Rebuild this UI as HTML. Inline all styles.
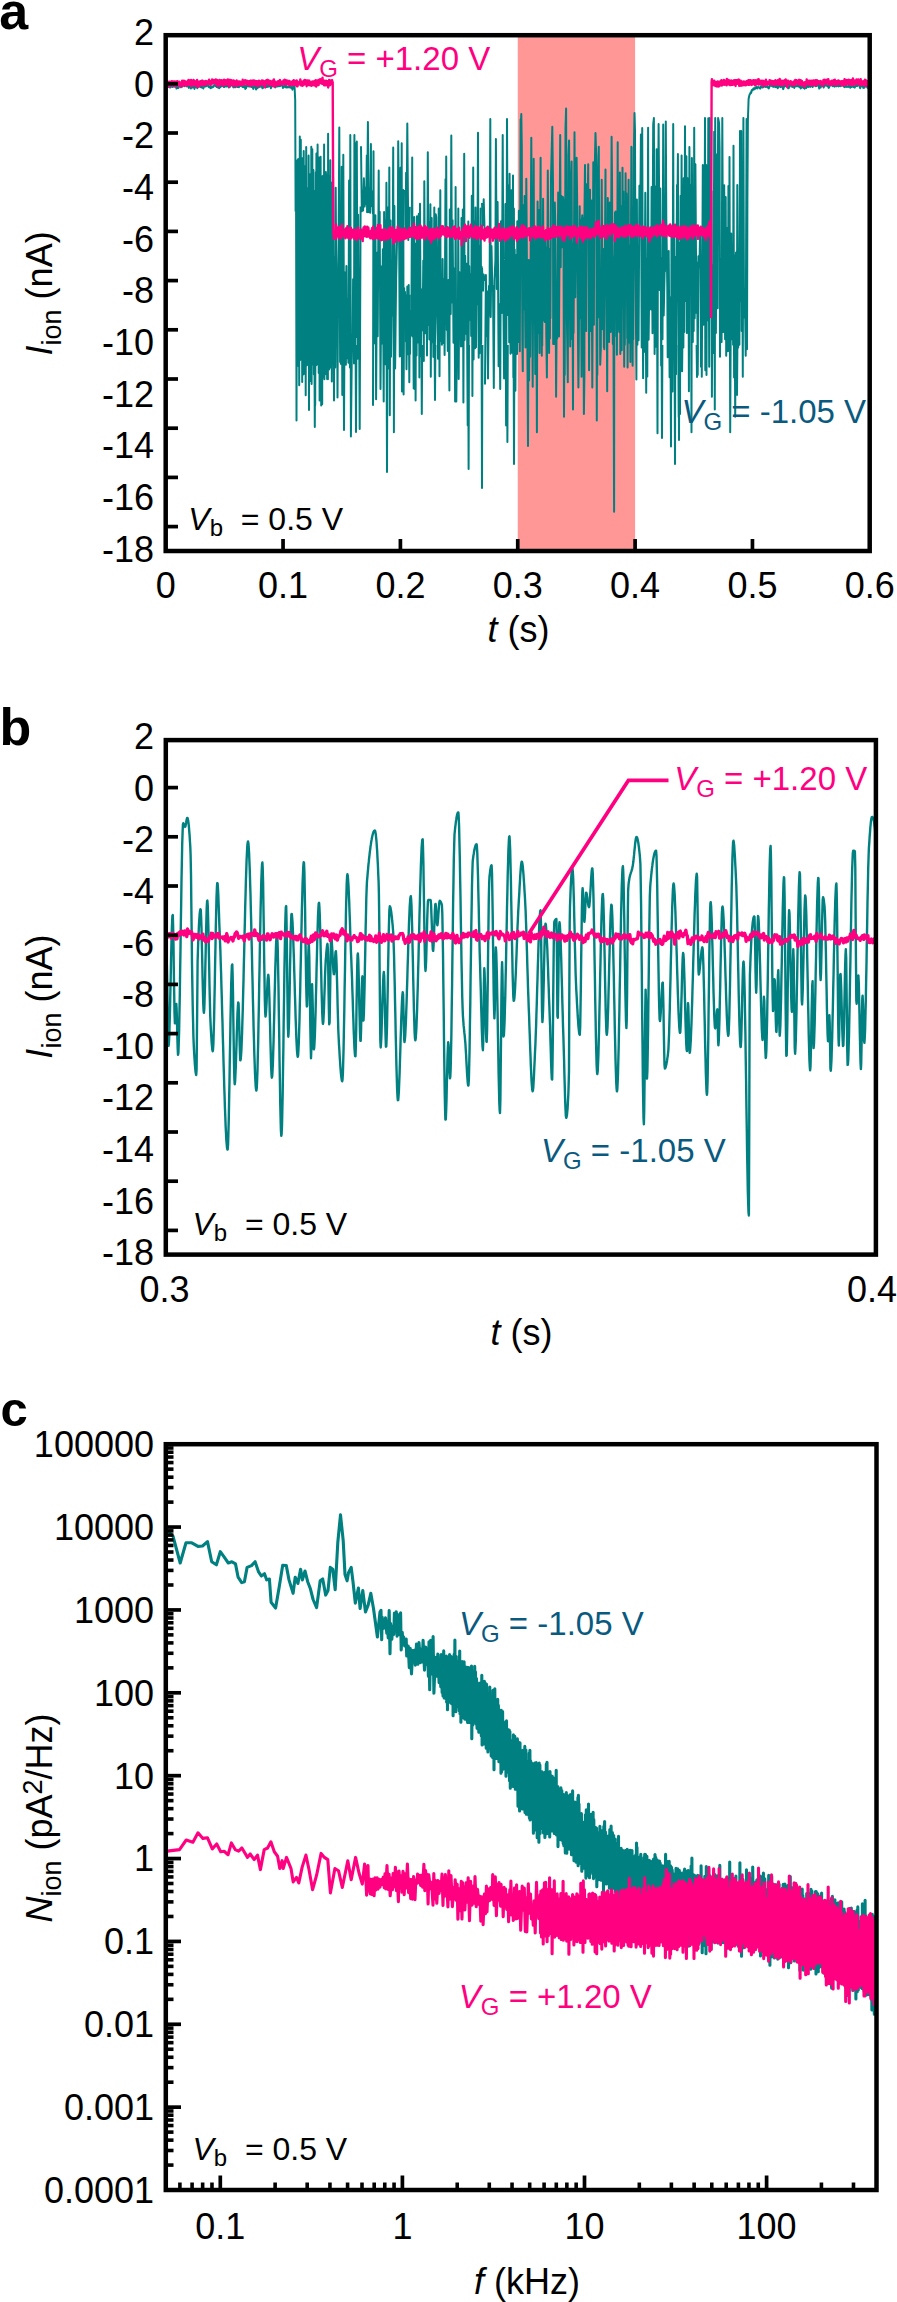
<!DOCTYPE html>
<html><head><meta charset="utf-8"><style>
html,body{margin:0;padding:0;background:#fff;}
svg{display:block;}
text{font-family:"Liberation Sans", sans-serif;}
</style></head><body>
<svg width="897" height="2302" viewBox="0 0 897 2302">
<rect width="897" height="2302" fill="#fff"/>
<text x="-0.8" y="28.8" font-size="52" text-anchor="start" fill="#000" font-weight="bold">a</text>
<rect x="517.75" y="37" width="117.35" height="512" fill="#FF9797"/>
<polyline points="166.5,86.4 166.9,86.4 167.3,86.3 167.7,84.4 168.1,85.3 168.5,87 168.9,84.9 169.3,85.7 169.7,86.6 170.1,87.5 170.5,84.7 170.9,85.1 171.3,85.2 171.7,83.2 172.1,87 172.5,86.9 172.9,86.9 173.3,86.7 173.7,85.9 174.1,85.4 174.5,86.4 174.9,86.7 175.3,84.8 175.7,86.7 176.1,86.3 176.5,88.6 176.9,88.3 177.3,87.8 177.7,87 178.1,87.3 178.5,88 178.9,86.7 179.3,86.2 179.7,85.7 180.1,85.1 180.5,86.7 180.9,87.3 181.3,86.1 181.7,86.2 182.1,85.7 182.5,86.1 182.9,84.8 183.3,85.7 183.7,84.2 184.1,84.2 184.5,86.3 184.9,84.6 185.3,85.5 185.7,84.8 186.1,85.3 186.5,84.7 186.9,86.5 187.3,86.4 187.7,85.6 188.1,86 188.5,86.4 188.9,87.9 189.3,86.1 189.7,86.3 190.1,86.4 190.5,86.8 190.9,88.5 191.3,86.9 191.7,86.7 192.1,85 192.5,87.6 192.9,86.7 193.3,84.6 193.7,84.7 194.1,85.9 194.5,88.9 194.9,86.3 195.3,86.6 195.7,87 196.1,85.8 196.5,87.1 196.9,86.9 197.3,88.3 197.7,86.5 198.1,86 198.5,86.3 198.9,85.8 199.3,86.4 199.7,85.5 200.1,85.7 200.5,87 200.9,87.3 201.3,87.4 201.7,86.4 202.1,86.5 202.5,87.7 202.9,87.5 203.3,88.5 203.7,87.2 204.1,86.4 204.5,85.5 204.9,86.3 205.3,86.5 205.7,86.1 206.1,86.3 206.5,85.6 206.9,84.3 207.3,83.9 207.7,84.7 208.1,86 208.5,86.7 208.9,87.3 209.3,87.3 209.7,86.4 210.1,87.7 210.5,88.2 210.9,86.6 211.3,87 211.7,87.7 212.1,86.5 212.5,87.1 212.9,86.6 213.3,86.9 213.7,85.6 214.1,85.2 214.5,85.5 214.9,84.7 215.3,86 215.7,86 216.1,86.1 216.5,86.9 216.9,85.5 217.3,86.4 217.7,87.3 218.1,87.5 218.5,87.2 218.9,88.1 219.3,88.2 219.7,86.1 220.1,87.1 220.5,87 220.9,85.9 221.3,86.3 221.7,84.8 222.1,85 222.5,84.9 222.9,86.1 223.3,85.6 223.7,87.1 224.1,86.8 224.5,86.9 224.9,85.8 225.3,86.2 225.7,84.8 226.1,83.5 226.5,86.4 226.9,85.7 227.3,84 227.7,85 228.1,84.3 228.5,87.1 228.9,87.5 229.3,86.1 229.7,87 230.1,85 230.5,86 230.9,83.3 231.3,83.8 231.7,85.2 232.1,85.4 232.5,85.1 232.9,84.2 233.3,87.3 233.7,87.4 234.1,84.6 234.5,86.3 234.9,86 235.3,87.3 235.7,85.3 236.1,84.3 236.5,84.9 236.9,85.7 237.3,87.1 237.7,86.8 238.1,86.6 238.5,85.5 238.9,87.2 239.3,85.5 239.7,85.3 240.1,85.7 240.5,86 240.9,84.4 241.3,85.6 241.7,85.9 242.1,85.9 242.5,86.9 242.9,86.4 243.3,87 243.7,87.2 244.1,86.3 244.5,85.4 244.9,86 245.3,88.9 245.7,88.4 246.1,88.1 246.5,85.4 246.9,86.3 247.3,85.1 247.7,85.9 248.1,86.3 248.5,85.2 248.9,86.5 249.3,85.1 249.7,84.7 250.1,86.4 250.5,85.1 250.9,84.9 251.3,87 251.7,85.2 252.1,84.9 252.5,84.9 252.9,87.4 253.3,88.9 253.7,87.2 254.1,87.6 254.5,86 254.9,87.1 255.3,86.6 255.7,87.3 256.1,89.5 256.5,87.4 256.9,86.4 257.3,88.3 257.7,87.7 258.1,86.3 258.5,85.1 258.9,87.3 259.3,86.5 259.7,86.7 260.1,86.7 260.5,86.6 260.9,84.5 261.3,85.2 261.7,85.7 262.1,87.4 262.5,88.3 262.9,88.1 263.3,85.9 263.7,86.8 264.1,86.5 264.5,85.1 264.9,85.5 265.3,85.4 265.7,84.5 266.1,84.3 266.5,87.1 266.9,84.7 267.3,86.8 267.7,86.9 268.1,86.6 268.5,85.4 268.9,85.9 269.3,85.8 269.7,86.2 270.1,85.9 270.5,85.9 270.9,88.2 271.3,86.6 271.7,85.9 272.1,85.1 272.5,86.2 272.9,85.8 273.3,86.1 273.7,85.5 274.1,86.5 274.5,85.4 274.9,85.9 275.3,87.4 275.7,86.4 276.1,86.6 276.5,86.4 276.9,85.9 277.3,86.5 277.7,86.1 278.1,85.9 278.5,86.1 278.9,85 279.3,85 279.7,86.3 280.1,86.1 280.5,84.9 280.9,85 281.3,83.2 281.7,85.5 282.1,85.6 282.5,85.4 282.9,87.9 283.3,86.2 283.7,86.5 284.1,86.1 284.5,86.8 284.9,85.3 285.3,87.3 285.7,85.6 286.1,85.9 286.5,87.5 286.9,87.5 287.3,86.6 287.7,86.7 288.1,87.1 288.5,86.4 288.9,87.2 289.3,86.1 289.7,87.4 290.1,86.8 290.5,86.9 290.9,87.6 291.3,88.1 291.7,86.6 292.1,87 292.5,89.7 292.9,87.3 293.3,87.4 293.7,87.5 294.1,86.3 294.5,85.3 295.2,100 295.6,211 296,165.7 296.5,420.5 297.1,160.6 297.6,365.6 298.2,158.9 298.6,366.2 298.9,190.7 299.2,385.2 299.8,136.6 300.2,360.1 300.8,139.7 301.3,358.9 301.8,157.9 302.2,382 302.7,174 303.2,374.5 303.7,151.1 304.1,365 304.7,170.9 305,374 305.4,166.1 305.7,395.3 306.2,147 306.5,365.5 306.9,188 307.6,352.1 307.9,189.8 308.2,365.1 308.6,155.5 309,409.9 309.4,174 310.1,381.1 310.5,182.2 311,372.8 311.3,146.7 311.6,384.1 312.3,149.3 312.8,364.5 313.4,170.1 313.9,374.3 314.6,191 315.2,405.3 315.8,172.3 316.1,365.2 316.4,153.5 317,364.6 317.6,144.5 318,358.6 318.4,166.7 318.7,372.9 319,157.4 319.6,400.6 320,182.6 320.3,375 320.6,156.7 321.2,405.5 321.7,183.8 322.2,404.3 322.6,176 323,377.3 323.3,175.5 323.8,365.1 324.1,144.6 324.4,379.2 324.7,190.9 325.3,374.3 325.9,172.1 326.3,359.9 326.6,180.5 327.1,378.9 327.4,174.6 327.9,379.2 328.1,133.8 328.5,369.7 328.8,175.9 329.1,369.6 329.6,191.6 329.9,367.7 330.3,160.2 330.9,354.2 331.5,182.7 331.8,381.5 332,282.5 332.4,317.3 333.1,177.6 334,400.4 334.4,257 335.2,367.5 335.7,187.7 336.6,340.2 337,288 337.5,397.6 338.2,266.1 338.6,241.6 339.3,127.4 340.1,362 340.7,286.2 341,363.9 341.7,166.7 342.3,394.9 343.3,154.8 344.1,365.7 345,272.5 345.9,364.8 346.4,266.1 346.9,358.3 347.7,299 348.4,362.8 349.1,180.6 349.9,367.4 350.3,134.9 350.9,436.6 351.9,346.7 352.7,337.1 353.1,279.2 354,363.6 354.4,135 355,362.5 355.6,143.4 356.2,337 356.8,141.5 357.6,358.8 358.1,214.7 358.7,352.4 359.1,314 359.7,429 360.6,206.5" fill="none" stroke="#008080" stroke-width="2.0" stroke-linejoin="round" />
<polyline points="361,146.3 361.8,211.3 362.7,191 363.1,210.6 363.9,178.3 364.6,206.6 365.6,187.5 366.2,204.2 366.8,155.6 367.1,212.2 367.9,121.9 368.6,212 369.6,188.6 370.2,212.8 370.9,143.9 371.2,206 372,191 373,214.1" fill="none" stroke="#008080" stroke-width="2.0" stroke-linejoin="round" />
<polyline points="373,405.7 373.5,151.2 374.1,339.1 374.6,287.3 375,343.6 375.4,215.2 376.1,399.3 377,252.7 377.7,336.2 378.7,170.6 379.2,286 379.7,211.8 380.5,389 381.4,266.5 382,343.4 382.8,249.3 383.7,401.4 384.1,211.9 385.1,364.2 385.4,220.2 385.8,364.2 386.4,182.8 387.2,362.4 387.8,207.5 388.6,368.6 389.3,167.4 389.8,415.2 390.5,220.4 391,356.7 391.9,280.6 392.4,315.6 393.2,147.5 393.9,432.3 394.4,205.9 395.1,368.4 396.1,280.8 397,239.7 397.9,225.1 398.2,141.2 399.2,249.9 399.8,356.4 400.5,167.8 401.3,356 401.7,143.2 402,391.5 402.3,274.7 402.7,355.7 403.3,189.9 403.6,394.6 404.2,287.6" fill="none" stroke="#008080" stroke-width="2.0" stroke-linejoin="round" />
<polyline points="405,190 405.6,233.6 406.1,172.7 406.5,237.6 407.3,123.6 408.3,240.1 408.7,212.1 409.3,230.7 409.8,206.8" fill="none" stroke="#008080" stroke-width="2.0" stroke-linejoin="round" />
<polyline points="405,291.2 405.6,341.2 406.1,295.7 406.5,369.3 407.3,286.6 408.3,354.2 408.7,285 409.3,382.2 409.8,294.8" fill="none" stroke="#008080" stroke-width="2.0" stroke-linejoin="round" />
<polyline points="410,354.6 410.5,310.8 411.3,335.2 412.2,157.6 412.6,336.6 413.1,285.4 413.7,388.4 414.3,217.1 414.7,389 415.1,243.6 415.6,400.5 416,282 416.6,355.6 417,216.3 418,342.5 418.8,213.8 419.4,377.6 420,203.7 420.8,356.3 421.7,289.6 422.6,330.3 423.3,260.6 423.8,360.9 424.3,181.2 425.2,333.3 426.1,231.5 427,355.6 427.8,152.3 428.7,325.1 429.1,221.7 429.4,339.5 430.4,204.3 430.8,376.8 431.7,218 432,342.3 432.7,240.5 433.4,357.1 434.3,207.4 434.8,352.7 435.5,311.3 435.8,214.3 436.2,217.2 436.6,258.2 437.1,290.9 438,358.7 438.7,208.6 439.5,376.2 440.3,190.2 440.6,340.9 441.5,308.6 441.9,344.7 442.6,259.1 443.4,343.1 443.9,279 444.6,355.1 445.5,179.3 445.9,309.7 446.2,156.4 446.8,329.9 447.4,320.4 447.8,351.1 448.4,280.1 449.4,390.5 449.8,209.6 450.7,314.1 451.3,135.5 452,302.5 452.6,220.2 453.5,342.8 453.9,313.9 454.2,290 454.5,268.3 455.1,401.4 455.6,187 456.3,401.5 457.2,313.4 457.8,352.6 458.3,208.4 458.7,379.1 459.3,272.1 459.6,339.1 460.4,278.3 461,346.6 461.5,218 462,345.9 462.8,209.6 463.4,402.6 464.2,153.7 464.6,339.9 465.2,255.7 466.2,333.7 466.7,263.7 467.7,425.2 468.3,221.5 468.6,347.8 469.2,266.1 470.1,319.7 470.8,274.1 471.2,336.1 471.8,195.7 472.4,396.1 473.2,167.4 473.6,359.4 474.2,221.2 475.1,348.3 475.5,207.5 476,347.3 476.8,249.5 477.2,304.3 478,132.7 478.7,357.8 479.5,245.9 479.9,353.2 480.7,208.5 481.2,343.9 481.5,266" fill="none" stroke="#008080" stroke-width="2.0" stroke-linejoin="round" />
<polyline points="482,203 483,224.9 483.7,199.3 484.7,235.5" fill="none" stroke="#008080" stroke-width="2.0" stroke-linejoin="round" />
<polyline points="482,267.6 483,290.8 483.7,274.6 484.7,281" fill="none" stroke="#008080" stroke-width="2.0" stroke-linejoin="round" />
<polyline points="485,384.4 485.9,275.1 486.7,335.9 487.2,291.5 488,378.6 488.9,286 489.5,314.6 490.3,119.1 490.7,317.1 491.5,245.9 492.3,289.6 493,286 493.8,387.9 494.5,280.5 495.4,260 495.9,139.1 496.8,289.1 497.6,202.1 498.6,366.3 499.6,304.3 500.2,388.9 501,221.2 501.7,313 502.1,264.1 502.7,135 503.5,311.5 504.1,378.4 504.8,275.1 505.1,329 505.4,203.9 506.1,425.6 507,119.1 507.9,315 508.4,185.7 509.2,342.2 509.6,173.8 510.5,353.8 511.5,190.2 512.3,352.8 513,175.6 513.5,377.3 513.9,208.5 514.3,317.9 514.7,249.5 515.4,390.7 516.1,255 517,354 517.3,221.2 517.8,226.2 517.9,256.3 518.2,342.1 518.9,210.7 519.3,320.2 519.5,300.1 519.8,351.2 520.6,119.4 520.9,123.1 521.3,114 521.8,146.8 522.1,283.7 522.4,342.1 522.8,371.3 523,250.8 523.5,205.2 524,309.2 524.6,196.1 525.2,320.2 525.5,347.6 526.3,178.8 526.7,228.9 528,446.1 528.7,260 529.1,380.4 529.7,298.3 530.1,356.7 531.3,137.7 532.7,386.7 533.7,158.7 534.2,312.8 534.7,270.9 535.3,374 536.1,228.9 536.9,432.3 537.6,201.5 538,332.9 538.5,209.8 539.6,353 540.6,157.8 541.1,303.7 541.4,239.9 541.8,355.7 541.9,280 542.2,345.7 543.1,198.8 543.7,320.2 544.2,256.2 544.5,239.9 544.8,322 545.1,232.6 545.5,270.9 545.8,247.2 546.3,334.7 546.9,377.6 547.8,170.5 548.4,258.1 549.1,353 549.5,249 549.9,338.4 550.2,270.9 550.4,318.3 551,177.8 552.3,126.7 553,183.3 553.2,343.9 553.8,268.1 554.2,343.9 554.8,202.5 555.3,225.3 556.1,396.8 556.9,288.2 557.2,338.4 558.2,192.4 559,336.6 560.2,135 560.7,267.2 561.1,196.1 561.5,196.1 561.9,247.2 562.3,199.7 562.6,221.6 563,197 563.4,201.2 564,416.8 564.4,338.4 564.7,374.9 565.5,128.6 566.1,108.5 566.8,311 567.2,338.4 567.8,382.2 568.5,155.9 569.1,140.4 569.7,265.4 570.2,346.6 570.4,264.5 570.8,339.3 571.2,174.2 571.6,161.4 572.1,314.7 572.3,243.5 573,409.5 573.3,258.1 573.6,332.9 574.5,132.2 575.3,297.3 576.1,199.7 576.6,157.8 577.1,196.2 577.7,301.9 578.4,387.6 578.8,347.5 579.7,206.2 580,318.3 580.5,219.8 581.2,311 581.6,376.7 582,218 582.3,215.2 582.5,317.4 582.8,218 583.5,332.9 583.9,414.1 584.4,374.9 584.5,210.7 585,165.1 585.6,283.7 586.2,331.1 586.6,184.2 586.9,218 587.2,188.8 587.7,203.4 588.2,164.2 589.1,370.3 590,189.7 590.6,331.1 591.4,200.6 592.3,387.6 593.3,162.3 593.9,324.7 594.2,183.2 594.9,161.4 595.5,133.1 596.2,155.9 596.8,420.5 597.1,285.5 597.3,374.9 597.8,183.3 598.8,146.8 599.4,317.4 599.9,278.2 600.2,364.8 600.8,349.3 601.7,179.7 602.7,329.3 603.3,249 603.9,347.5 604.1,298.3 604.3,349.3 605.5,169.6 605.8,270.9 606.4,243.5 607.2,391.3 607.8,197.9 608.5,324.7 608.9,305.5 609.1,342 609.8,202.5 610.7,332 611.6,136.8 612,174.2 612.8,343.9 613.2,257.2 614.1,511.7 614.3,276.2 615,212.5 615.3,289.2 615.6,211.6 616.4,336.6 616.6,292.8 616.9,354.8 617.7,142.2 618.1,307.4 618.4,274.5 618.7,329.3 619,266.3 619.2,332 619.9,172.4 620.3,353.9 620.8,206.1 621.2,308.3 621.5,245.3 621.7,350.2 622.5,167.8 622.9,301 623.4,191.5 624.2,366.7 624.6,277.3 624.8,344.8 625.6,173.3 626,276.4 626.4,193.3 626.6,203.2 627.2,338.4 627.4,311 627.6,367.6 628.6,179.7 629,342 629.2,269.1 629.7,342.9 630.1,245.3 630.4,362.1 631.4,146.8 631.6,147.7 631.9,301 632.2,270.9 632.6,365.7 632.9,290.9 633.2,339.3 634,143.2 634.5,113.1 635,131.2 635.4,257.1 636.4,379.5 636.9,199.5 637.4,344.8 638,298.9 638.6,340.2 639.4,185.7 640.2,223.4 640.9,134.5 641.7,347.4 642.2,128.1 643.1,378.3 643.9,232.9 644.3,351.8 645.3,192.7 646.2,392.8 647,258.4 647.3,376.4 648.1,127.8 648.6,339.8 649.6,261.9 650,268.5 650.5,230.8 651,309.6 651.6,187 652.5,333.2 652.8,198.8 653.2,124.3 653.9,118 654.6,354.1 655.5,186.8 656.2,346.8 656.6,149.3 657.5,433.3 657.9,226.9 658.6,124.1 659.1,193 659.6,290.1 660.3,188.4 661.2,365.6 661.8,257.7 662.5,339.2 663.2,124.4 663.7,315.4 664.7,266.7 665,271.6 665.8,121.6 666.3,218.6 667.3,286.7 667.7,357.2 668.7,251 669.6,377.2 670.2,297.4 671,446.5 671.5,231.7 672.5,391.6 673.2,124 673.7,318.6 674.1,226.2 675,463.9 675.5,257.1 676,374.2 677,184.9 677.3,221.7 677.9,153.9 678.8,416.9 679.3,243.2 680,414.1 680.6,195.8 680.9,343.9 681.6,155.6 682.1,371.3 683,286 683.4,347.6 683.7,178.3 684.3,332 685,126.3 685.5,301 686.4,156.3 686.9,332.9 687.5,178.2 688,317.4 688.3,188.3 688.9,391.3 689.4,147.1 690.2,270.9 690.8,185.4 691.5,432.3 691.9,158 692.8,342 693.3,230.9 693.7,331.1 694.2,127.8 694.7,318.3 695.4,164.3 696.4,312.8 697.1,262.8 697.7,374.9 698.4,256.3 699.4,267.2 700.2,228.9 701,366.7 701.5,256.3 701.8,376.7 702.8,165 703.5,324.7 703.9,186.8 704.5,247.2 705,118 705.3,370.3 706.2,164.9 706.5,374.9 707,187.7 707.7,320.2 708.3,118.3 709.2,366.7 709.7,118 710.6,301 711.5,191.2 711.9,396.8 712.5,265 713.5,353 714.2,131.8 714.8,409.5 715.2,118 715.9,332.9 716.8,154.5 717.6,308.3 718.1,118 719.1,123.1 719.6,149 720,356.7 720.9,259.3 721.6,342 722.3,118 723.3,332 724.2,185.3 725.1,339.3 725.7,197.1 726.2,355.7 727,228.1 728,351.2 728.4,186.1 729.1,339.3 729.5,156.9 730.2,432.3 731.2,233.5 731.8,339.3 732.6,244.4 733.1,344.8 733.5,145.8 734.1,377.6 734.5,255.3 735.2,416.8 736,252.4 736.9,345.7 737.3,184.9 738.2,347.5 738.8,264.2 739.4,344.8 740,131 740.6,301 741.2,131 741.7,331.1 742.3,248.6 742.8,376.7 743.4,118 744,317.4 744.9,289.6 745.7,355.7 746.6,119 747,349.3 747.4,200 747.9,120 748.6,99 749.2,96 749.7,94.3 750.2,93.9 750.7,92.2 751.2,92.9 751.7,90.3 752.2,89.9 752.7,90.2 753.2,88.7 753.7,88.4 754.2,89.3 754.7,89.3 755.2,87.4 755.7,88.2 756.2,87.3 756.7,86.5 757.2,88.6 757.7,87.5 758.2,87.5 758.7,87.1 759.2,87.5 759.7,88 760.2,88.6 760.7,87.4 761.2,85.9 761.7,87.1 762.2,87.4 762.7,87.4 763.2,87.2 763.7,86.5 764.2,86.3 764.7,86.3 765.2,87 765.7,86 766.2,86.3 766.7,86.9 767.2,86.6 767.7,86.8 768.2,87.8 768.7,88.5 769.2,87.4 769.7,85.7 770.2,85.7 770.7,85.6 771.2,85.6 771.7,85.8 772.2,86.1 772.7,84.3 773.2,86.9 773.7,86.4 774.2,86 774.7,86 775.2,87.1 775.7,86 776.2,86.4 776.7,87.1 777.2,85.3 777.7,88.2 778.2,87.5 778.7,86.1 779.2,86.4 779.7,86.2 780.2,86.6 780.7,87.1 781.2,85.1 781.7,86.2 782.2,86.2 782.7,87.6 783.2,89.1 783.7,87.4 784.2,85.9 784.7,86.5 785.2,85.3 785.7,85.1 786.2,86 786.7,83.3 787.2,85.3 787.7,84.9 788.2,88.3 788.7,88.2 789.2,86.2 789.7,86.6 790.2,85.1 790.7,85.4 791.2,84.9 791.7,85.1 792.2,87 792.7,84.6 793.2,85.1 793.7,85.4 794.2,87.9 794.7,86.7 795.2,85.9 795.7,85 796.2,86.4 796.7,85.2 797.2,85.7 797.7,86.3 798.2,86 798.7,85.5 799.2,86.9 799.7,86 800.2,86.9 800.7,88.4 801.2,87.7 801.7,87.7 802.2,86.1 802.7,85.9 803.2,86.3 803.7,88.1 804.2,88.2 804.7,88.6 805.2,86.4 805.7,87.7 806.2,88 806.7,86.4 807.2,85.3 807.7,84.9 808.2,87 808.7,84.9 809.2,85.8 809.7,85.2 810.2,86.9 810.7,85.4 811.2,86.2 811.7,84.7 812.2,86.1 812.7,86.9 813.2,85.5 813.7,85 814.2,85.1 814.7,84.4 815.2,84.6 815.7,86.3 816.2,85.3 816.7,86 817.2,85.7 817.7,85.2 818.2,84.8 818.7,84.9 819.2,88.5 819.7,84.8 820.2,86 820.7,87.5 821.2,85 821.7,83.7 822.2,84.5 822.7,85.6 823.2,86.4 823.7,87.5 824.2,86.2 824.7,86 825.2,83 825.7,84.8 826.2,84.2 826.7,85.5 827.2,86.2 827.7,85.5 828.2,86 828.7,87.9 829.2,87 829.7,85.3 830.2,85.6 830.7,84.5 831.2,85.3 831.7,85 832.2,85.5 832.7,86.2 833.2,86 833.7,85.8 834.2,85.9 834.7,86.6 835.2,83.9 835.7,84.3 836.2,85 836.7,86.3 837.2,84.9 837.7,84.8 838.2,85.2 838.7,86.4 839.2,86 839.7,85.9 840.2,85.9 840.7,86.2 841.2,85.5 841.7,83.9 842.2,85 842.7,84.9 843.2,85.9 843.7,86.3 844.2,86.9 844.7,87.2 845.2,86.8 845.7,86.2 846.2,85.3 846.7,86.9 847.2,86.4 847.7,86.8 848.2,86.9 848.7,85.2 849.2,86.3 849.7,86.1 850.2,87.7 850.7,85.8 851.2,86.5 851.7,86.9 852.2,84.6 852.7,86.4 853.2,86.9 853.7,86.1 854.2,87.4 854.7,87.6 855.2,86.6 855.7,85.6 856.2,85.4 856.7,85.8 857.2,86.1 857.7,85.6 858.2,85.1 858.7,84.8 859.2,84 859.7,86.8 860.2,88.2 860.7,86.8 861.2,86 861.7,86 862.2,86.1 862.7,85.3 863.2,87.9 863.7,86.7 864.2,87.8 864.7,87.3 865.2,85.1 865.7,85.1 866.2,84.9 866.7,85.6 867.2,87.4 867.7,87.8 868.2,88.3 868.7,86.1" fill="none" stroke="#008080" stroke-width="2.0" stroke-linejoin="round" />
<polyline points="314.4,345 314.8,427 315.2,345" fill="none" stroke="#008080" stroke-width="2.0" stroke-linejoin="round" />
<polyline points="343.6,345 344,430 344.4,345" fill="none" stroke="#008080" stroke-width="2.0" stroke-linejoin="round" />
<polyline points="355.6,345 356,432 356.4,345" fill="none" stroke="#008080" stroke-width="2.0" stroke-linejoin="round" />
<polyline points="386.6,345 387,472 387.4,345" fill="none" stroke="#008080" stroke-width="2.0" stroke-linejoin="round" />
<polyline points="421.4,345 421.8,414 422.2,345" fill="none" stroke="#008080" stroke-width="2.0" stroke-linejoin="round" />
<polyline points="434.6,345 435,400 435.4,345" fill="none" stroke="#008080" stroke-width="2.0" stroke-linejoin="round" />
<polyline points="468.2,345 468.6,469 469,345" fill="none" stroke="#008080" stroke-width="2.0" stroke-linejoin="round" />
<polyline points="481.6,345 482,488 482.4,345" fill="none" stroke="#008080" stroke-width="2.0" stroke-linejoin="round" />
<polyline points="507,345 507.4,442 507.8,345" fill="none" stroke="#008080" stroke-width="2.0" stroke-linejoin="round" />
<polyline points="513.6,345 514,464 514.4,345" fill="none" stroke="#008080" stroke-width="2.0" stroke-linejoin="round" />
<polyline points="661.6,345 662,438 662.4,345" fill="none" stroke="#008080" stroke-width="2.0" stroke-linejoin="round" />
<polyline points="678.6,345 679,440 679.4,345" fill="none" stroke="#008080" stroke-width="2.0" stroke-linejoin="round" />
<polyline points="696.6,345 697,377 697.4,345" fill="none" stroke="#008080" stroke-width="2.0" stroke-linejoin="round" />
<polyline points="736.6,345 737,395 737.4,345" fill="none" stroke="#008080" stroke-width="2.0" stroke-linejoin="round" />
<polyline points="166.5,82.4 166.8,84.4 167.1,81.2 167.4,86 167.7,81.5 168,84.3 168.3,81.9 168.6,84.5 168.9,82.5 169.2,86.5 169.5,81.7 169.8,84.8 170.1,82.4 170.4,84.5 170.7,82.6 171,83.9 171.3,81.5 171.6,85.4 171.9,81.3 172.2,85.7 172.5,82.7 172.8,84.7 173.1,83.5 173.4,85.1 173.7,81.5 174,84.9 174.3,81.9 174.6,86.1 174.9,81.4 175.2,86 175.5,82.5 175.8,84.7 176.1,81.8 176.4,84.8 176.7,81.7 177,84.2 177.3,81.1 177.6,84.2 177.9,81.6 178.2,86 178.5,82.6 178.8,85.9 179.1,81.7 179.4,85.4 179.7,82.9 180,84.9 180.3,83.3 180.6,85.4 180.9,82.5 181.2,85.8 181.5,82.1 181.8,86.7 182.1,80.8 182.4,85.7 182.7,81.1 183,84.7 183.3,82.2 183.6,84.3 183.9,80.7 184.2,83.8 184.5,81 184.8,85.5 185.1,82.2 185.4,85.2 185.7,81.7 186,85.2 186.3,82.1 186.6,85.5 186.9,81.8 187.2,85.5 187.5,81.5 187.8,84.5 188.1,80.4 188.4,83.2 188.7,79.9 189,84.8 189.3,80.1 189.6,84 189.9,80.7 190.2,85 190.5,81.3 190.8,84.5 191.1,80 191.4,86.3 191.7,80.9 192,84 192.3,81.2 192.6,83.2 192.9,82.1 193.2,84.6 193.5,79.9 193.8,85.5 194.1,82.5 194.4,83.8 194.7,80.9 195,84.6 195.3,82.8 195.6,85.6 195.9,82.3 196.2,85.7 196.5,82.7 196.8,85.9 197.1,80 197.4,86.5 197.7,82.8 198,86.3 198.3,82.7 198.6,86.7 198.9,81.8 199.2,85.4 199.5,81.7 199.8,85.3 200.1,82.1 200.4,83.4 200.7,81.1 201,84.8 201.3,81.3 201.6,85.1 201.9,80.6 202.2,84 202.5,80.7 202.8,83.9 203.1,81.3 203.4,85.3 203.7,82.4 204,85.1 204.3,82.4 204.6,83.2 204.9,81.2 205.2,84 205.5,81 205.8,84.8 206.1,82.2 206.4,83.4 206.7,81.5 207,83.9 207.3,81.8 207.6,83.2 207.9,82.1 208.2,83.3 208.5,80.6 208.8,83.9 209.1,79.6 209.4,84 209.7,81.5 210,83.2 210.3,82 210.6,85.1 210.9,81.3 211.2,83 211.5,81.2 211.8,83.9 212.1,79.5 212.4,83.6 212.7,79.8 213,82.5 213.3,80 213.6,82.6 213.9,80.3 214.2,83.3 214.5,80.2 214.8,83.7 215.1,80.6 215.4,83.4 215.7,79.4 216,82.8 216.3,80.9 216.6,82.1 216.9,79.9 217.2,85.6 217.5,81.8 217.8,84.2 218.1,81.2 218.4,86.3 218.7,81.4 219,82.3 219.3,80 219.6,85.1 219.9,80.3 220.2,83 220.5,81.6 220.8,84.2 221.1,80.2 221.4,84.4 221.7,82.1 222,84 222.3,80.6 222.6,84.2 222.9,81.2 223.2,85.7 223.5,80.3 223.8,85.1 224.1,79.6 224.4,84 224.7,80.6 225,83.5 225.3,81 225.6,84.5 225.9,80.2 226.2,84.8 226.5,81.6 226.8,83.4 227.1,81.6 227.4,83.7 227.7,79.5 228,84.3 228.3,80.9 228.6,83 228.9,80 229.2,86.8 229.5,79.9 229.8,82.9 230.1,80.8 230.4,83.8 230.7,79.9 231,83.1 231.3,81.3 231.6,84.8 231.9,80.6 232.2,83.8 232.5,80.8 232.8,85.8 233.1,81.5 233.4,84.1 233.7,80.4 234,85.2 234.3,80.9 234.6,83.6 234.9,81.2 235.2,85.5 235.5,82.4 235.8,85.7 236.1,82.5 236.4,86.1 236.7,80.5 237,85.5 237.3,82.2 237.6,85.2 237.9,81.9 238.2,84.8 238.5,81.5 238.8,85.1 239.1,82.6 239.4,84.8 239.7,81.5 240,84.9 240.3,81.7 240.6,85.1 240.9,82.6 241.2,83.8 241.5,83.1 241.8,84.8 242.1,81.6 242.4,84.7 242.7,79.8 243,83.1 243.3,81.5 243.6,83.8 243.9,81.1 244.2,84.9 244.5,80.6 244.8,83 245.1,80.1 245.4,83.3 245.7,80.5 246,82.9 246.3,81.2 246.6,84.1 246.9,81 247.2,84.2 247.5,81 247.8,84.8 248.1,82.2 248.4,85 248.7,81.5 249,85.2 249.3,82.1 249.6,83.7 249.9,80.9 250.2,85.2 250.5,80.6 250.8,84.5 251.1,80.6 251.4,85.7 251.7,81.6 252,85.3 252.3,80.8 252.6,84.5 252.9,81.8 253.2,83.3 253.5,80.5 253.8,83.8 254.1,80.6 254.4,84.8 254.7,80.6 255,83.5 255.3,82 255.6,85.3 255.9,81.2 256.2,83.4 256.5,81.2 256.8,83.8 257.1,81.9 257.4,86 257.7,83 258,85.8 258.3,81 258.6,85.7 258.9,80.6 259.2,83.4 259.5,81 259.8,85.4 260.1,82.3 260.4,84.9 260.7,82.1 261,83.4 261.3,81.7 261.6,83.8 261.9,80.4 262.2,83.3 262.5,81.2 262.8,84 263.1,80.8 263.4,85.5 263.7,81 264,85.1 264.3,82.1 264.6,84.5 264.9,82.2 265.2,87.5 265.5,81.2 265.8,83.5 266.1,80.4 266.4,83.9 266.7,81.1 267,83 267.3,79.9 267.6,83.6 267.9,79.9 268.2,83 268.5,81 268.8,84.1 269.1,81.1 269.4,84.3 269.7,80.6 270,85.3 270.3,80.9 270.6,85.1 270.9,81.8 271.2,83.8 271.5,82.5 271.8,84.1 272.1,81.5 272.4,85 272.7,80.8 273,86.1 273.3,81.2 273.6,85.4 273.9,79.4 274.2,85.8 274.5,82.6 274.8,86.5 275.1,83.2 275.4,84.2 275.7,81.8 276,84.5 276.3,82.6 276.6,85.5 276.9,83.2 277.2,84.8 277.5,82.4 277.8,83.7 278.1,81.1 278.4,84.3 278.7,82.2 279,84.8 279.3,81.4 279.6,84.8 279.9,79.9 280.2,83.6 280.5,82.4 280.8,84 281.1,82.3 281.4,83.2 281.7,81.8 282,83.3 282.3,82 282.6,84.6 282.9,82.1 283.2,83.1 283.5,80.4 283.8,83.3 284.1,81.9 284.4,83.9 284.7,79.7 285,84.3 285.3,80.6 285.6,84.2 285.9,80.3 286.2,84.3 286.5,80.5 286.8,83.8 287.1,80.8 287.4,83.9 287.7,80.6 288,84.4 288.3,81.8 288.6,84.5 288.9,81.9 289.2,83.7 289.5,81 289.8,85.6 290.1,81.9 290.4,84.6 290.7,81.9 291,83.6 291.3,82.2 291.6,84.6 291.9,82.2 292.2,85.1 292.5,81.3 292.8,83.7 293.1,81.8 293.4,83.3 293.7,80.1 294,85 294.3,80.5 294.6,84 294.9,81 295.2,84.6 295.5,82.5 295.8,85.1 296.1,82.2 296.4,83.2 296.7,80.4 297,86.4 297.3,81.2 297.6,86.2 297.9,82.4 298.2,84.6 298.5,82.5 298.8,83.5 299.1,82.3 299.4,84 299.7,82.1 300,83.9 300.3,79.4 300.6,85.2 300.9,81.3 301.2,84 301.5,81.5 301.8,85.3 302.1,81.7 302.4,85.8 302.7,81.8 303,83.6 303.3,81.7 303.6,85.1 303.9,81.2 304.2,84.5 304.5,79.9 304.8,84 305.1,81.8 305.4,83.6 305.7,80.1 306,83.1 306.3,82.3 306.6,86.2 306.9,80.9 307.2,85 307.5,80.4 307.8,84.5 308.1,81.5 308.4,85.1 308.7,80.8 309,83 309.3,80.6 309.6,83.7 309.9,82.7 310.2,85.3 310.5,82.3 310.8,84.7 311.1,82.8 311.4,85.8 311.7,83.4 312,85.5 312.3,81.4 312.6,84.2 312.9,82.8 313.2,83.2 313.5,82.5 313.8,85 314.1,81.3 314.4,85.5 314.7,81.2 315,84.5 315.3,80.5 315.6,85.1 315.9,80.2 316.2,86.6 316.5,81.6 316.8,85.4 317.1,81.3 317.4,84.2 317.7,82.3 318,84.7 318.3,80 318.6,85.1 318.9,81.3 319.2,83.1 319.5,81.2 319.8,82.4 320.1,79.1 320.4,83.1 320.7,79.8 321,82.8 321.3,79.4 321.6,83.6 321.9,79.9 322.2,83.9 322.5,77.6 322.8,82.7 323.1,81.9 323.4,83.6 323.7,80.5 324,85.2 324.3,80.8 324.6,84.6 324.9,82.6 325.2,85.4 325.5,81.2 325.8,84.5 326.1,80.8 326.4,84 326.7,81.5 327,85.4 327.3,81.1 327.6,83.6 327.9,81.5 328.2,87.5 328.5,81.2 328.8,83.9 329.1,80 329.4,83.5 329.7,82.4 330,85.2 330.3,81 330.6,83.7 330.9,80.4 331.2,84.1 331.5,81.8 331.8,83 332.1,80.1 332.4,84.5 332.7,82.1 333.3,234 333.6,232.6 333.9,238.9 334.2,231 334.5,237.4 334.8,233.1 335.1,237.3 335.4,233.5 335.7,238.7 336,224.4 336.3,236.8 336.6,228.1 336.9,234.7 337.2,228.8 337.5,235.1 337.8,232 338.1,236.1 338.4,227.3 338.7,238.1 339,230.9 339.3,237.6 339.6,230 339.9,234.5 340.2,227.3 340.5,237.2 340.8,228 341.1,238.3 341.4,232 341.7,237.8 342,224.4 342.3,234.3 342.6,230.7 342.9,234.6 343.2,230.5 343.5,235.7 343.8,230.2 344.1,234.1 344.4,230.8 344.7,235.7 345,229.4 345.3,238.3 345.6,229.5 345.9,237.3 346.2,228.2 346.5,237.1 346.8,231.7 347.1,235.1 347.4,226.3 347.7,237.6 348,232.9 348.3,237.4 348.6,228.2 348.9,237 349.2,231.4 349.5,238.8 349.8,230.9 350.1,233.7 350.4,232.6 350.7,238.5 351,228 351.3,237.5 351.6,231.4 351.9,235.1 352.2,230.3 352.5,235.5 352.8,233 353.1,236.7 353.4,229.8 353.7,238.1 354,233.1 354.3,238.8 354.6,229.5 354.9,237.3 355.2,231.8 355.5,234.8 355.8,233 356.1,236.2 356.4,232.8 356.7,240.1 357,230.3 357.3,235.8 357.6,230 357.9,234.4 358.2,227.4 358.5,236.6 358.8,230.1 359.1,236 359.4,230.9 359.7,238.5 360,230.6 360.3,233.9 360.6,230.6 360.9,238.8 361.2,230.3 361.5,238.3 361.8,229.6 362.1,238.3 362.4,232.2 362.7,241.1 363,229.7 363.3,234.6 363.6,227.4 363.9,233.5 364.2,229 364.5,233.9 364.8,226.4 365.1,236.4 365.4,230.6 365.7,233.5 366,232.1 366.3,234.2 366.6,227.1 366.9,236.9 367.2,226.7 367.5,234.6 367.8,230.3 368.1,236.5 368.4,227.7 368.7,233.3 369,231.5 369.3,236.4 369.6,231.6 369.9,237.7 370.2,231.4 370.5,238.4 370.8,231.8 371.1,235 371.4,230.5 371.7,237.4 372,228.3 372.3,237.2 372.6,228.5 372.9,239.1 373.2,226.7 373.5,236.3 373.8,230.2 374.1,234.2 374.4,231.1 374.7,236.5 375,232.8 375.3,238.6 375.6,231.5 375.9,234.3 376.2,231.5 376.5,233.2 376.8,227.9 377.1,236.3 377.4,229.2 377.7,238.4 378,224.9 378.3,235.7 378.6,230.2 378.9,237.3 379.2,228.1 379.5,238.6 379.8,228.1 380.1,235.5 380.4,225.1 380.7,239.8 381,232.9 381.3,240.2 381.6,229.7 381.9,239.1 382.2,230.4 382.5,239.7 382.8,229.7 383.1,239.4 383.4,233.3 383.7,235.5 384,232.9 384.3,237.6 384.6,233.4 384.9,237.9 385.2,229.5 385.5,240.1 385.8,233.4 386.1,237.8 386.4,232.8 386.7,239.3 387,233.2 387.3,234.3 387.6,230.8 387.9,234.2 388.2,229.4 388.5,234.9 388.8,229.2 389.1,238.5 389.4,230 389.7,236.4 390,227.3 390.3,234.9 390.6,227.7 390.9,237.2 391.2,232.2 391.5,235.1 391.8,228.8 392.1,233.6 392.4,227.5 392.7,238.2 393,228.8 393.3,243.4 393.6,229.8 393.9,238.8 394.2,231.2 394.5,236.9 394.8,230 395.1,237.6 395.4,233 395.7,241.7 396,231.9 396.3,237.1 396.6,229.8 396.9,239.4 397.2,230.2 397.5,239.4 397.8,226.5 398.1,236.7 398.4,228.6 398.7,235.4 399,229.6 399.3,240.6 399.6,229.9 399.9,238.9 400.2,230.5 400.5,236.1 400.8,234.2 401.1,240.1 401.4,229 401.7,236.8 402,230 402.3,239.5 402.6,231.2 402.9,237.8 403.2,229.8 403.5,235.4 403.8,232.2 404.1,239.1 404.4,228.5 404.7,235.7 405,228.9 405.3,238.4 405.6,231.6 405.9,238.5 406.2,230.6 406.5,235.8 406.8,232.7 407.1,237.6 407.4,230.4 407.7,236.5 408,232 408.3,237.2 408.6,230.3 408.9,234.6 409.2,228.5 409.5,234.4 409.8,227.8 410.1,236.9 410.4,228 410.7,234.5 411,229.4 411.3,235.1 411.6,231 411.9,235.9 412.2,228.2 412.5,236.5 412.8,228.6 413.1,234.5 413.4,230.5 413.7,233.2 414,223.8 414.3,233.9 414.6,229.9 414.9,237.2 415.2,230.7 415.5,238.3 415.8,227.1 416.1,234.4 416.4,231.2 416.7,238.7 417,229.3 417.3,236.5 417.6,228.9 417.9,239.1 418.2,227.3 418.5,234 418.8,227.1 419.1,234.8 419.4,226.1 419.7,235.3 420,232.1 420.3,238.2 420.6,225.7 420.9,236.9 421.2,228.8 421.5,237 421.8,227.8 422.1,237.6 422.4,227.7 422.7,236.7 423,230.8 423.3,235.9 423.6,230.7 423.9,235 424.2,229.7 424.5,239.5 424.8,226 425.1,233.7 425.4,230 425.7,234.6 426,230.1 426.3,235.1 426.6,231.9 426.9,235.6 427.2,227.3 427.5,236.2 427.8,232.6 428.1,238.3 428.4,230.7 428.7,239.1 429,231.9 429.3,237.4 429.6,232.5 429.9,236.2 430.2,229.4 430.5,235.7 430.8,228.9 431.1,242.5 431.4,229.3 431.7,235.9 432,229.3 432.3,237.9 432.6,231.7 432.9,235.9 433.2,232.8 433.5,239.5 433.8,228.7 434.1,237.2 434.4,229.4 434.7,238.3 435,231.5 435.3,237.7 435.6,230.4 435.9,236.8 436.2,229.7 436.5,235.6 436.8,229.6 437.1,234.6 437.4,227.6 437.7,234.8 438,229.7 438.3,238 438.6,230.7 438.9,238.3 439.2,232 439.5,235.1 439.8,230.3 440.1,236.4 440.4,229.1 440.7,236.3 441,226.2 441.3,232 441.6,228.1 441.9,234.3 442.2,226.6 442.5,234.3 442.8,226.1 443.1,231.8 443.4,229.1 443.7,234.5 444,229.7 444.3,234.5 444.6,228.4 444.9,235.3 445.2,228.2 445.5,236.2 445.8,230.6 446.1,236.6 446.4,228.5 446.7,237.1 447,227.7 447.3,233.7 447.6,227.3 447.9,234.5 448.2,228.1 448.5,234 448.8,228.2 449.1,236.5 449.4,228.6 449.7,235.9 450,231 450.3,235.2 450.6,232.2 450.9,236.9 451.2,230.6 451.5,233.2 451.8,230.5 452.1,234 452.4,230.6 452.7,236 453,227.1 453.3,236.3 453.6,227.8 453.9,233.5 454.2,227.8 454.5,237.2 454.8,226.4 455.1,238.8 455.4,228.6 455.7,238.7 456,231.6 456.3,238 456.6,228.9 456.9,237.6 457.2,231.7 457.5,234.1 457.8,231.5 458.1,236.2 458.4,229.9 458.7,237.6 459,227.6 459.3,238.7 459.6,231.5 459.9,237.1 460.2,232.7 460.5,237.1 460.8,232.7 461.1,236.8 461.4,233.3 461.7,245.4 462,231.4 462.3,241.8 462.6,229.6 462.9,236.3 463.2,228 463.5,235.4 463.8,231.7 464.1,234 464.4,231.5 464.7,234.4 465,224.7 465.3,236.4 465.6,231.7 465.9,241.2 466.2,227.6 466.5,235.7 466.8,226.5 467.1,235.1 467.4,230.7 467.7,236.6 468,226.1 468.3,232.4 468.6,228.5 468.9,234.7 469.2,226.8 469.5,237.8 469.8,227.4 470.1,234.3 470.4,228.6 470.7,235.7 471,224.6 471.3,232.7 471.6,228.8 471.9,232.7 472.2,229.9 472.5,232.5 472.8,230.3 473.1,237.6 473.4,228.4 473.7,234.1 474,229 474.3,233.1 474.6,230.7 474.9,236.6 475.2,226.1 475.5,236.3 475.8,226.9 476.1,238.4 476.4,227.4 476.7,239 477,228.4 477.3,235.1 477.6,228.2 477.9,238 478.2,227 478.5,234.3 478.8,228.7 479.1,236.1 479.4,228.1 479.7,237.2 480,229.1 480.3,237.7 480.6,229.2 480.9,239.2 481.2,231.8 481.5,238.3 481.8,225.7 482.1,238 482.4,229.4 482.7,236.6 483,230.3 483.3,238.9 483.6,230.5 483.9,239.1 484.2,232.3 484.5,240.6 484.8,229.3 485.1,235.8 485.4,232.2 485.7,238 486,228.5 486.3,235.3 486.6,231.4 486.9,237.4 487.2,227.3 487.5,236.9 487.8,226.6 488.1,233.5 488.4,227.8 488.7,234.3 489,229.2 489.3,235.5 489.6,229.2 489.9,242.1 490.2,230.2 490.5,235.8 490.8,229.4 491.1,236.8 491.4,230.2 491.7,237.4 492,229.6 492.3,237.9 492.6,231.6 492.9,240.8 493.2,230.3 493.5,239 493.8,229.5 494.1,238.1 494.4,228.2 494.7,234.4 495,227.6 495.3,237.6 495.6,231.6 495.9,237.6 496.2,228.4 496.5,235.6 496.8,228.9 497.1,234 497.4,228.7 497.7,238.2 498,232 498.3,237.6 498.6,230 498.9,235.3 499.2,223.9 499.5,237.4 499.8,230.4 500.1,240.9 500.4,231.9 500.7,236.6 501,229.6 501.3,238.4 501.6,231.9 501.9,234.3 502.2,229.4 502.5,238.3 502.8,228.8 503.1,237.9 503.4,228.2 503.7,234.3 504,230.2 504.3,238.7 504.6,232.3 504.9,238 505.2,231 505.5,241 505.8,229.3 506.1,238.1 506.4,232 506.7,236.2 507,229.3 507.3,238.7 507.6,230 507.9,237 508.2,228.3 508.5,236.6 508.8,231.4 509.1,236.7 509.4,230.1 509.7,238 510,227.6 510.3,235.2 510.6,229.9 510.9,235.2 511.2,229.7 511.5,234 511.8,226.7 512.1,234.8 512.4,231.6 512.7,234.3 513,226.5 513.3,234.5 513.6,229.8 513.9,238.7 514.2,228.2 514.5,234.9 514.8,231 515.1,235.7 515.4,230.3 515.7,238.1 516,229.3 516.3,238.2 516.6,227.2 516.9,241 517.2,229.7 517.5,238.6 517.8,229.9 518.1,237.7 518.4,228.9 518.7,238.5 519,231.2 519.3,238.1 519.6,230.6 519.9,237.7 520.2,231.6 520.5,237.1 520.8,227.6 521.1,232.7 521.4,229.9 521.7,233.7 522,225.1 522.3,236.8 522.6,225.6 522.9,235.7 523.2,230.7 523.5,237.7 523.8,225.9 524.1,235.9 524.4,227.3 524.7,235.4 525,227.2 525.3,235.8 525.6,231.6 525.9,234.4 526.2,229.8 526.5,236 526.8,232.1 527.1,235.8 527.4,229 527.7,234.9 528,230.5 528.3,235.1 528.6,230.3 528.9,235.1 529.2,228.2 529.5,233.8 529.8,228.2 530.1,240.3 530.4,230.6 530.7,234.6 531,230.1 531.3,235.3 531.6,228.4 531.9,232.5 532.2,230.9 532.5,236.1 532.8,228.1 533.1,236.4 533.4,230 533.7,233 534,227.1 534.3,233.8 534.6,226.3 534.9,238.3 535.2,227.1 535.5,236.8 535.8,230.6 536.1,232.6 536.4,229.4 536.7,237.8 537,229.2 537.3,235.3 537.6,227 537.9,236.8 538.2,226.9 538.5,236.3 538.8,226.6 539.1,233.3 539.4,231.9 539.7,236.7 540,228.4 540.3,236.7 540.6,232.3 540.9,234.4 541.2,231 541.5,237.7 541.8,229.9 542.1,237.1 542.4,226.5 542.7,236.5 543,226.8 543.3,234.1 543.6,230.6 543.9,234.7 544.2,232.3 544.5,238.4 544.8,231.3 545.1,240.3 545.4,231 545.7,236.1 546,230.3 546.3,238.1 546.6,232.5 546.9,235.8 547.2,231.6 547.5,239.4 547.8,227.8 548.1,238.7 548.4,232.3 548.7,237.7 549,228.9 549.3,234 549.6,232 549.9,238.8 550.2,231.4 550.5,238.4 550.8,229.4 551.1,238 551.4,228.3 551.7,232.3 552,227.6 552.3,234.1 552.6,230.5 552.9,236 553.2,225.8 553.5,236.7 553.8,226.6 554.1,233.7 554.4,228.9 554.7,236.3 555,226.1 555.3,234.7 555.6,226.9 555.9,236.9 556.2,229.3 556.5,233.1 556.8,227.1 557.1,233.6 557.4,231.4 557.7,235.4 558,232.1 558.3,235 558.6,226.9 558.9,236.2 559.2,229.2 559.5,233.9 559.8,230.8 560.1,234.7 560.4,226.5 560.7,235.4 561,230 561.3,235.1 561.6,228 561.9,235.6 562.2,227.7 562.5,239.8 562.8,232.6 563.1,237.1 563.4,228.9 563.7,236 564,228.1 564.3,240.7 564.6,230.7 564.9,233.7 565.2,230.6 565.5,237.3 565.8,227.9 566.1,234.1 566.4,226.3 566.7,232.9 567,227.8 567.3,234.1 567.6,227.2 567.9,233.6 568.2,227.2 568.5,235 568.8,230.6 569.1,233.8 569.4,230.8 569.7,235.6 570,227 570.3,238.6 570.6,232 570.9,236.1 571.2,231.3 571.5,233.1 571.8,228.2 572.1,235 572.4,226.7 572.7,236.7 573,230.1 573.3,235.5 573.6,226.1 573.9,235.7 574.2,227.2 574.5,233.1 574.8,226.2 575.1,232.7 575.4,227 575.7,235.7 576,228.9 576.3,234.8 576.6,229.6 576.9,242.2 577.2,231.2 577.5,235.6 577.8,228.5 578.1,235.9 578.4,228.3 578.7,236.5 579,231.3 579.3,235.1 579.6,231.4 579.9,235 580.2,226.6 580.5,234.8 580.8,227.5 581.1,238 581.4,228.5 581.7,236.9 582,226.9 582.3,237.7 582.6,231.2 582.9,241.7 583.2,230.9 583.5,234.3 583.8,227.9 584.1,234.4 584.4,228.1 584.7,238.6 585,232.3 585.3,236.3 585.6,227.3 585.9,235.5 586.2,229.2 586.5,236.6 586.8,229.6 587.1,235.7 587.4,227.7 587.7,237.7 588,230.6 588.3,233.3 588.6,230.9 588.9,232.9 589.2,230.5 589.5,237.5 589.8,229.8 590.1,235.8 590.4,229.8 590.7,238.1 591,230.6 591.3,235.3 591.6,229.4 591.9,234.1 592.2,231.4 592.5,235.4 592.8,231.1 593.1,233.7 593.4,228.4 593.7,235.6 594,232.5 594.3,236.8 594.6,229.9 594.9,236.4 595.2,229.7 595.5,233.3 595.8,222.7 596.1,234.3 596.4,221.9 596.7,234 597,230.2 597.3,234.3 597.6,230.4 597.9,233.6 598.2,228.7 598.5,233.8 598.8,221 599.1,232.9 599.4,225.7 599.7,233.7 600,228.3 600.3,237.9 600.6,227.9 600.9,237.5 601.2,229 601.5,234 601.8,227.7 602.1,235.5 602.4,230.2 602.7,232.8 603,226 603.3,235.6 603.6,226.2 603.9,236.6 604.2,226.1 604.5,233.4 604.8,229.5 605.1,233.7 605.4,228.2 605.7,231.5 606,226.2 606.3,238.9 606.6,229.5 606.9,234.4 607.2,225.5 607.5,233.1 607.8,225.4 608.1,233.2 608.4,228.8 608.7,233.8 609,226.4 609.3,233.1 609.6,230.2 609.9,236.1 610.2,229.3 610.5,233.9 610.8,225.9 611.1,232.8 611.4,224.5 611.7,232.1 612,228.1 612.3,230.8 612.6,224.3 612.9,231.9 613.2,225 613.5,233.3 613.8,224.8 614.1,231.2 614.4,224.9 614.7,241.1 615,226.5 615.3,232.1 615.6,225.6 615.9,235.9 616.2,229.8 616.5,237.1 616.8,230.1 617.1,232.8 617.4,227.6 617.7,235 618,228.3 618.3,232.2 618.6,228.7 618.9,237.3 619.2,230.7 619.5,235.7 619.8,230.2 620.1,234.4 620.4,228.4 620.7,232.9 621,230.5 621.3,234.1 621.6,227.7 621.9,235.1 622.2,229.5 622.5,236.4 622.8,230.5 623.1,232.3 623.4,227.2 623.7,233.1 624,229 624.3,234.3 624.6,226.8 624.9,236.5 625.2,225.9 625.5,235.1 625.8,229.8 626.1,235.9 626.4,226.9 626.7,236.1 627,228.8 627.3,233.6 627.6,226 627.9,231.4 628.2,225.7 628.5,235.1 628.8,225.6 629.1,230.7 629.4,225.2 629.7,234.1 630,228.7 630.3,231.2 630.6,225.2 630.9,233.4 631.2,229.1 631.5,236.7 631.8,227.5 632.1,233.1 632.4,230.5 632.7,235.7 633,227 633.3,236.5 633.6,227.2 633.9,234.5 634.2,230.4 634.5,234.8 634.8,229.9 635.1,233.2 635.4,226.1 635.7,233.2 636,228.3 636.3,236.1 636.6,224.7 636.9,233.5 637.2,227.3 637.5,233.8 637.8,226.9 638.1,234.4 638.4,231.7 638.7,235.7 639,225.6 639.3,233.5 639.6,230 639.9,232.9 640.2,227.6 640.5,235.7 640.8,228.3 641.1,235.9 641.4,229.1 641.7,234.2 642,228.5 642.3,236.8 642.6,226.4 642.9,237.9 643.2,231.2 643.5,234.6 643.8,228.4 644.1,235.2 644.4,227.2 644.7,235 645,229.1 645.3,233.4 645.6,228.3 645.9,232.5 646.2,227.8 646.5,236.1 646.8,231 647.1,235.4 647.4,230.3 647.7,236.6 648,228 648.3,232.5 648.6,229.4 648.9,234.4 649.2,231.5 649.5,241.6 649.8,230.3 650.1,238.3 650.4,227.5 650.7,237.4 651,229.2 651.3,237.3 651.6,230.4 651.9,235.6 652.2,228.8 652.5,236.1 652.8,230 653.1,233.9 653.4,229.5 653.7,232.5 654,227 654.3,231.9 654.6,227.2 654.9,234.5 655.2,228.7 655.5,234 655.8,227.8 656.1,231.6 656.4,225.9 656.7,235.1 657,225.5 657.3,236.4 657.6,227.7 657.9,234.5 658.2,226.9 658.5,232.1 658.8,226.7 659.1,232.6 659.4,227.9 659.7,234.2 660,227.5 660.3,232.3 660.6,225.2 660.9,231.4 661.2,226.7 661.5,231.9 661.8,224.7 662.1,235.6 662.4,225.7 662.7,235.4 663,220.7 663.3,233.4 663.6,225.1 663.9,235.6 664.2,224.2 664.5,235.2 664.8,226.2 665.1,233.9 665.4,228.1 665.7,234.7 666,227.4 666.3,236.8 666.6,226.7 666.9,232.8 667.2,230.3 667.5,232.7 667.8,227.5 668.1,234.3 668.4,225.8 668.7,232.9 669,225.9 669.3,235.8 669.6,225.7 669.9,234.2 670.2,224.4 670.5,232.3 670.8,225.8 671.1,236.4 671.4,227.2 671.7,234.6 672,228.7 672.3,233.7 672.6,226.7 672.9,234.9 673.2,230.1 673.5,236.7 673.8,226 674.1,232.4 674.4,226.7 674.7,236.4 675,224.6 675.3,234.5 675.6,227.3 675.9,236.5 676.2,231.1 676.5,236.4 676.8,227.2 677.1,237.5 677.4,227.5 677.7,234.1 678,227.7 678.3,234 678.6,226.7 678.9,236.3 679.2,229.3 679.5,238.9 679.8,229.2 680.1,238.1 680.4,228.5 680.7,233.4 681,228.7 681.3,233.3 681.6,226.8 681.9,235.7 682.2,229.7 682.5,238 682.8,230 683.1,234.5 683.4,226.4 683.7,235.2 684,231.1 684.3,232.8 684.6,229.6 684.9,236 685.2,226.4 685.5,236.6 685.8,230.8 686.1,237.9 686.4,227.9 686.7,237.6 687,227.8 687.3,239.4 687.6,229.2 687.9,235.6 688.2,231.4 688.5,235.6 688.8,230 689.1,237.9 689.4,228 689.7,236.5 690,231.1 690.3,235.6 690.6,226.2 690.9,234.3 691.2,228.6 691.5,234 691.8,227.3 692.1,233.3 692.4,228.4 692.7,238.5 693,225.6 693.3,232.8 693.6,226 693.9,232.3 694.2,227.3 694.5,233.5 694.8,227.5 695.1,235.9 695.4,229.9 695.7,232.7 696,225.6 696.3,234.7 696.6,226.2 696.9,234.9 697.2,226.1 697.5,235.1 697.8,225.5 698.1,238.9 698.4,229.6 698.7,233.1 699,231.5 699.3,234 699.6,228.9 699.9,235 700.2,227.5 700.5,234 700.8,226.8 701.1,233.9 701.4,230 701.7,234.6 702,230.8 702.3,235.8 702.6,228.2 702.9,233 703.2,230.6 703.5,233.6 703.8,228 704.1,233.5 704.4,229.2 704.7,237.2 705,230.1 705.3,233 705.6,229.4 705.9,240.1 706.2,229.7 706.5,236 706.8,229.9 707.1,232.1 707.4,226.5 707.7,234.8 708,228.9 708.3,235.5 708.6,229.8 708.9,236.1 709.2,221.9 709.5,235.7 709.8,226.3 710.1,234.3 710.4,226.2 710.7,234.3 711,317 711.6,82 711.9,79.3 712.2,85.5 712.5,82.2 712.8,84.1 713.1,80.9 713.4,83.4 713.7,82.7 714,85.2 714.3,80.8 714.6,85.6 714.9,81.8 715.2,84.4 715.5,83.6 715.8,86 716.1,82.3 716.4,86.2 716.7,81.9 717,86.5 717.3,82.1 717.6,85.9 717.9,81.5 718.2,85.9 718.5,83.8 718.8,86.5 719.1,82.8 719.4,85.8 719.7,83.2 720,84.5 720.3,81.3 720.6,84.5 720.9,80.7 721.2,85.4 721.5,80.2 721.8,85.6 722.1,82.5 722.4,85.1 722.7,81.1 723,84.7 723.3,80.8 723.6,84.2 723.9,79.9 724.2,84.8 724.5,81.4 724.8,84.4 725.1,82.1 725.4,84.4 725.7,81.8 726,84.7 726.3,80.3 726.6,85.4 726.9,79 727.2,84.5 727.5,82.3 727.8,83.7 728.1,80.5 728.4,83.8 728.7,80 729,84.2 729.3,80.6 729.6,85.1 729.9,82.7 730.2,84.7 730.5,80.8 730.8,85.1 731.1,80.5 731.4,84.8 731.7,80.8 732,84.7 732.3,81.8 732.6,84.9 732.9,81.9 733.2,84.2 733.5,80.6 733.8,83.3 734.1,80.1 734.4,84.6 734.7,82.1 735,83.8 735.3,80.3 735.6,86 735.9,80.3 736.2,84 736.5,80.1 736.8,83.8 737.1,80.1 737.4,83.7 737.7,81.2 738,82.8 738.3,79.8 738.6,82.2 738.9,79.8 739.2,85.9 739.5,80.4 739.8,84.8 740.1,80.7 740.4,85 740.7,80.8 741,85.7 741.3,81.3 741.6,85.6 741.9,81.6 742.2,84 742.5,83.1 742.8,85.4 743.1,81.6 743.4,84.5 743.7,81.5 744,85.1 744.3,82.2 744.6,83 744.9,82.1 745.2,85 745.5,81.9 745.8,85.3 746.1,82.5 746.4,84.8 746.7,81.3 747,84.3 747.3,82.5 747.6,84.1 747.9,80.7 748.2,84.7 748.5,80.3 748.8,84.9 749.1,80.1 749.4,84.7 749.7,81 750,84.6 750.3,80.1 750.6,82.8 750.9,81 751.2,83.9 751.5,80.6 751.8,85 752.1,82.1 752.4,83.9 752.7,80.7 753,82.6 753.3,80.1 753.6,84 753.9,81.2 754.2,82.6 754.5,81 754.8,85.2 755.1,80.3 755.4,85.1 755.7,80.8 756,84.5 756.3,80.8 756.6,82.7 756.9,80.5 757.2,82.7 757.5,79.7 757.8,83.9 758.1,80.3 758.4,84.6 758.7,79.3 759,84.6 759.3,80.4 759.6,84.1 759.9,82.5 760.2,83.9 760.5,81.3 760.8,84.1 761.1,80.7 761.4,84.1 761.7,81.2 762,83.8 762.3,81.9 762.6,85.5 762.9,80.6 763.2,83.4 763.5,81.1 763.8,85.9 764.1,83.1 764.4,85.4 764.7,82.7 765,85 765.3,80.9 765.6,83.8 765.9,79.6 766.2,84 766.5,82 766.8,84.4 767.1,81.8 767.4,85.1 767.7,82.5 768,84.2 768.3,82.5 768.6,84.1 768.9,82.3 769.2,82.8 769.5,80.3 769.8,84.1 770.1,82.1 770.4,84.5 770.7,80.8 771,83.7 771.3,81.7 771.6,83.4 771.9,80.9 772.2,83.3 772.5,81.3 772.8,84 773.1,81.2 773.4,85 773.7,82.1 774,83.9 774.3,81.3 774.6,83.6 774.9,80.7 775.2,83.1 775.5,80.3 775.8,85.2 776.1,81.9 776.4,83.4 776.7,81.2 777,83.3 777.3,81.8 777.6,84.1 777.9,80.3 778.2,83.4 778.5,80.5 778.8,84.6 779.1,80.7 779.4,84.9 779.7,78.9 780,84.9 780.3,80.6 780.6,85.2 780.9,81.4 781.2,83.6 781.5,80.6 781.8,84.7 782.1,81.1 782.4,84.5 782.7,80.9 783,84 783.3,82.5 783.6,85.5 783.9,80.6 784.2,84.1 784.5,80.5 784.8,82.9 785.1,80 785.4,83.7 785.7,79.5 786,83 786.3,81.8 786.6,84.1 786.9,80.8 787.2,87.2 787.5,80.9 787.8,84.2 788.1,80.8 788.4,83.6 788.7,81.4 789,84.2 789.3,81.7 789.6,83.6 789.9,81.9 790.2,82.8 790.5,81.3 790.8,84 791.1,81.4 791.4,84.3 791.7,82.7 792,85.4 792.3,82.6 792.6,83.2 792.9,82.4 793.2,84.9 793.5,81.7 793.8,85.3 794.1,81.9 794.4,84.1 794.7,80.7 795,84.9 795.3,79.9 795.6,83 795.9,80.2 796.2,82.2 796.5,80.1 796.8,83.3 797.1,80.9 797.4,83.7 797.7,81.2 798,84.3 798.3,81.8 798.6,83.8 798.9,80 799.2,84.3 799.5,79.9 799.8,84.8 800.1,80.1 800.4,84.3 800.7,80.2 801,84 801.3,80.8 801.6,85.2 801.9,80.9 802.2,83.5 802.5,83.4 802.8,85.4 803.1,82.5 803.4,85.6 803.7,83.2 804,84.7 804.3,82.6 804.6,86.7 804.9,82.2 805.2,84.8 805.5,82.1 805.8,85.1 806.1,82.7 806.4,83.7 806.7,79.4 807,83.8 807.3,81 807.6,83.3 807.9,80.8 808.2,83.9 808.5,81.4 808.8,84.3 809.1,82.4 809.4,83.7 809.7,80.6 810,85 810.3,82.5 810.6,84.1 810.9,80.9 811.2,85 811.5,80.8 811.8,84 812.1,81.2 812.4,85.2 812.7,80.8 813,83.8 813.3,81.6 813.6,83.7 813.9,80.4 814.2,83.2 814.5,82 814.8,85.5 815.1,81.7 815.4,84.3 815.7,80.3 816,82.8 816.3,81.3 816.6,83.6 816.9,80.3 817.2,84.7 817.5,80.7 817.8,83.9 818.1,82.1 818.4,83.4 818.7,81.2 819,83.5 819.3,81.4 819.6,83.7 819.9,81.1 820.2,83.4 820.5,81 820.8,83.6 821.1,81.4 821.4,84.6 821.7,82.3 822,85.1 822.3,82 822.6,85.8 822.9,81.5 823.2,82.6 823.5,80 823.8,83.5 824.1,81.5 824.4,83.3 824.7,79.7 825,84 825.3,81.5 825.6,82.9 825.9,80.3 826.2,82.5 826.5,81.3 826.8,84 827.1,79.6 827.4,81.8 827.7,80.5 828,83 828.3,79.1 828.6,83.4 828.9,81.4 829.2,84.6 829.5,81.7 829.8,84.2 830.1,81.4 830.4,84.9 830.7,81.7 831,84.7 831.3,81.1 831.6,84.3 831.9,80.6 832.2,83.9 832.5,80.9 832.8,83.2 833.1,81.7 833.4,84.5 833.7,80.3 834,83.6 834.3,81.7 834.6,83.3 834.9,79.8 835.2,82.4 835.5,82.1 835.8,85.3 836.1,81.3 836.4,84.7 836.7,81.7 837,83.6 837.3,81 837.6,83.3 837.9,81.5 838.2,83.8 838.5,80.5 838.8,84 839.1,80.9 839.4,83.5 839.7,81.3 840,84 840.3,82.5 840.6,83.7 840.9,82.2 841.2,84 841.5,81.1 841.8,85.3 842.1,82.8 842.4,84.5 842.7,81.1 843,84.9 843.3,83 843.6,85.4 843.9,82.2 844.2,84.5 844.5,79.2 844.8,84.6 845.1,79.7 845.4,84.1 845.7,81.4 846,84.9 846.3,81.6 846.6,84.6 846.9,80 847.2,83.3 847.5,81 847.8,82.7 848.1,79.9 848.4,82.8 848.7,79.8 849,84.3 849.3,81.4 849.6,83 849.9,80.1 850.2,84.1 850.5,82.3 850.8,84.8 851.1,80.3 851.4,84.4 851.7,80.2 852,85.1 852.3,81.4 852.6,84.7 852.9,78.4 853.2,83.7 853.5,81.9 853.8,84.9 854.1,80.4 854.4,83.3 854.7,80.8 855,84.3 855.3,80.8 855.6,84 855.9,80.8 856.2,83.9 856.5,79.5 856.8,83.5 857.1,80.7 857.4,83.9 857.7,80.7 858,82.4 858.3,79.5 858.6,84.3 858.9,81 859.2,83.3 859.5,82 859.8,84.3 860.1,80.1 860.4,85.2 860.7,79.1 861,83.9 861.3,81 861.6,84.3 861.9,81.1 862.2,84.8 862.5,82.2 862.8,84.1 863.1,82.1 863.4,84.4 863.7,81.2 864,84.6 864.3,81.5 864.6,85.2 864.9,79.6 865.2,85.3 865.5,82.7 865.8,86 866.1,80.5 866.4,85.2 866.7,82.3 867,85.6 867.3,81.5 867.6,84.8 867.9,82 868.2,85.4 868.5,81 868.8,84" fill="none" stroke="#FF0080" stroke-width="2.4" stroke-linejoin="round" />
<rect x="165.7" y="35.2" width="704" height="515.8" fill="none" stroke="#000" stroke-width="4.5"/>
<line x1="165.7" y1="83.8" x2="178" y2="83.8" stroke="#000" stroke-width="3.7"/>
<line x1="165.7" y1="133" x2="178" y2="133" stroke="#000" stroke-width="3.7"/>
<line x1="165.7" y1="182.2" x2="178" y2="182.2" stroke="#000" stroke-width="3.7"/>
<line x1="165.7" y1="231.4" x2="178" y2="231.4" stroke="#000" stroke-width="3.7"/>
<line x1="165.7" y1="280.6" x2="178" y2="280.6" stroke="#000" stroke-width="3.7"/>
<line x1="165.7" y1="329.8" x2="178" y2="329.8" stroke="#000" stroke-width="3.7"/>
<line x1="165.7" y1="379" x2="178" y2="379" stroke="#000" stroke-width="3.7"/>
<line x1="165.7" y1="428.2" x2="178" y2="428.2" stroke="#000" stroke-width="3.7"/>
<line x1="165.7" y1="477.4" x2="178" y2="477.4" stroke="#000" stroke-width="3.7"/>
<line x1="165.7" y1="526.6" x2="178" y2="526.6" stroke="#000" stroke-width="3.7"/>
<line x1="283.05" y1="539" x2="283.05" y2="551" stroke="#000" stroke-width="3.7"/>
<line x1="400.4" y1="539" x2="400.4" y2="551" stroke="#000" stroke-width="3.7"/>
<line x1="517.75" y1="539" x2="517.75" y2="551" stroke="#000" stroke-width="3.7"/>
<line x1="635.1" y1="539" x2="635.1" y2="551" stroke="#000" stroke-width="3.7"/>
<line x1="752.45" y1="539" x2="752.45" y2="551" stroke="#000" stroke-width="3.7"/>
<text x="154" y="45.2" font-size="36" text-anchor="end" fill="#000" >2</text>
<text x="154" y="96.83" font-size="36" text-anchor="end" fill="#000" >0</text>
<text x="154" y="148.46" font-size="36" text-anchor="end" fill="#000" >-2</text>
<text x="154" y="200.09" font-size="36" text-anchor="end" fill="#000" >-4</text>
<text x="154" y="251.72" font-size="36" text-anchor="end" fill="#000" >-6</text>
<text x="154" y="303.35" font-size="36" text-anchor="end" fill="#000" >-8</text>
<text x="154" y="354.98" font-size="36" text-anchor="end" fill="#000" >-10</text>
<text x="154" y="406.61" font-size="36" text-anchor="end" fill="#000" >-12</text>
<text x="154" y="458.24" font-size="36" text-anchor="end" fill="#000" >-14</text>
<text x="154" y="509.87" font-size="36" text-anchor="end" fill="#000" >-16</text>
<text x="154" y="561.5" font-size="36" text-anchor="end" fill="#000" >-18</text>
<text x="165.7" y="597.9" font-size="36" text-anchor="middle" fill="#000" >0</text>
<text x="283.05" y="597.9" font-size="36" text-anchor="middle" fill="#000" >0.1</text>
<text x="400.4" y="597.9" font-size="36" text-anchor="middle" fill="#000" >0.2</text>
<text x="517.75" y="597.9" font-size="36" text-anchor="middle" fill="#000" >0.3</text>
<text x="635.1" y="597.9" font-size="36" text-anchor="middle" fill="#000" >0.4</text>
<text x="752.45" y="597.9" font-size="36" text-anchor="middle" fill="#000" >0.5</text>
<text x="869.8" y="597.9" font-size="36" text-anchor="middle" fill="#000" >0.6</text>
<text x="-0.6" y="745.2" font-size="52" text-anchor="start" fill="#000" font-weight="bold">b</text>
<polyline points="165.8,930 166.2,939.1 166.5,949.8 166.8,962 167.2,979.7 167.5,1001.6 167.9,1023.1 168.2,1039.4 168.6,1045.9 168.9,1043.2 169.3,1035.7 169.6,1024.5 170,1010.4 170.3,994.5 170.7,977.8 171,961.2 171.4,945.8 171.7,932.4 172.1,922.1 172.4,915.9 172.8,915.1 173.1,925.4 173.5,945 173.8,969.2 174.2,993.5 174.5,1013.1 174.9,1023.4 175.2,1022.1 175.6,1015.1 175.9,1007.5 176.3,1003.9 176.6,1008.9 177,1021.1 177.3,1035.8 177.7,1048.6 178,1054.9 178.4,1052.7 178.7,1044.7 179.1,1031.8 179.4,1014.9 179.8,994.9 180.1,972.8 180.5,949.3 180.8,925.5 181.2,902.2 181.5,880.3 181.9,860.7 182.2,844.3 182.6,832.1 182.9,824.8 183.3,823.2 183.6,823.7 184,824.6 184.3,825.6 184.7,826.5 185,826.9 185.4,826.4 185.7,825 186.1,823 186.4,820.8 186.8,819 187.1,817.9 187.5,817.9 187.8,818.9 188.2,820.6 188.5,823.2 188.9,826.5 189.2,830.6 189.6,835.4 189.9,840.8 190.3,846.9 190.6,854.9 191,874.2 191.3,902.3 191.7,934 192,964.1 192.4,987.5 192.7,1005.7 193.1,1022.5 193.4,1036.5 193.8,1045.9 194.1,1052.3 194.5,1058.1 194.8,1063.3 195.2,1067.8 195.5,1071.3 195.9,1073.7 196.2,1075 196.6,1069.2 196.9,1037.8 197.3,995.9 197.6,962 198,948.8 198.3,939.5 198.7,931.2 199,924.1 199.4,918.2 199.7,913.7 200.1,910.7 200.4,909.2 200.8,910.1 201.1,916.7 201.5,928 201.8,942.5 202.2,958.6 202.5,975 202.9,990.1 203.2,1002.5 203.6,1010.6 203.9,1012.9 204.3,1008.7 204.6,998.9 205,985.1 205.3,968.8 205.7,951.5 206,934.5 206.4,919.5 206.7,907.8 207.1,901 207.4,900.5 207.8,906.4 208.1,917.4 208.5,932.2 208.8,949.3 209.2,967.5 209.5,985.5 209.9,1001.7 210.2,1015 210.6,1024 210.9,1030.3 211.3,1036.4 211.6,1042 212,1046.5 212.3,1049.8 212.7,1051.3 213,1050 213.4,1043.5 213.7,1032.8 214.1,1018.6 214.4,1001.8 214.8,983.4 215.1,964.2 215.5,945.2 215.8,927.2 216.2,911.1 216.5,897.8 216.9,888.1 217.2,883.1 217.6,883.3 217.9,887.4 218.3,894.5 218.6,903.5 219,913.5 219.3,923.6 219.7,932.7 220,941.6 220.4,951.4 220.7,962 221.1,973.3 221.4,985.2 221.8,997.5 222.1,1010.2 222.5,1023 222.8,1035.9 223.2,1048.7 223.5,1061.3 223.9,1073.5 224.2,1085.3 224.6,1096.5 224.9,1107 225.3,1116.7 225.6,1125.4 226,1132.9 226.3,1139.3 226.7,1144.2 227,1147.7 227.4,1149.6 227.7,1149.3 228.1,1143.8 228.4,1133.2 228.8,1118.5 229.1,1100.8 229.5,1080.9 229.8,1059.9 230.2,1038.7 230.5,1018.5 230.9,1000 231.2,984.3 231.6,972.5 231.9,965.4 232.3,964.4 232.6,974.1 233,992.9 233.3,1016.8 233.7,1041.8 234,1064 234.4,1079.4 234.7,1084.2 235.1,1081.5 235.4,1075.4 235.8,1066.7 236.1,1056.3 236.5,1044.8 236.8,1033.3 237.2,1022.4 237.5,1013.1 237.9,1006.2 238.2,1002.5 238.6,1003.7 238.9,1012.9 239.3,1026.9 239.6,1042 240,1054.4 240.3,1060.4 240.7,1059.5 241,1056 241.4,1050.1 241.7,1042.2 242.1,1032.5 242.4,1021.3 242.8,1008.8 243.1,995.2 243.5,980.9 243.8,966.1 244.2,951 244.5,935.9 244.9,921.1 245.2,906.8 245.6,893.2 245.9,880.7 246.3,869.5 246.6,859.8 247,851.9 247.3,846 247.7,842.5 248,841.5 248.4,843.1 248.7,847.1 249.1,853.2 249.4,861.2 249.8,870.9 250.1,882.1 250.5,894.5 250.8,908 251.2,922.4 251.5,937.3 251.9,952.7 252.2,968.2 252.6,983.7 252.9,999 253.3,1013.8 253.6,1027.9 254,1041.1 254.3,1053.2 254.7,1064 255,1073.3 255.4,1080.8 255.7,1086.3 256.1,1089.6 256.4,1090.5 256.8,1087.6 257.1,1080.7 257.5,1070.3 257.8,1057 258.2,1041.3 258.5,1023.7 258.9,1004.7 259.2,985 259.6,965.1 259.9,945.5 260.3,926.7 260.6,909.4 261,893.9 261.3,881 261.7,871.1 262,864.7 262.4,862.5 262.7,867.9 263.1,882.5 263.4,903.6 263.8,928.4 264.1,954.4 264.5,978.8 264.8,999.1 265.2,1012.5 265.5,1016.6 265.9,1014.3 266.2,1009.2 266.6,1002.3 266.9,994.5 267.3,986.9 267.6,980.4 268,976 268.3,974.8 268.7,978.2 269,986.3 269.4,997.7 269.7,1011.4 270.1,1026.2 270.4,1041.1 270.8,1054.8 271.1,1066.2 271.5,1074.3 271.8,1077.7 272.2,1076.4 272.5,1071.3 272.9,1063.3 273.2,1052.7 273.6,1040.2 273.9,1026.3 274.3,1011.6 274.6,996.7 275,982.1 275.3,968.4 275.7,956.2 276,945.9 276.4,938.3 276.7,933.7 277.1,933 277.4,938.6 277.8,950.4 278.1,967.1 278.5,987.5 278.8,1010.3 279.2,1034.4 279.5,1058.5 279.9,1081.3 280.2,1101.7 280.6,1118.4 280.9,1130.2 281.3,1135.8 281.6,1134.2 282,1125.8 282.3,1111.6 282.7,1092.9 283,1070.7 283.4,1046.3 283.7,1020.7 284.1,995.1 284.4,970.7 284.8,948.5 285.1,929.8 285.5,915.6 285.8,907.2 286.2,906.1 286.5,919.5 286.9,944.8 287.2,975.5 287.6,1005.3 287.9,1027.8 288.3,1036.7 288.6,1032.8 289,1022.4 289.3,1007.2 289.7,989 290,969.6 290.4,950.6 290.7,933.9 291.1,921.2 291.4,914.3 291.8,914 292.1,916.8 292.5,921.8 292.8,928.7 293.2,937.3 293.5,947.2 293.9,958.1 294.2,969.7 294.6,981.7 294.9,993.8 295.3,1005.7 295.6,1017.1 296,1027.6 296.3,1037 296.7,1044.9 297,1051 297.4,1055.1 297.7,1056.8 298.1,1055.4 298.4,1050.6 298.8,1042.8 299.1,1032.3 299.5,1019.8 299.8,1005.5 300.2,989.9 300.5,973.6 300.9,956.8 301.2,940.1 301.6,923.9 301.9,908.7 302.3,894.8 302.6,882.8 303,873.1 303.3,866.1 303.7,862.2 304,862.6 304.4,871.8 304.7,888.5 305.1,910.3 305.4,934.5 305.8,958.8 306.1,980.6 306.5,997.3 306.8,1006.5 307.2,1005.3 307.5,993.3 307.9,975.6 308.2,957.9 308.6,945.9 308.9,945 309.3,956.7 309.6,977 310,1001.6 310.3,1026.2 310.7,1046.5 311,1058.2 311.4,1047.7 311.7,1001.4 312.1,984.3 312.4,993.1 312.8,1008.9 313.1,1026.9 313.5,1042 313.8,1049.4 314.2,1048 314.5,1042.9 314.9,1034.8 315.2,1024.1 315.6,1011.4 315.9,997.4 316.3,982.5 316.6,967.4 317,952.7 317.3,938.8 317.7,926.4 318,916 318.4,908.2 318.7,903.6 319.1,902.8 319.4,906.9 319.8,915.2 320.1,926.9 320.5,941 320.8,956.5 321.2,972.4 321.5,987.7 321.9,1001.5 322.2,1012.8 322.6,1020.6 322.9,1023.9 323.3,1022.3 323.6,1016.7 324,1008.2 324.3,998 324.7,987 325,976.4 325.4,967.2 325.7,960.7 326.1,956.2 326.4,951.8 326.8,948 327.1,945.2 327.5,943.8 327.8,948 328.2,965 328.5,988.2 328.9,1010.3 329.2,1024.2 329.6,1022.7 329.9,1005.9 330.3,981.1 330.6,956.3 331,939.5 331.3,936.7 331.7,939.6 332,944.8 332.4,951.5 332.7,958.6 333.1,965.4 333.4,970.8 333.8,974.1 334.1,974.2 334.5,970.2 334.8,963.8 335.2,957.1 335.5,952.2 335.9,951.2 336.2,955.6 336.6,964.5 336.9,976.6 337.3,990.5 337.6,1005 338,1018.7 338.3,1030.3 338.7,1038.5 339,1044.6 339.4,1050.6 339.7,1056.5 340.1,1062 340.4,1067.1 340.8,1071.6 341.1,1075.4 341.5,1078.4 341.8,1080.4 342.2,1081.3 342.5,1080 342.9,1073.5 343.2,1062.5 343.6,1047.9 343.9,1030.4 344.3,1010.8 344.6,990 345,968.7 345.3,947.8 345.7,928 346,910.2 346.4,895.1 346.7,883.5 347.1,876.4 347.4,874.3 347.8,875.9 348.1,879.8 348.5,885.5 348.8,892.9 349.2,901.4 349.5,910.8 349.9,920.8 350.2,931 350.6,941.1 350.9,950.8 351.3,959.6 351.6,968 352,977.5 352.3,988 352.7,998.9 353,1010 353.4,1020.7 353.7,1030.8 354.1,1039.7 354.4,1047.2 354.8,1052.8 355.1,1056.1 355.5,1056.3 355.8,1047.2 356.2,1029.8 356.5,1008 356.9,985.7 357.2,966.7 357.6,954.8 357.9,953.5 358.3,960.3 358.6,972.5 359,988 359.3,1004.7 359.7,1020.4 360,1033.2 360.4,1040.9 360.7,1040.9 361.1,1029.5 361.4,1011.3 361.8,992.2 362.1,978.2 362.5,976.3 362.8,998.4 363.2,1020.5 363.5,1020.5 363.9,1013.2 364.2,1001.3 364.6,985.9 364.9,968.2 365.3,949.4 365.6,930.7 366,913.3 366.3,898.5 366.7,887.3 367,881 367.4,876.8 367.7,872.8 368.1,868.9 368.4,865.2 368.8,861.7 369.1,858.3 369.5,855.1 369.8,852.1 370.2,849.3 370.5,846.6 370.9,844.2 371.2,841.9 371.6,839.8 371.9,837.9 372.3,836.2 372.6,834.8 373,833.5 373.3,832.5 373.7,831.6 374,831 374.4,830.7 374.7,830.5 375.1,830.8 375.4,832.1 375.8,834.3 376.1,837.4 376.5,841.3 376.8,846.1 377.2,851.7 377.5,858.1 377.9,865.3 378.2,873.2 378.6,881.8 378.9,893.6 379.3,924.4 379.6,967.1 380,1009.6 380.3,1040.1 380.7,1047.5 381,1043.9 381.4,1036.5 381.7,1026.5 382.1,1015 382.4,1002.9 382.8,991.6 383.1,981.9 383.5,975 383.8,972 384.2,975.7 384.5,987.8 384.9,1004.6 385.2,1022.5 385.6,1037.7 385.9,1046.7 386.3,1046.5 386.6,1039.3 387,1026.7 387.3,1010.2 387.7,991.2 388,971.3 388.4,951.7 388.7,934 389.1,919.6 389.4,909.9 389.8,906.3 390.1,906.7 390.5,907.7 390.8,909.4 391.2,911.7 391.5,914.4 391.9,917.5 392.2,921 392.6,924.7 392.9,928.5 393.3,933.9 393.6,942.6 394,954.1 394.3,968 394.7,983.4 395,1000 395.4,1017 395.7,1033.9 396.1,1050.2 396.4,1065.1 396.8,1078.2 397.1,1088.8 397.5,1096.3 397.8,1100.2 398.2,1100.1 398.5,1096.8 398.9,1091 399.2,1083 399.6,1073.4 399.9,1062.7 400.3,1051.3 400.6,1039.7 401,1028.3 401.3,1017.7 401.7,1008.3 402,1000.7 402.4,995.2 402.7,992.3 403.1,994.4 403.4,1007.3 403.8,1024.5 404.1,1038.5 404.5,1042.1 404.8,1040.1 405.2,1035.9 405.5,1029.8 405.9,1021.9 406.2,1012.7 406.6,1002.3 406.9,991.1 407.3,979.4 407.6,967.5 408,955.6 408.3,944 408.7,933 409,923 409.4,914.1 409.7,906.7 410.1,901.1 410.4,897.5 410.8,896.2 411.1,898.7 411.5,905.6 411.8,916.1 412.2,929.4 412.5,944.7 412.9,961.1 413.2,977.9 413.6,994.2 413.9,1009.3 414.3,1022.2 414.6,1032.2 415,1038.6 415.3,1040.4 415.7,1038.7 416,1034.5 416.4,1028 416.7,1019.7 417.1,1009.7 417.4,998.2 417.8,985.7 418.1,972.2 418.5,958.1 418.8,943.7 419.2,929.3 419.5,915 419.9,901.1 420.2,888 420.6,875.9 420.9,865 421.3,855.7 421.6,848.2 422,842.7 422.3,839.5 422.7,839.3 423,847.4 423.4,863.4 423.7,884.7 424.1,908.3 424.4,931.6 424.8,951.6 425.1,965.7 425.5,971 425.8,967.7 426.2,959.1 426.5,947.1 426.9,933.5 427.2,920.1 427.6,908.9 427.9,901.6 428.3,899.9 428.6,899.9 429,899.9 429.3,899.9 429.7,899.9 430,899.9 430.4,899.9 430.7,900.4 431.1,905.2 431.4,913.6 431.8,923.9 432.1,934.5 432.5,943.6 432.8,949.6 433.2,950.8 433.5,946.6 433.9,938.7 434.2,928.7 434.6,918.5 434.9,909.8 435.3,904.4 435.6,903.9 436,907.6 436.3,913.5 436.7,919.7 437,924.2 437.4,925.3 437.7,923.1 438.1,919 438.4,913.9 438.8,908.6 439.1,904.1 439.5,901.3 439.8,900.8 440.2,901.1 440.5,901.5 440.9,902.2 441.2,903 441.6,904 441.9,905.3 442.3,913.1 442.6,929.6 443,952.7 443.3,980.2 443.7,1010.1 444,1040.1 444.4,1068.2 444.7,1092.2 445.1,1110.1 445.4,1119.6 445.8,1119.4 446.1,1112.2 446.5,1100.3 446.8,1085.7 447.2,1070.6 447.5,1057 447.9,1046.9 448.2,1042.3 448.6,1044.9 448.9,1053 449.3,1063.5 449.6,1073 450,1078.4 450.3,1076.7 450.7,1067.9 451,1053 451.4,1033.4 451.7,1010.1 452.1,984.3 452.4,957.3 452.8,930.2 453.1,904.1 453.5,880.4 453.8,860.1 454.2,844.4 454.5,834.5 454.9,830.5 455.2,827.3 455.6,824.3 455.9,821.6 456.3,819.2 456.6,817.1 457,815.3 457.3,814 457.7,813 458,812.4 458.4,812.5 458.7,817.1 459.1,826.6 459.4,840.3 459.8,857.2 460.1,876.6 460.5,897.6 460.8,919.2 461.2,940.7 461.5,961.2 461.9,979.8 462.2,995.6 462.6,1007.9 462.9,1015.6 463.3,1020.9 463.6,1025.2 464,1028.9 464.3,1032.2 464.7,1035.6 465,1039.2 465.4,1043.5 465.7,1048.8 466.1,1055 466.4,1061.5 466.8,1068.1 467.1,1074.2 467.5,1079.4 467.8,1083.4 468.2,1085.6 468.5,1085.3 468.9,1078.6 469.2,1065.8 469.6,1048.1 469.9,1026.6 470.3,1002.5 470.6,977.1 471,951.4 471.3,926.8 471.7,904.3 472,885.1 472.4,870.4 472.7,861.5 473.1,858.2 473.4,855.8 473.8,853.5 474.1,851.5 474.5,849.6 474.8,848 475.2,846.7 475.5,845.6 475.9,844.8 476.2,844.4 476.6,844.2 476.9,846.5 477.3,853.1 477.6,863.1 478,875.7 478.3,890.3 478.7,906.1 479,922.3 479.4,938.2 479.7,953 480.1,965.9 480.4,977.6 480.8,990.5 481.1,1004 481.5,1017.2 481.8,1029.3 482.2,1039.4 482.5,1046.7 482.9,1050.2 483.2,1042.5 483.6,1014.1 483.9,982.9 484.3,968.3 484.6,973 485,984.9 485.3,1000.8 485.7,1017.7 486,1032.3 486.4,1041.5 486.7,1041.8 487.1,1029.9 487.4,1008.5 487.8,981.1 488.1,951.3 488.5,922.5 488.8,898.3 489.2,882.2 489.5,876.5 489.9,873.3 490.2,870.5 490.6,868.2 490.9,866.5 491.3,865.5 491.6,865.3 492,873.1 492.3,890.7 492.7,914.6 493,941.8 493.4,969.1 493.7,993 494.1,1010.6 494.4,1018.4 494.8,1008.9 495.1,982.9 495.5,956.9 495.8,947.4 496.2,951.5 496.5,961.3 496.9,975.5 497.2,993 497.6,1012.6 497.9,1033.3 498.3,1053.7 498.6,1072.9 499,1089.5 499.3,1102.6 499.7,1110.9 500,1113 500.4,1098.9 500.7,1069.2 501.1,1032.2 501.4,996.4 501.8,970.3 502.1,962.1 502.5,975 502.8,999.3 503.2,1023.6 503.5,1036.5 503.9,1035.1 504.2,1029.7 504.6,1020.9 504.9,1009.1 505.3,995.1 505.6,979.2 506,962 506.3,944.1 506.7,926 507,908.1 507.4,891.1 507.7,875.5 508.1,861.7 508.4,850.4 508.8,842 509.1,837.1 509.5,836.3 509.8,840.8 510.2,850.4 510.5,863.9 510.9,880.5 511.2,899 511.6,918.5 511.9,938.1 512.3,956.6 512.6,973.2 513,986.7 513.3,996.3 513.7,1000.8 514,1000.6 514.4,998.1 514.7,993.9 515.1,988.2 515.4,981.2 515.8,973.3 516.1,964.6 516.5,955.5 516.8,946.1 517.2,936.8 517.5,927.8 517.9,919.3 518.2,911.7 518.6,905.1 518.9,899.4 519.3,893.2 519.6,886.9 520,880.6 520.3,874.8 520.7,869.7 521,865.6 521.4,862.8 521.7,861.6 522.1,862.1 522.4,863.8 522.8,866.5 523.1,870.2 523.5,874.6 523.8,879.7 524.2,885.1 524.5,890.8 524.9,896.7 525.2,902.7 525.6,910.2 525.9,919.3 526.3,929.6 526.6,940.8 527,952.5 527.3,964.4 527.7,976.1 528,987.4 528.4,997.7 528.7,1007 529.1,1016.1 529.4,1025.9 529.8,1035.9 530.1,1046 530.5,1055.7 530.8,1064.8 531.2,1073 531.5,1080.1 531.9,1085.7 532.2,1089.5 532.6,1091.3 532.9,1090.6 533.3,1087.4 533.6,1082 534,1075.2 534.3,1067.6 534.7,1059.7 535,1052.3 535.4,1044.8 535.7,1035.9 536.1,1025.8 536.4,1014.8 536.8,1003.2 537.1,991.2 537.5,979 537.8,967.1 538.2,955.6 538.5,944.8 538.9,935 539.2,926.4 539.6,919.4 539.9,914.1 540.3,910.9 540.6,910.3 541,924.1 541.3,952.2 541.7,984.4 542,1011 542.4,1022.1 542.7,1018.6 543.1,1009.3 543.4,995.9 543.8,980 544.1,963.4 544.5,947.7 544.8,934.8 545.2,926.2 545.5,923.6 545.9,925.1 546.2,928.6 546.6,933.9 546.9,940.7 547.3,948.7 547.6,957.7 548,967.3 548.3,977.4 548.7,987.5 549,997.6 549.4,1007.1 549.7,1016.1 550.1,1026.5 550.4,1038.7 550.8,1051.5 551.1,1063.3 551.5,1073 551.8,1079.1 552.2,1079.6 552.5,1063.5 552.9,1033.3 553.2,996.5 553.6,960.6 553.9,933.2 554.3,921.8 554.6,921 555,920.3 555.3,919.8 555.7,919.4 556,919.1 556.4,919 556.7,932.4 557.1,977 557.4,1016 557.8,1017.8 558.1,999 558.5,971.5 558.8,944 559.2,925.2 559.5,922.1 559.9,925.2 560.2,931.1 560.6,939.3 560.9,949.6 561.3,961.3 561.6,974 562,987.3 562.3,1000.6 562.7,1013.6 563,1025.8 563.4,1036.7 563.7,1047.9 564.1,1060.8 564.4,1074.2 564.8,1087.4 565.1,1099.3 565.5,1109 565.8,1115.5 566.2,1117.9 566.5,1117.3 566.9,1115.6 567.2,1112.5 567.6,1108.2 567.9,1102.4 568.3,1095 568.6,1086.1 569,1070.9 569.3,997.1 569.7,922.7 570,906 570.4,895.7 570.7,887.2 571.1,880.4 571.4,875.3 571.8,871.7 572.1,869.6 572.5,868.9 572.8,871.3 573.2,878 573.5,888.2 573.9,900.9 574.2,915.3 574.6,930.5 574.9,945.8 575.3,960.3 575.6,973 576,983.2 576.3,990.3 576.7,996.9 577,1003.4 577.4,1009.7 577.7,1015.7 578.1,1021.1 578.4,1025.8 578.8,1029.7 579.1,1032.6 579.5,1034.4 579.8,1034.8 580.2,1026.8 580.5,1008.9 580.9,984.7 581.2,957.5 581.6,930.8 581.9,908.1 582.3,892.7 582.6,888.1 583,892.3 583.3,900.7 583.7,910.4 584,918.5 584.4,921.8 584.7,918.9 585.1,912 585.4,903.6 585.8,896.3 586.1,892.7 586.5,893.1 586.8,894.6 587.2,896.9 587.5,899.5 587.9,902.2 588.2,904.6 588.6,906.4 588.9,907.2 589.3,906.3 589.6,903.2 590,898.6 590.3,892.9 590.7,886.7 591,880.6 591.4,875.2 591.7,870.9 592.1,868.4 592.4,868.5 592.8,873.8 593.1,883.8 593.5,897.9 593.8,915.1 594.2,934.7 594.5,955.6 594.9,977.2 595.2,998.6 595.6,1018.8 595.9,1037.1 596.3,1052.7 596.6,1064.6 597,1072 597.3,1074.1 597.7,1071.4 598,1064.9 598.4,1055.3 598.7,1043.1 599.1,1028.7 599.4,1012.9 599.8,996.1 600.1,978.9 600.5,961.8 600.8,945.5 601.2,930.5 601.5,917.2 601.9,906.4 602.2,898.6 602.6,894.2 602.9,894.1 603.3,899.6 603.6,909.9 604,924 604.3,940.7 604.7,958.9 605,977.4 605.4,995.1 605.7,1010.8 606.1,1023.4 606.4,1031.8 606.8,1034.9 607.1,1032.8 607.5,1027.1 607.8,1018.3 608.2,1007.1 608.5,994.1 608.9,980 609.2,965.5 609.6,951.1 609.9,937.6 610.3,925.6 610.6,915.7 611,908.5 611.3,904.8 611.7,905.1 612,909.6 612.4,917.8 612.7,929 613.1,942.7 613.4,958.3 613.8,975.2 614.1,992.8 614.5,1010.6 614.8,1028 615.2,1044.4 615.5,1059.3 615.9,1072 616.2,1081.9 616.6,1088.6 616.9,1091.4 617.3,1089.7 617.6,1083.8 618,1074.2 618.3,1061.4 618.7,1046.1 619,1028.7 619.4,1009.9 619.7,990.2 620.1,970.2 620.4,950.4 620.8,931.4 621.1,913.8 621.5,898.1 621.8,885 622.2,874.9 622.5,868.4 622.9,866.1 623.2,870.4 623.6,882.1 623.9,899.5 624.3,920.7 624.6,943.9 625,967.4 625.3,989.4 625.7,1008 626,1021.5 626.4,1028.1 626.7,1021.4 627.1,993.2 627.4,954.3 627.8,916.4 628.1,891.1 628.5,885.1 628.8,882.1 629.2,879.7 629.5,877.7 629.9,876.1 630.2,874.8 630.6,873.6 630.9,872.6 631.3,871.6 631.6,870.6 632,869.4 632.3,868 632.7,866.3 633,864.2 633.4,861.5 633.7,858.2 634.1,854.7 634.4,851 634.8,847.3 635.1,844 635.5,841 635.8,838.8 636.2,837.3 636.5,836.9 636.9,837.2 637.2,838 637.6,839.1 637.9,840.7 638.3,842.7 638.6,845.1 639,847.8 639.3,850.9 639.7,854.3 640,858 640.4,864 640.7,880 641.1,904.9 641.4,936.1 641.8,971.2 642.1,1007.7 642.5,1043.1 642.8,1074.9 643.2,1100.7 643.5,1118 643.9,1124.3 644.2,1111 644.6,1078.9 644.9,1040.1 645.3,1006.3 645.6,989.6 646,1001.4 646.3,1034 646.7,1066.6 647,1078.6 647.4,1071 647.7,1053.7 648.1,1029.4 648.4,1000.7 648.8,970.4 649.1,941.2 649.5,915.8 649.8,896.9 650.2,887.1 650.5,883 650.9,879 651.2,875.4 651.6,872 651.9,868.8 652.3,865.9 652.6,863.2 653,860.8 653.3,858.7 653.7,856.7 654,855.1 654.4,853.7 654.7,852.6 655.1,851.7 655.4,851.1 655.8,850.7 656.1,850.7 656.5,855.9 656.8,867.9 657.2,885.2 657.5,906.2 657.9,929.2 658.2,952.6 658.6,975 658.9,994.5 659.3,1009.8 659.6,1019.1 660,1021.1 660.3,1018.5 660.7,1013.4 661,1006.8 661.4,999.5 661.7,992.5 662.1,986.6 662.4,982.9 662.8,982.6 663.1,992.2 663.5,1010.1 663.8,1031.5 664.2,1051.4 664.5,1065.2 664.9,1068.6 665.2,1068.2 665.6,1067.4 665.9,1066.3 666.3,1064.8 666.6,1062.9 667,1060.9 667.3,1058.6 667.7,1056.1 668,1053.5 668.4,1049.6 668.7,1042.7 669.1,1033.2 669.4,1021.6 669.8,1008.3 670.1,993.8 670.5,978.5 670.8,963 671.2,947.7 671.5,932.9 671.9,919.3 672.2,907.2 672.6,897.1 672.9,889.5 673.3,884.8 673.6,883.5 674,885.1 674.3,889 674.7,894.9 675,902.5 675.4,911.6 675.7,921.8 676.1,932.9 676.4,944.6 676.8,956.6 677.1,968.6 677.5,980.4 677.8,991.7 678.2,1002.2 678.5,1011.6 678.9,1019.7 679.2,1026.1 679.6,1030.6 679.9,1032.9 680.3,1032.1 680.6,1026.4 681,1016.7 681.3,1004.5 681.7,991 682,977.8 682.4,966.1 682.7,957.4 683.1,953 683.4,954.1 683.8,959.7 684.1,968.9 684.5,980.7 684.8,994.1 685.2,1008 685.5,1021.5 685.9,1033.6 686.2,1043.2 686.6,1049.5 686.9,1051.1 687.3,1038.5 687.6,1017.7 688,1003.1 688.3,1005.9 688.7,1020.1 689,1037.6 689.4,1050.6 689.7,1052.9 690.1,1050.7 690.4,1046.4 690.8,1040.1 691.1,1032.2 691.5,1022.9 691.8,1012.4 692.2,1001 692.5,988.8 692.9,976.1 693.2,963.3 693.6,950.4 693.9,937.7 694.3,925.5 694.6,914.1 695,903.6 695.3,894.3 695.7,886.4 696,880.1 696.4,875.8 696.7,873.6 697.1,876.9 697.4,896 697.8,924 698.1,952.1 698.5,971.2 698.8,974.6 699.2,973.3 699.5,971 699.9,967.9 700.2,964.3 700.6,960.4 700.9,956.6 701.3,953.1 701.6,950.2 702,948.2 702.3,947.3 702.7,949.1 703,955.3 703.4,965.2 703.7,978 704.1,992.9 704.4,1009.2 704.8,1026 705.1,1042.6 705.5,1058.2 705.8,1072 706.2,1083.2 706.5,1091.1 706.9,1094.9 707.2,1092.4 707.6,1080.8 707.9,1061.8 708.3,1037.7 708.6,1010.5 709,982.3 709.3,955.5 709.7,931.9 710,913.9 710.4,903.4 710.7,902.1 711.1,905.9 711.4,913.1 711.8,923.1 712.1,935.2 712.5,948.7 712.8,963 713.2,977.4 713.5,991.3 713.9,1003.8 714.2,1014.5 714.6,1022.6 714.9,1027.4 715.3,1028.4 715.6,1026.4 716,1022.7 716.3,1018.2 716.7,1013.9 717,1010.6 717.4,1009.3 717.7,1021.6 718.1,1041.2 718.4,1045.3 718.8,1040.3 719.1,1031 719.5,1018.1 719.8,1002.8 720.2,986 720.5,968.6 720.9,951.6 721.2,936 721.6,922.8 721.9,912.9 722.3,907.2 722.6,906.6 723,909 723.3,913.8 723.7,920.6 724,929.1 724.4,938.9 724.7,949.6 725.1,961 725.4,972.7 725.8,984.4 726.1,995.6 726.5,1006.1 726.8,1015.6 727.2,1023.6 727.5,1029.9 727.9,1034 728.2,1035.8 728.6,1033.9 728.9,1027.1 729.3,1016.2 729.6,1002 730,985.2 730.3,966.5 730.7,946.8 731,926.7 731.4,907.1 731.7,888.7 732.1,872.2 732.4,858.4 732.8,848.1 733.1,842 733.5,840.7 733.8,842.3 734.2,845.7 734.5,850.5 734.9,856.3 735.2,863 735.6,870 735.9,877 736.3,885.2 736.6,896.4 737,910 737.3,925.5 737.7,942.2 738,959.6 738.4,976.9 738.7,993.7 739.1,1009.2 739.4,1022.9 739.8,1034.2 740.1,1042.4 740.5,1047 740.8,1047 741.2,1040.4 741.5,1028.6 741.9,1013.6 742.2,997.4 742.6,982.1 742.9,969.7 743.3,962.3 743.6,961.6 744,967.1 744.3,977.9 744.7,993.1 745,1011.9 745.4,1033.3 745.7,1056.7 746.1,1081.2 746.4,1105.9 746.8,1130 747.1,1152.6 747.5,1173.1 747.8,1190.4 748.2,1203.8 748.5,1212.4 748.9,1215.5 749.2,1139.1 749.6,1013.7 749.9,975.2 750.3,964.8 750.6,955.7 751,947.7 751.3,940.7 751.7,934.8 752,929.8 752.4,925.8 752.7,922.5 753.1,920 753.4,918.2 753.8,917 754.1,916.4 754.5,917 754.8,928.3 755.2,948.3 755.5,970.2 755.9,987.3 756.2,992.8 756.6,984.1 756.9,966.3 757.3,945.1 757.6,926.4 758,916 758.3,916.5 758.7,921.2 759,929.2 759.4,939.7 759.7,952.1 760.1,965.7 760.4,979.9 760.8,994 761.1,1007.4 761.5,1019.3 761.8,1029.2 762.2,1036.3 762.5,1040 762.9,1037.6 763.2,1023.5 763.6,1006.5 763.9,996.8 764.3,1001.2 764.6,1015 765,1032.7 765.3,1048.9 765.7,1058 766,1056.9 766.4,1049.5 766.7,1036.9 767.1,1020.3 767.4,1000.5 767.8,978.6 768.1,955.6 768.5,932.5 768.8,910.2 769.2,889.7 769.5,872.1 769.9,858.2 770.2,849.2 770.6,846 770.9,854.8 771.3,877.6 771.6,908.9 772,943.4 772.3,975.5 772.7,999.9 773,1011 773.4,1007.8 773.7,998 774.1,986.8 774.4,979.2 774.8,980.2 775.1,990.5 775.5,1005.7 775.8,1020.9 776.2,1031.2 776.5,1032 776.9,1022.3 777.2,1006.6 777.6,989.5 777.9,975.7 778.3,970.1 778.6,980.4 779,1002.9 779.3,1025.5 779.7,1035.8 780,1032.9 780.4,1025 780.7,1012.9 781.1,997.6 781.4,980.1 781.8,961.4 782.1,942.5 782.5,924.2 782.8,907.5 783.2,893.5 783.5,883.1 783.9,877.2 784.2,878.2 784.6,896.6 784.9,928.4 785.3,966.9 785.6,1005.5 786,1037.3 786.3,1055.7 786.7,1055.4 787,1041.8 787.4,1019.4 787.7,992 788.1,963.5 788.4,937.8 788.8,918.7 789.1,910.1 789.5,913.4 789.8,924.8 790.2,941.6 790.5,961 790.9,980.4 791.2,997.2 791.6,1008.6 791.9,1011.9 792.3,1001 792.6,980.6 793,960.2 793.3,949.3 793.7,958.8 794,987 794.4,1020.8 794.7,1047.1 795.1,1053.8 795.4,1049.5 795.8,1040.5 796.1,1027.6 796.5,1011.7 796.8,993.6 797.2,974.2 797.5,954.3 797.9,934.7 798.2,916.4 798.6,900.1 798.9,886.7 799.3,877.1 799.6,872.1 800,874.7 800.3,892.4 800.7,920.2 801,951.7 801.4,980.5 801.7,1000 802.1,1004.5 802.4,999.2 802.8,988.6 803.1,974.2 803.5,957.5 803.8,940.1 804.2,923.7 804.5,909.7 804.9,899.7 805.2,895.4 805.6,897.2 805.9,903.7 806.3,914.2 806.6,927.9 807,943.9 807.3,961.6 807.7,980.2 808,998.9 808.4,1016.9 808.7,1033.6 809.1,1048 809.4,1059.4 809.8,1067.2 810.1,1070.4 810.5,1066.7 810.8,1054.4 811.2,1036.9 811.5,1017.5 811.9,999.5 812.2,986.2 812.6,981.1 812.9,1003.8 813.3,1040.1 813.6,1048.1 814,1043.6 814.3,1034.9 814.7,1022.8 815,1008 815.4,991.2 815.7,973.3 816.1,955 816.4,937 816.8,920 817.1,904.9 817.5,892.3 817.8,883.1 818.2,877.9 818.5,878.5 818.9,890.7 819.2,911.4 819.6,935.7 819.9,958.5 820.3,975 820.6,980.1 821,974 821.3,960.9 821.7,943.8 822,925.9 822.4,910.1 822.7,899.6 823.1,897.2 823.4,898.1 823.8,900.1 824.1,902.8 824.5,906 824.8,911 825.2,921.1 825.5,935.3 825.9,952.3 826.2,970.9 826.6,989.7 826.9,1007.4 827.3,1022.7 827.6,1034.4 828,1041.1 828.3,1041.2 828.7,1033.2 829,1022.4 829.4,1015.3 829.7,1022.2 830.1,1046.9 830.4,1068.5 830.8,1070.7 831.1,1066.7 831.5,1059.2 831.8,1049 832.2,1036.4 832.5,1022 832.9,1006.2 833.2,989.6 833.6,972.6 833.9,955.8 834.3,939.6 834.6,924.5 835,911.1 835.3,899.7 835.7,891.1 836,885.5 836.4,883.5 836.7,892.8 837.1,916.9 837.4,949.5 837.8,984.7 838.1,1016.5 838.5,1038.8 838.8,1045.6 839.2,1034.4 839.5,1012.8 839.9,989.8 840.2,974.7 840.6,974 840.9,980.3 841.3,990.9 841.6,1003.9 842,1017.7 842.3,1030.4 842.7,1040.5 843,1046.1 843.4,1045.2 843.7,1036.2 844.1,1021.4 844.4,1003.3 844.8,984.5 845.1,967.5 845.5,954.9 845.8,949.2 846.2,957.8 846.5,983.8 846.9,1017.2 847.2,1047.6 847.6,1064.9 847.9,1064.6 848.3,1058.8 848.6,1048.8 849,1035.5 849.3,1019.4 849.7,1001.2 850,981.6 850.4,961.2 850.7,940.7 851.1,920.8 851.4,902.1 851.8,885.3 852.1,871.1 852.5,860.2 852.8,853.1 853.2,850.6 853.5,850.6 853.9,850.7 854.2,850.9 854.6,851.1 854.9,851.4 855.3,867.6 855.6,913.1 856,965.2 856.3,1000.5 856.7,1003.8 857,998.1 857.4,989.8 857.7,981.4 858.1,975.7 858.4,975.5 858.8,983.2 859.1,997 859.5,1014.2 859.8,1032.6 860.2,1049.5 860.5,1062.5 860.9,1069.1 861.2,1064 861.6,1043.2 861.9,1017.5 862.3,998.3 862.6,995.7 863,1003.8 863.3,1016.9 863.7,1030.6 864,1040.6 864.4,1042.9 864.7,1038.7 865.1,1029.7 865.4,1016.9 865.8,1001 866.1,982.7 866.5,962.9 866.8,942.4 867.2,921.9 867.5,902.2 867.9,884.2 868.2,868.6 868.6,856.2 868.9,847.8 869.3,842.4 869.6,837.2 870,832.3 870.3,827.9 870.7,824 871,820.9 871.4,818.5 871.7,817.2 872.1,816.9 872.4,817 872.8,817.4 873.1,818.1 873.5,819.1 873.8,820.6 874.2,822.5 874.5,825 874.9,828.1 875.2,831.9" fill="none" stroke="#008080" stroke-width="2.4" stroke-linejoin="round" />
<polyline points="166.5,934.4 167.2,937.5 167.9,933.7 168.6,936.9 169.3,934.6 170,933.6 170.7,935 171.4,938.1 172.1,934.5 172.8,933.2 173.5,935.3 174.2,934.2 174.9,936.1 175.6,939.1 176.3,934.8 177,938.8 177.7,933.5 178.4,936 179.1,932.7 179.8,932.1 180.5,931.6 181.2,934.6 181.9,931.2 182.6,932.7 183.3,931.9 184,935 184.7,930.8 185.4,933 186.1,932.5 186.8,936.6 187.5,928.9 188.2,932 188.9,933.6 189.6,931.4 190.3,933.1 191,933.4 191.7,932.1 192.4,936.4 193.1,939.8 193.8,937.8 194.5,934.4 195.2,935.1 195.9,934.4 196.6,937.3 197.3,936.4 198,934.5 198.7,938.7 199.4,938.9 200.1,935.9 200.8,937.6 201.5,937.5 202.2,936.8 202.9,934.2 203.6,940 204.3,937.2 205,939.9 205.7,941.9 206.4,941.4 207.1,939.1 207.8,940.9 208.5,941.3 209.2,937.1 209.9,936.8 210.6,936.4 211.3,933.3 212,938.5 212.7,933.4 213.4,937.2 214.1,936.5 214.8,935.6 215.5,937.4 216.2,934.9 216.9,934 217.6,936.7 218.3,933.4 219,938.1 219.7,936.3 220.4,937.2 221.1,937.1 221.8,937.4 222.5,937 223.2,938.9 223.9,938.7 224.6,936.6 225.3,940.9 226,939.9 226.7,933.7 227.4,936.3 228.1,942 228.8,939.9 229.5,938.7 230.2,938.8 230.9,937.4 231.6,939.3 232.3,938.3 233,941 233.7,936.9 234.4,937.3 235.1,933.6 235.8,933.1 236.5,932 237.2,932.7 237.9,935.8 238.6,938.4 239.3,937.4 240,936.5 240.7,936.6 241.4,937.1 242.1,936.6 242.8,938.2 243.5,936.1 244.2,940.9 244.9,937 245.6,935.7 246.3,936.3 247,934.6 247.7,936.7 248.4,934.2 249.1,939.1 249.8,936.1 250.5,933.7 251.2,935.5 251.9,933.3 252.6,934.1 253.3,935 254,935.6 254.7,929.8 255.4,932.9 256.1,935.4 256.8,934.9 257.5,933.8 258.2,937.3 258.9,940.2 259.6,936.4 260.3,936.8 261,939.3 261.7,939.4 262.4,936.8 263.1,935.8 263.8,936.3 264.5,936.3 265.2,937 265.9,937.3 266.6,940.1 267.3,934 268,933.9 268.7,936.2 269.4,937.2 270.1,939.7 270.8,937.1 271.5,935.5 272.2,933.7 272.9,934.4 273.6,937.1 274.3,936 275,934.1 275.7,933.6 276.4,933.8 277.1,937.5 277.8,934.9 278.5,934.3 279.2,932.6 279.9,936 280.6,938.6 281.3,932.2 282,934.7 282.7,933.6 283.4,934.4 284.1,934.1 284.8,935.8 285.5,935.2 286.2,936.1 286.9,932.5 287.6,935.6 288.3,933.2 289,932.5 289.7,936.4 290.4,936.7 291.1,937.9 291.8,935.7 292.5,937.7 293.2,937.6 293.9,938.8 294.6,938.9 295.3,936.3 296,936.4 296.7,939.9 297.4,936.9 298.1,939.8 298.8,937.4 299.5,935.6 300.2,934.8 300.9,937.6 301.6,938.6 302.3,940.7 303,941.6 303.7,940.5 304.4,941 305.1,938.6 305.8,942.3 306.5,938.8 307.2,941.1 307.9,943.3 308.6,940.9 309.3,940.4 310,942.5 310.7,938.8 311.4,936.2 312.1,941.4 312.8,937.9 313.5,934.9 314.2,939.8 314.9,938.3 315.6,932.9 316.3,933.4 317,934.6 317.7,935.7 318.4,936.8 319.1,936.9 319.8,935.3 320.5,935.8 321.2,935.4 321.9,932.8 322.6,930.8 323.3,933.8 324,935.8 324.7,933.6 325.4,935.5 326.1,932.6 326.8,931.2 327.5,936.4 328.2,934.6 328.9,935.1 329.6,937.3 330.3,940.6 331,937.2 331.7,933.8 332.4,936.7 333.1,937 333.8,934 334.5,935.7 335.2,938.8 335.9,936 336.6,935.1 337.3,940.2 338,937.7 338.7,936.2 339.4,935.5 340.1,935.3 340.8,931.2 341.5,930.2 342.2,928.8 342.9,931.4 343.6,934.1 344.3,934.2 345,931.3 345.7,935.5 346.4,935.4 347.1,940.8 347.8,935 348.5,938.8 349.2,937.7 349.9,938.3 350.6,939.8 351.3,938.5 352,939.9 352.7,937.3 353.4,937.4 354.1,935.6 354.8,937.4 355.5,937.7 356.2,937.4 356.9,938.5 357.6,941.6 358.3,941.3 359,939.8 359.7,937.2 360.4,933.7 361.1,933.9 361.8,939.2 362.5,935.4 363.2,937.5 363.9,936.4 364.6,938.5 365.3,939.3 366,937.8 366.7,937.6 367.4,940.1 368.1,939 368.8,937.1 369.5,935.3 370.2,940.7 370.9,936.3 371.6,940.6 372.3,939 373,940.5 373.7,941.4 374.4,939.1 375.1,939.9 375.8,935.8 376.5,942.3 377.2,939.6 377.9,941 378.6,939 379.3,933.2 380,938.5 380.7,940.5 381.4,942.4 382.1,939.3 382.8,937.5 383.5,934.7 384.2,940.8 384.9,940.7 385.6,937.4 386.3,936.7 387,934.5 387.7,936.6 388.4,939.8 389.1,935.7 389.8,938.4 390.5,936.3 391.2,934.9 391.9,941.1 392.6,936.1 393.3,936.9 394,938 394.7,939 395.4,936.9 396.1,937.7 396.8,938.6 397.5,936.9 398.2,938.6 398.9,935.7 399.6,935.2 400.3,933.6 401,933.7 401.7,933.7 402.4,933.4 403.1,934.7 403.8,939.9 404.5,940.3 405.2,943.4 405.9,939.7 406.6,939.9 407.3,941.2 408,937 408.7,936.9 409.4,942.4 410.1,939.9 410.8,936.7 411.5,935 412.2,937.2 412.9,937.7 413.6,934.6 414.3,935.7 415,938.7 415.7,938.3 416.4,936.2 417.1,938.7 417.8,938.5 418.5,935.1 419.2,940.1 419.9,941.6 420.6,939.4 421.3,933.9 422,937.6 422.7,936.5 423.4,936.4 424.1,931.9 424.8,941.3 425.5,934.9 426.2,936.2 426.9,936.7 427.6,935.9 428.3,935.9 429,937.1 429.7,940.2 430.4,936.5 431.1,931.8 431.8,941.1 432.5,937.5 433.2,938 433.9,934 434.6,936.8 435.3,939.1 436,940.7 436.7,939.4 437.4,936.4 438.1,938.7 438.8,934.8 439.5,934.9 440.2,937.4 440.9,933.9 441.6,933.6 442.3,935.5 443,939 443.7,938.5 444.4,937.9 445.1,937.5 445.8,933.4 446.5,934.9 447.2,937.9 447.9,934 448.6,937.3 449.3,935.8 450,936.4 450.7,938 451.4,935.4 452.1,937.9 452.8,933.4 453.5,935.3 454.2,936 454.9,942.3 455.6,942.9 456.3,939 457,935.3 457.7,941.4 458.4,938.9 459.1,942.7 459.8,940.2 460.5,940 461.2,937.9 461.9,935.5 462.6,937.3 463.3,933.3 464,937.2 464.7,935.9 465.4,936.5 466.1,934.5 466.8,935.9 467.5,936.8 468.2,933.1 468.9,933.4 469.6,933.2 470.3,935.2 471,935.7 471.7,935 472.4,934.9 473.1,936.2 473.8,931.9 474.5,936.6 475.2,932.3 475.9,930.6 476.6,939.5 477.3,940.2 478,934.7 478.7,937.4 479.4,936.5 480.1,936.1 480.8,934.5 481.5,935.8 482.2,938.7 482.9,938.1 483.6,938.2 484.3,936.4 485,940.6 485.7,936.9 486.4,937.2 487.1,933.5 487.8,932.4 488.5,938.2 489.2,933.2 489.9,933.7 490.6,933.4 491.3,934 492,933.4 492.7,932.3 493.4,932.1 494.1,933.5 494.8,934.8 495.5,932.3 496.2,931.5 496.9,935.1 497.6,933.9 498.3,937.1 499,938.9 499.7,934.7 500.4,931.5 501.1,934.9 501.8,933.7 502.5,934.4 503.2,934.4 503.9,935.9 504.6,936.1 505.3,940.9 506,937.1 506.7,935.3 507.4,932.5 508.1,936 508.8,935.9 509.5,939.7 510.2,936.8 510.9,936.4 511.6,933.6 512.3,937.8 513,937.5 513.7,932.4 514.4,935.5 515.1,938.6 515.8,935.2 516.5,936 517.2,935.3 517.9,931.4 518.6,936.1 519.3,935.4 520,935.3 520.7,934.4 521.4,932.9 522.1,933.7 522.8,934.9 523.5,932.2 524.2,938.5 524.9,935.9 525.6,935.7 526.3,934.3 527,937.1 527.7,940.8 528.4,939.9 529.1,934.9 529.8,939 530.5,941.9 531.2,932.7 531.9,937.9 532.6,935.6 533.3,936 534,938.7 534.7,934.8 535.4,937 536.1,938.4 536.8,934.5 537.5,934.3 538.2,934.9 538.9,934.8 539.6,938.6 540.3,932.7 541,936.5 541.7,931.4 542.4,934.6 543.1,933.6 543.8,927.1 544.5,932.8 545.2,932 545.9,933.5 546.6,937 547.3,932.4 548,931.7 548.7,936.4 549.4,934 550.1,937.3 550.8,934 551.5,933 552.2,935.1 552.9,937.6 553.6,936.9 554.3,936.4 555,934.4 555.7,935.3 556.4,935.2 557.1,940.2 557.8,937.5 558.5,934.6 559.2,935.6 559.9,938.7 560.6,939.2 561.3,938 562,934.9 562.7,937.1 563.4,935.8 564.1,937.6 564.8,941.2 565.5,936.4 566.2,939.2 566.9,940.3 567.6,935.7 568.3,935.7 569,937.6 569.7,933.9 570.4,932.1 571.1,936.6 571.8,936 572.5,934.5 573.2,938.8 573.9,940.4 574.6,936.5 575.3,938.9 576,936.6 576.7,935.5 577.4,934.2 578.1,937.1 578.8,937.7 579.5,939.3 580.2,935.8 580.9,938.7 581.6,936.5 582.3,938.8 583,942.7 583.7,939.2 584.4,938.6 585.1,941.5 585.8,937.2 586.5,935 587.2,937.1 587.9,938.6 588.6,933.5 589.3,933.6 590,933.2 590.7,932.7 591.4,932.4 592.1,930 592.8,932.6 593.5,932.8 594.2,935.6 594.9,935.7 595.6,934.1 596.3,937.1 597,936 597.7,934.3 598.4,934.1 599.1,936.4 599.8,937.5 600.5,940.8 601.2,941.8 601.9,938.8 602.6,940.4 603.3,941.4 604,938.2 604.7,940.3 605.4,940.5 606.1,939.7 606.8,939.5 607.5,943.9 608.2,940.8 608.9,939.9 609.6,941.2 610.3,939.7 611,940.4 611.7,939 612.4,943.1 613.1,941 613.8,940.4 614.5,937.1 615.2,938.3 615.9,933.9 616.6,934.3 617.3,936.4 618,936.9 618.7,934.4 619.4,938.8 620.1,938.1 620.8,937.4 621.5,939.1 622.2,937.6 622.9,937.4 623.6,935 624.3,934.6 625,937.9 625.7,938 626.4,935.8 627.1,935.8 627.8,935 628.5,937.8 629.2,938.9 629.9,934.6 630.6,940.9 631.3,942.7 632,942.5 632.7,943.7 633.4,939.3 634.1,940.2 634.8,939.7 635.5,939.1 636.2,939 636.9,938.9 637.6,938.4 638.3,932.2 639,935 639.7,933.3 640.4,933.8 641.1,934.5 641.8,934 642.5,934.7 643.2,935 643.9,937.5 644.6,937.3 645.3,937 646,933.2 646.7,935.6 647.4,935.4 648.1,936.8 648.8,932.4 649.5,937.9 650.2,936.3 650.9,933.6 651.6,934.6 652.3,935.9 653,938.8 653.7,941.2 654.4,939.1 655.1,941.7 655.8,944.2 656.5,940.8 657.2,942.2 657.9,941.3 658.6,941.2 659.3,939.8 660,939.5 660.7,943.5 661.4,941.4 662.1,944.4 662.8,943.8 663.5,939.9 664.2,936.2 664.9,939 665.6,940.6 666.3,938.8 667,939.3 667.7,932.5 668.4,938.3 669.1,935.1 669.8,937.5 670.5,932.3 671.2,936.5 671.9,932.2 672.6,936.5 673.3,934.3 674,936.7 674.7,944.2 675.4,938.5 676.1,935.8 676.8,935.4 677.5,932.8 678.2,936.4 678.9,938 679.6,931.5 680.3,931.1 681,934.6 681.7,935.8 682.4,935.8 683.1,936.5 683.8,933.5 684.5,934.4 685.2,932 685.9,930.2 686.6,935.1 687.3,935.6 688,943.5 688.7,941.2 689.4,940.3 690.1,941.1 690.8,944.4 691.5,941.4 692.2,937.8 692.9,939.7 693.6,941.2 694.3,937.2 695,936.5 695.7,938 696.4,936.2 697.1,937.5 697.8,938.3 698.5,937.1 699.2,939.4 699.9,939.8 700.6,939.7 701.3,938.6 702,936 702.7,939.5 703.4,940.3 704.1,941.5 704.8,940.9 705.5,938 706.2,936.4 706.9,941.5 707.6,935 708.3,932.4 709,937.3 709.7,935.6 710.4,937.3 711.1,937.3 711.8,934.8 712.5,936.2 713.2,937.1 713.9,937.4 714.6,933.7 715.3,937.6 716,931.7 716.7,932 717.4,933.6 718.1,932.3 718.8,931.3 719.5,938.1 720.2,936.2 720.9,937.7 721.6,935.6 722.3,937 723,933.1 723.7,934.6 724.4,933 725.1,935.9 725.8,930.6 726.5,933.3 727.2,937.6 727.9,936 728.6,936.1 729.3,940.9 730,937.8 730.7,937.6 731.4,940.5 732.1,937.5 732.8,941.6 733.5,939.4 734.2,936.1 734.9,935.8 735.6,937.5 736.3,935.4 737,936.4 737.7,939.1 738.4,932.8 739.1,933.4 739.8,933.7 740.5,934.4 741.2,934.8 741.9,932.9 742.6,935.6 743.3,935.6 744,934.1 744.7,933.2 745.4,935.2 746.1,941.4 746.8,937.2 747.5,938.1 748.2,938.5 748.9,939.7 749.6,938.9 750.3,935.3 751,934.2 751.7,936.7 752.4,934.7 753.1,936 753.8,931.8 754.5,932.9 755.2,932.9 755.9,934 756.6,934.2 757.3,932.4 758,932.5 758.7,934.6 759.4,937.2 760.1,934.9 760.8,937.8 761.5,936 762.2,937.3 762.9,934.2 763.6,933.4 764.3,940 765,936.5 765.7,936.5 766.4,936.6 767.1,938.5 767.8,941.6 768.5,938 769.2,942.6 769.9,939.8 770.6,940.6 771.3,940.6 772,942.6 772.7,939.7 773.4,940.6 774.1,937.3 774.8,934.8 775.5,936.7 776.2,936.6 776.9,935 777.6,940.1 778.3,940.9 779,937.2 779.7,936.8 780.4,944.2 781.1,942.4 781.8,943.3 782.5,943.4 783.2,942 783.9,942 784.6,939.5 785.3,940 786,940.5 786.7,939.5 787.4,941.4 788.1,939 788.8,938.5 789.5,937.8 790.2,937.2 790.9,935.2 791.6,937.2 792.3,936.6 793,935.5 793.7,937.4 794.4,935 795.1,940 795.8,937.6 796.5,938 797.2,940.4 797.9,946.5 798.6,942 799.3,941.6 800,941.7 800.7,941.2 801.4,944.6 802.1,939.5 802.8,944.2 803.5,938.5 804.2,942.7 804.9,939.3 805.6,942.5 806.3,938.9 807,940 807.7,941.3 808.4,942.1 809.1,936.9 809.8,935 810.5,934.8 811.2,938.5 811.9,938.1 812.6,937.7 813.3,938.4 814,937.9 814.7,936.1 815.4,938 816.1,941.4 816.8,933.4 817.5,938.3 818.2,936.7 818.9,936.8 819.6,936.3 820.3,937.5 821,934.1 821.7,936.9 822.4,937.5 823.1,938.7 823.8,938.8 824.5,938.2 825.2,936.7 825.9,939.1 826.6,939 827.3,938 828,939.1 828.7,938.8 829.4,935.1 830.1,935.8 830.8,939 831.5,938.4 832.2,936.6 832.9,936 833.6,938.1 834.3,939.7 835,938.1 835.7,943.4 836.4,939 837.1,939.5 837.8,942 838.5,941.3 839.2,943.8 839.9,941.1 840.6,939.6 841.3,938.4 842,939.9 842.7,939 843.4,942.8 844.1,941.1 844.8,938.6 845.5,939.8 846.2,942 846.9,937.9 847.6,941.2 848.3,938.9 849,937.1 849.7,937.5 850.4,934.2 851.1,937.5 851.8,936.2 852.5,939.5 853.2,933.4 853.9,930.4 854.6,934.2 855.3,937.3 856,934.8 856.7,937 857.4,937.7 858.1,938.7 858.8,938.5 859.5,938.5 860.2,940.4 860.9,937.5 861.6,937.2 862.3,935.7 863,935.4 863.7,939.4 864.4,934.8 865.1,938.1 865.8,938.2 866.5,936.9 867.2,938.5 867.9,935.5 868.6,942.4 869.3,942.1 870,942.6 870.7,939.7 871.4,939 872.1,941.3 872.8,942.8 873.5,940 874.2,941.4 874.9,937.5" fill="none" stroke="#FF0080" stroke-width="3.3" stroke-linejoin="round" />
<rect x="165.8" y="740.1" width="710.1" height="514.5" fill="none" stroke="#000" stroke-width="4.5"/>
<line x1="165.8" y1="787.6" x2="178" y2="787.6" stroke="#000" stroke-width="3.7"/>
<line x1="165.8" y1="836.8" x2="178" y2="836.8" stroke="#000" stroke-width="3.7"/>
<line x1="165.8" y1="886" x2="178" y2="886" stroke="#000" stroke-width="3.7"/>
<line x1="165.8" y1="935.2" x2="178" y2="935.2" stroke="#000" stroke-width="3.7"/>
<line x1="165.8" y1="984.4" x2="178" y2="984.4" stroke="#000" stroke-width="3.7"/>
<line x1="165.8" y1="1033.6" x2="178" y2="1033.6" stroke="#000" stroke-width="3.7"/>
<line x1="165.8" y1="1082.8" x2="178" y2="1082.8" stroke="#000" stroke-width="3.7"/>
<line x1="165.8" y1="1132" x2="178" y2="1132" stroke="#000" stroke-width="3.7"/>
<line x1="165.8" y1="1181.2" x2="178" y2="1181.2" stroke="#000" stroke-width="3.7"/>
<line x1="165.8" y1="1230.4" x2="178" y2="1230.4" stroke="#000" stroke-width="3.7"/>
<text x="154" y="749" font-size="36" text-anchor="end" fill="#000" >2</text>
<text x="154" y="800.63" font-size="36" text-anchor="end" fill="#000" >0</text>
<text x="154" y="852.26" font-size="36" text-anchor="end" fill="#000" >-2</text>
<text x="154" y="903.89" font-size="36" text-anchor="end" fill="#000" >-4</text>
<text x="154" y="955.52" font-size="36" text-anchor="end" fill="#000" >-6</text>
<text x="154" y="1007.15" font-size="36" text-anchor="end" fill="#000" >-8</text>
<text x="154" y="1058.78" font-size="36" text-anchor="end" fill="#000" >-10</text>
<text x="154" y="1110.41" font-size="36" text-anchor="end" fill="#000" >-12</text>
<text x="154" y="1162.04" font-size="36" text-anchor="end" fill="#000" >-14</text>
<text x="154" y="1213.67" font-size="36" text-anchor="end" fill="#000" >-16</text>
<text x="154" y="1265.3" font-size="36" text-anchor="end" fill="#000" >-18</text>
<text x="164.5" y="1301.9" font-size="36" text-anchor="middle" fill="#000" >0.3</text>
<text x="872" y="1301.9" font-size="36" text-anchor="middle" fill="#000" >0.4</text>
<text x="0.4" y="1426.3" font-size="49" text-anchor="start" fill="#000" font-weight="bold">c</text>
<polyline points="168,1531 173,1536.2 180.2,1563 186,1542.8 191.8,1542.8 198,1546.4 202.5,1546 207.5,1541.6 211.7,1561.7 216.4,1564.8 220.3,1551.7 223.9,1556.7 228.3,1563 231.9,1561.7 235.5,1563.9 238.1,1577.2 241.7,1582.6 244.4,1581.7 247.1,1567.4 251.5,1565.6 255.1,1561.7 258.6,1571.9 261.3,1576 264.5,1573.7 266.7,1579.9 269.4,1579 271.1,1602.2 275.6,1608.1 279.2,1587 282.7,1565.3 286.3,1565.6 289,1579.9 293.1,1593.3 295.2,1577.2 297.9,1583.5 300.6,1569.2 302.4,1579.9 305,1571 307.7,1581.7 310.4,1588.8 313.1,1599.5 316.6,1607.6 320.2,1580.8 322.7,1579 325.7,1595.1 328,1590.6 330.3,1567.4 332.8,1569.2 335.2,1589.7 337.8,1542.5 340.5,1514.8 343.2,1540.7 345,1574.6 347.1,1580.8 348.5,1572.8 351.2,1567.4 353,1581.7 355.3,1603.1 358.4,1588 360.1,1608.5 362.8,1590.6 365.5,1612 368.2,1604.9 370.8,1593.3 373.5,1608.5 377.4,1637 380,1612 381,1610.4 381.7,1639.7 382.2,1617.3 383.1,1628.5 383.9,1620.1 384.8,1628 385.5,1617.8 386.8,1633.3 387.6,1626 388.2,1638 389.2,1610.5 390,1653.6 390.6,1623.5 391.8,1639.3 392.9,1626.1 393.8,1634.5 394.4,1613 395.4,1630.4 396.3,1611.8 397.1,1636.1 398.6,1614.8 399.9,1634.9 400.6,1612.8 401.2,1650 402.2,1632.2 403,1641.9 403.5,1636.7 404.7,1646 406.2,1639.1 406.7,1656 408.2,1646 409.3,1667.6 410.2,1648.2 411.5,1673.9 412.7,1650.6 413.4,1662 414.4,1650.2 415.3,1665.1 416.5,1644 417.9,1664.3 419,1642.6 420.3,1662.6 421.2,1649.3 422.2,1661.9 423.1,1640.4 424.5,1670.1 425.7,1647 426.8,1664.4 427.7,1651 428.4,1676.3 429,1641.9 429.7,1689.7 430.6,1640.2 431.8,1673.9 433.1,1636.5 433.9,1693.3 435.3,1657.3 436.8,1676.3 437.8,1654 439.1,1682.7 439.9,1671.9 440.8,1687 441.1,1654.6 441.6,1686.5 441.8,1660.4 442.1,1692.5 442.5,1660 443,1696 443.2,1664.3 443.4,1685.1 443.7,1650.9 444.2,1697.9 444.7,1656.7 445.2,1693.4 445.6,1662.1 446,1699.1 446.4,1656.1 446.6,1701.9 447.1,1670.2 447.5,1709.7 447.9,1657.9 448.2,1696.1 448.7,1668.4 449.1,1700.8 449.6,1654.6 450,1702.3 450.3,1667.6 450.8,1689.5 451.2,1656.6 451.5,1703.6 451.9,1660.9 452.4,1699.1 452.7,1659.7 453.1,1715.8 453.4,1659.1 454,1702.3 454.2,1654.1 454.5,1697.2 454.9,1640 455.2,1699.1 455.6,1656.1 455.9,1711.7 456.3,1664.3 456.8,1706.7 457.2,1662.3 457.7,1704.5 458.2,1667 458.4,1700.8 458.9,1656.2 459.3,1710.7 459.7,1651 460,1713.8 460.5,1662.4 460.9,1722.3 461.3,1666.1 461.8,1711.4 462.2,1661.6 462.6,1717.6 463.1,1664.9 463.6,1705.4 464.1,1661.7 464.7,1719.1 465.1,1677.5 465.4,1713.6 465.9,1667.1 466.2,1706.3 466.4,1669.2 466.8,1720.1 467.2,1672.9 467.6,1722.4 467.8,1667.2 468.2,1714.3 468.6,1669.3 469.1,1722.5 469.7,1667.7 470.1,1707.9 470.6,1669.5 471.1,1711 471.5,1666.1 471.8,1738.7 472.2,1683.9 472.8,1725 473.2,1674.4 473.6,1721.9 474,1671.6 474.5,1720.6 474.7,1666.4 475.2,1715.2 475.5,1671.9 476,1723.9 476.5,1678.5 477,1728.2 477.2,1682.5 477.8,1728.9 478.3,1684.4 478.8,1732.2 479.2,1695.3 479.8,1725.2 480,1683.1 480.4,1723.2 480.8,1687 481.3,1735.8 481.8,1675.2 482.1,1744.9 482.6,1681 483.1,1734 483.4,1692.8 483.9,1741.4 484.4,1681.2 484.7,1744 485.1,1683.1 485.6,1741.7 485.9,1691.3 486.2,1748.3 486.6,1684.4 486.9,1741.2 487.2,1705.8 487.4,1747.4 487.7,1695.9 487.9,1751.9 488.3,1706.5 488.9,1734 489.2,1693 489.4,1748.4 489.8,1687.1 490.3,1748.6 490.7,1703.6 491.2,1756 491.5,1698.2 491.8,1755.5 492.2,1712.2 492.6,1757.4 493,1690.4 493.5,1756.3 493.7,1701.4 494,1769.8 494.3,1696 494.6,1755.1 494.8,1688.8 495.2,1749.9 495.4,1699.2 495.9,1758.2 496.3,1711.7 496.5,1758.5 496.8,1707.6 497.2,1751.4 497.7,1699.4 498.1,1748.7 498.4,1705.4 498.9,1761.7 499.1,1714.7 499.3,1760.5 499.7,1721.3 500.2,1748.2 500.6,1710.4 501,1773.2 501.3,1710.2 501.6,1771.8 501.8,1713.4 502.1,1751.1 502.6,1711.5 502.9,1769.2 503.4,1721.6 503.8,1768.5 504.2,1724.7 504.5,1759.1 504.9,1731.2 505.2,1766.2 505.5,1734.3 506,1776.3 506.5,1720.9 507,1764.9 507.4,1729 507.8,1766.5 508.2,1736.8 508.7,1772.2 509.2,1730 509.5,1780.7 509.9,1731.5 510.3,1788.2 510.8,1742.2 511.2,1785.4 511.5,1740.9 511.7,1776.5 512,1740.7 512.3,1774.9 512.9,1748.3 513.1,1786.5 513.4,1734.8 513.6,1785.5 514,1740.2 514.4,1786.2 514.8,1736.4 515.3,1789.2 515.7,1740.7 516,1789.2 516.4,1751.1 517,1784.3 517.4,1738.9 518,1806.2 518.4,1742.1 518.8,1784.1 519.3,1744.2 519.6,1810.9 520,1742.7 520.3,1793.1 520.6,1750.3 521,1793.5 521.5,1752.1 521.9,1805.5 522.2,1761.6 522.5,1809 522.8,1750.2 523.2,1798.2 523.8,1752.7 524.2,1804.3 524.8,1746.4 525,1812.4 525.4,1755.1 525.7,1795.1 525.9,1750 526.3,1814.2 526.7,1761.1 527.1,1808.5 527.6,1768.5 528.1,1812.1 528.6,1768.7 528.9,1815.5 529.2,1753 529.4,1818.1 529.9,1750.2 530.1,1820 530.6,1760.9 531,1818.9 531.5,1762.8 531.8,1807.8 532.1,1777.8 532.4,1809.5 532.9,1772.1 533.4,1833.2 533.9,1768.5 534.3,1821.9 534.6,1763 534.9,1814.6 535.4,1773.6 535.7,1830 536.2,1762.6 536.4,1822.1 536.8,1772.4 537.2,1837.8 537.7,1775.6 538.2,1831.8 538.4,1781.1 538.9,1842.2 539.2,1763.1 539.5,1832.2 539.9,1765 540.1,1833.5 540.5,1783.3 540.7,1828.8 541.2,1786.3 541.7,1825.4 542.1,1771.9 542.6,1827.9 543,1774.7 543.5,1833 544.1,1788.4 544.3,1818.1 544.6,1772.6 544.9,1837.4 545.4,1782.9 545.9,1818.3 546.3,1764.1 546.8,1833.8 547,1762.2 547.5,1826.2 548,1771.8 548.4,1823.8 548.6,1777.3 549.1,1823.7 549.3,1774 549.7,1836.9 550,1771.6 550.4,1823.7 550.8,1775.6 551.4,1827 551.6,1780.8 552,1831 552.3,1776.3 552.6,1824.1 552.9,1783.6 553.2,1830.2 553.5,1782.1 553.8,1817 554.1,1782.7 554.3,1833.4 554.8,1778 555.3,1822.1 555.5,1785.5 555.7,1826.6 556.2,1770.2 556.5,1834.9 557.1,1787 557.5,1834.7 557.8,1786.6 558,1846.6 558.3,1790.3 558.8,1832.7 559.1,1804.2 559.3,1829.2 559.7,1799.2 559.9,1833.4 560.2,1792.4 560.7,1839.5 560.9,1787.9 561.4,1839.9 561.8,1790.5 562.3,1840.5 562.7,1798.2 563.2,1843.6 563.6,1794.5 563.9,1845.8 564.1,1797.9 564.4,1843.5 564.8,1797.2 565.3,1852.9 565.6,1803.8 566.1,1846.3 566.3,1792.5 566.8,1853.2 567.2,1800.1 567.5,1847.4 568,1795.8 568.3,1835.4 568.9,1801.9 569.2,1849.1 569.4,1800.9 569.9,1845.8 570.4,1794.6 570.9,1836.6 571.1,1808.2 571.5,1854.7 571.8,1814.2 572.1,1852.8 572.6,1790.9 573.1,1851.1 573.6,1805.6 574,1860.8 574.4,1802.9 574.8,1851.2 575,1802 575.4,1860.7 575.6,1808 576,1862.1 576.4,1809.9 576.9,1861.6 577.2,1816 577.7,1860.4 577.9,1797.5 578.1,1865.7 578.4,1795.2 578.7,1852.9 579,1804.1 579.5,1857.8 579.8,1820.7 580.3,1860 580.7,1817.9 581,1863.7 581.4,1813.6 581.8,1871.2 582.3,1821.9 582.7,1854.6 583,1825.1 583.5,1857 583.9,1822.4 584.2,1868.3 584.4,1824.2 585,1857.9 585.4,1814.7 585.9,1878.1 586.3,1809.7 586.8,1872.3 587.2,1826.1 587.5,1875.6 587.9,1819.6 588.1,1858.1 588.5,1804 588.8,1864.5 589,1820.4 589.5,1877.8 589.8,1816 590.3,1871.7 590.6,1814.3 590.8,1869.2 591.3,1819.3 591.9,1860.1 592.4,1819.8 592.8,1873.9 593.1,1812.2 593.5,1878.6 593.8,1819.6 594.4,1875.2 594.6,1827.2 594.9,1876.7 595.2,1827.2 595.5,1862.5 596,1830.5 596.3,1869.2 596.5,1828.1 596.8,1886.7 597.3,1837.5 597.8,1870.6 598.1,1833 598.5,1879.7 599,1836.5 599.4,1877.4 599.9,1826.3 600.3,1875.9 600.8,1842.5 601,1880.2 601.3,1830.5 601.6,1877.9 602.1,1836 602.3,1873.6 602.6,1838.3 603,1876.4 603.2,1839.4 603.5,1895 603.8,1826.3 604.2,1878.3 604.6,1821.6 605.1,1882.1 605.5,1832 605.8,1876.6 606.1,1844.3 606.3,1883.9 606.8,1838.5 607.2,1883.4 607.7,1844 607.9,1875.1 608.4,1835.7 608.7,1871.9 609.1,1840.5 609.4,1888.3 609.8,1829.6 610.2,1879.2 610.5,1830.2 610.8,1886.6 611.1,1826.1 611.6,1888.1 611.8,1841.1 612.1,1882.4 612.4,1832.5 612.8,1888.4 613,1837.4 613.4,1887.7 613.7,1835.6 614,1883.8 614.5,1846.3 614.7,1886.2 615.2,1839 615.6,1892.6 616,1849.2 616.3,1888.8 616.6,1843.4 616.8,1893.4 617,1855.8 617.4,1883.4 617.7,1845.8 618.2,1899.3 618.5,1836.2 618.8,1885.8 619,1848.6 619.3,1889 619.6,1848.7 620.1,1888.5 620.6,1859.6 620.9,1897.8 621.1,1848.4 621.6,1882.2 622.1,1850.1 622.4,1894.1 622.9,1859.1 623.5,1895.1 623.9,1850.7 624.3,1891.7 624.7,1852.1 625.1,1896.5 625.4,1852.3 625.7,1896.4 626,1850.3 626.3,1899.4 626.6,1851.7 627,1892.7 627.2,1849.4 627.4,1897.2 627.7,1853.2 628.1,1897.7 628.5,1851.7 629.1,1903.6 629.3,1858 629.7,1895.6 629.9,1850.3 630.3,1896.4 630.6,1850.3 631.1,1891.4 631.4,1852.2 631.6,1912.7 632,1850.6 632.4,1910.1 632.8,1858.8 633.2,1903.4 633.4,1857.7 634,1901.5 634.3,1856.5 634.6,1901.4 635.1,1866.7 635.5,1900.3 635.7,1854.9 636,1908.2 636.5,1843.1 636.8,1896.2 637,1847.4 637.4,1908.1 637.6,1863.7 638.1,1909 638.6,1861.4 638.9,1903.1 639.2,1857.4 639.5,1910.6 640.1,1858.1 640.3,1909.1 640.8,1854.3 641.2,1910.7 641.6,1866.3 642,1905.1 642.3,1870.6 642.7,1919.5 643.1,1861.1 643.6,1910.3 644,1857.6 644.3,1912.2 644.7,1854.4 645.1,1908.2 645.5,1854.5 645.7,1908.9 646.2,1861.4 646.6,1910.4 646.9,1856.2 647.2,1915.2 647.5,1865.4 648,1915.7 648.6,1861 649.1,1931.4 649.4,1860.4 649.7,1908.6 650.3,1871.2 650.5,1917.3 651,1865.1 651.3,1912.6 651.7,1861.6 652.1,1899.6 652.6,1863 652.9,1920.1 653.4,1859.3 653.7,1907.3 654.2,1860.4 654.4,1914.7 655,1854.6 655.4,1919.5 655.7,1857.3 656,1925.4 656.3,1865.9 656.6,1921.7 657.1,1859.7 657.5,1903.9 657.9,1878 658.3,1907.6 658.7,1866.6 659,1908.7 659.5,1861 659.9,1922.9 660.2,1863.1 660.7,1916.2 660.9,1868.8 661.2,1921.5 661.6,1868.3 662.1,1925.8 662.5,1865.7 663,1921.3 663.3,1867.3 663.7,1915.5 663.9,1866.1 664.4,1923.5 664.7,1869.8 665.1,1923.2 665.6,1854.4 666.1,1909.2 666.6,1861.1 667,1924.4 667.3,1873.2 667.5,1914.3 667.7,1884.5 668,1925.1 668.6,1878.8 668.8,1934.1 669.2,1861.2 669.6,1929.1 669.9,1869 670.2,1924.8 670.5,1865.8 671,1922.6 671.5,1867.3 671.7,1920.5 672.2,1870.1 672.7,1932.1 673.1,1873.5 673.3,1917.5 673.6,1886.3 673.9,1930.3 674.3,1875.2 674.7,1925.7 675.2,1883.9 675.4,1928.7 676,1868.2 676.5,1934.2 676.9,1874.6 677.4,1928.6 677.7,1868.9 677.9,1930.1 678.4,1878.1 678.8,1921.9 679.3,1870.3 679.5,1939 679.7,1873.8 680,1924.6 680.2,1874.2 680.8,1922.4 681.1,1873 681.5,1937.1 681.8,1874.7 682.3,1922.9 682.5,1878.1 683,1932.9 683.4,1873.8 683.7,1920.6 684,1871.6 684.3,1939.2 684.6,1869 684.9,1937.1 685.3,1877.8 685.6,1932.6 686,1884.2 686.5,1943.1 686.8,1876.1 687.3,1930.3 687.5,1870.9 687.9,1942.5 688.4,1870.6 688.6,1946.1 688.9,1875.9 689.3,1939.6 689.5,1879 690,1919.2 690.4,1872 690.7,1933.7 691.1,1866 691.4,1932.5 691.9,1858 692.2,1938.8 692.6,1879.9 693.1,1938.8 693.3,1874.6 693.7,1935 694,1877.8 694.3,1922.7 694.8,1875.6 695,1937 695.4,1880.6 695.7,1929.4 696,1884.7 696.5,1940.9 696.7,1881.4 697.2,1935.6 697.7,1875.2 698.1,1938 698.6,1884.6 699,1939.7 699.4,1884.6 699.7,1939.7 700,1876 700.3,1940.6 700.5,1879.9 700.7,1937.9 701.1,1865.8 701.5,1935.1 701.8,1892.8 702.2,1952.8 702.6,1883.7 702.9,1925.1 703.2,1880.4 703.6,1945.5 704,1888.2 704.4,1938 704.8,1876.3 705.3,1940 705.8,1877.9 706,1953.8 706.3,1866.5 706.5,1943.4 707,1884 707.5,1927.6 707.8,1873.8 708.3,1938.9 708.6,1868.6 708.9,1923.5 709.1,1875.2 709.7,1943.2 710.2,1875.9 710.5,1942.6 710.9,1883.3 711.1,1949.3 711.4,1891.4 711.6,1929.4 712,1878.3 712.3,1940.5 712.8,1888.3 713.1,1941.7 713.4,1888.3 713.7,1931 714.2,1880.4 714.5,1941.7 714.9,1874.5 715.3,1922.5 715.7,1887.2 716.2,1926.4 716.5,1894.3 717,1922.5 717.6,1875.7 718,1943.1 718.6,1887.4 719,1938.4 719.2,1892.3 719.5,1938.5 719.8,1865.2 720.3,1941.3 720.5,1891.2 720.8,1937.7 721.3,1879.4 721.5,1933.7 721.8,1888.8 722.1,1942.5 722.4,1883.1 722.8,1942.3 723.3,1887.4 723.7,1942.8 724.3,1888.5 724.8,1927.1 725.2,1895.1 725.6,1940.9 726,1879.3 726.4,1941.5 726.8,1877.6 727,1947.7 727.4,1891.2 727.6,1936.8 728.2,1882.2 728.6,1931.1 729.2,1886.1 729.5,1940.4 729.7,1862 730,1935.1 730.4,1881 730.9,1937 731.3,1879.1 731.8,1938.5 732.2,1880.7 732.5,1931.7 732.7,1885.4 732.9,1942.8 733.3,1893.1 733.5,1929.8 733.8,1878.5 734.1,1934.9 734.5,1882.6 735,1933.9 735.2,1892.8 735.5,1944.2 735.9,1876.1 736.1,1939.4 736.6,1889.7 737.1,1926.7 737.4,1885.4 737.9,1945.4 738.4,1886.3 738.9,1944.2 739.3,1895.1 739.6,1940.6 739.9,1862.8 740.1,1941.3 740.3,1887.4 740.7,1933 741.2,1875.3 741.5,1956.2 742,1882.4 742.5,1944.3 742.8,1879.3 743.1,1939.4 743.4,1886.4 743.9,1947.8 744.1,1898.6 744.6,1942.7 745,1887 745.4,1939.8 745.7,1887.5 746.2,1945.9 746.5,1869.7 747,1945.3 747.3,1880.3 747.7,1944.5 748,1888.1 748.3,1931 748.8,1895.1 749.2,1935.6 749.6,1893 750,1948.6 750.2,1879.5 750.7,1928.9 751.1,1878.6 751.4,1932.8 751.7,1887.3 752.2,1951.9 752.7,1867 753.2,1927.2 753.7,1896.5 753.9,1933 754.4,1893 754.9,1945.5 755.2,1899.4 755.5,1942.2 755.9,1881.8 756.4,1936.9 756.9,1879.7 757.3,1943 757.5,1890.1 757.8,1942.3 758.1,1888.7 758.7,1945.8 758.9,1887.8 759.4,1940.6 759.7,1898.3 760,1931.7 760.3,1876 760.5,1955.9 761,1890.5 761.4,1941 761.8,1889.3 762.2,1945.1 762.7,1900.6 763,1950 763.4,1873 763.8,1947.4 764.2,1883.7 764.5,1951.2 764.8,1878.8 765.3,1946.4 765.5,1895.2 765.8,1951.6 766.4,1889.6 766.9,1931.3 767.3,1902.9 767.6,1943.8 767.9,1894 768.4,1951.8 768.7,1875.4 769.2,1955.2 769.5,1882.4 769.9,1965.3 770.2,1903 770.6,1949 770.9,1884.1 771.2,1957 771.7,1876.6 772.1,1951.3 772.3,1898 772.7,1946.9 773.1,1893.9 773.6,1956.9 773.9,1903.5 774.4,1957.9 774.9,1884.5 775.2,1950 775.6,1903.5 776.1,1955.9 776.4,1889.1 776.9,1956.6 777.2,1884.6 777.7,1959.1 778,1893.8 778.2,1947.8 778.4,1905 778.8,1934.6 779.1,1884.2 779.5,1950.6 779.8,1890.1 780,1949.8 780.3,1890.9 780.8,1957.1 781.1,1899.3 781.3,1949.1 781.7,1890.3 782.1,1951 782.6,1890.6 782.9,1942.2 783.2,1884.4 783.7,1935.6 784.1,1895.3 784.5,1952.6 784.9,1884 785.2,1938.4 785.7,1890.8 786.2,1954.2 786.5,1886.9 786.9,1948.8 787.4,1890.1 787.8,1956.2 788.1,1885.3 788.5,1967.8 789,1887.6 789.4,1949.5 789.8,1889.2 790.1,1946.5 790.3,1876.6 790.7,1962.8 791.2,1894.9 791.6,1948.8 791.9,1889.2 792.3,1940.6 792.6,1887.9 793,1939.3 793.3,1899.3 793.6,1947.4 793.9,1895.4 794.4,1960.9 795,1895 795.5,1949 795.8,1898.7 796.3,1951.2 796.8,1906.2 797.1,1957.5 797.4,1909.8 797.7,1961.1 798,1896.9 798.3,1950.4 798.8,1894.2 799.3,1946.4 799.6,1903.5 799.9,1970.5 800.2,1892.2 800.5,1958.7 800.8,1893.5 801.2,1940.3 801.5,1890.5 801.8,1961 802.2,1889.1 802.4,1955.4 802.8,1895.6 803.3,1970.1 803.8,1898.9 804,1956.5 804.3,1904.7 804.8,1944.3 805.2,1905.7 805.6,1962.9 806,1902.9 806.3,1952.8 806.7,1893.6 806.9,1950.8 807.2,1913.2 807.7,1963.8 808.1,1908.4 808.4,1956.3 808.7,1897.8 809.1,1964.5 809.5,1893.6 809.7,1965.3 810,1895.8 810.6,1969.2 811,1889.2 811.5,1956 811.9,1891.1 812.4,1958.2 812.7,1903.2 813.1,1960.9 813.5,1896.1 813.9,1967.8 814.3,1908.4 814.5,1968 814.9,1910.6 815.2,1959.3 815.5,1891.6 816,1973.9 816.2,1891.5 816.5,1952.3 816.9,1895.5 817.3,1971 817.8,1893.7 818.3,1971.7 818.5,1912.1 818.9,1967.9 819.3,1910.7 819.5,1966.4 819.9,1896.4 820.4,1965.3 820.8,1896.2 821.2,1961.4 821.6,1893.1 821.8,1966.5 822.1,1907.7 822.6,1952.8 823.1,1910.2 823.6,1973.1 823.9,1906.1 824.1,1953.6 824.4,1904.8 824.8,1972.7 825.3,1907.5 825.6,1970.3 826,1902.8 826.4,1967.9 826.7,1901.6 827,1960.8 827.3,1919 827.8,1954.3 828.2,1918 828.4,1982 828.7,1905.8 829.1,1971.7 829.6,1922.6 830,1969 830.3,1901 830.7,1964.7 831.2,1898.9 831.6,1988.1 831.8,1924.7 832,1969.4 832.4,1896.3 832.8,1957.5 833.1,1907.3 833.6,1974.5 833.8,1922.8 834.1,1973.2 834.4,1909.6 834.7,1964.3 834.9,1899.7 835.3,1973.8 835.6,1906 836,1959.4 836.4,1903.2 836.9,1971.2 837.3,1907.3 837.7,1972.6 838.2,1902.8 838.5,1967.1 838.8,1910.2 839,1974.5 839.3,1924.5 839.8,1971.7 840.3,1909.2 840.7,1960.5 841.1,1911.8 841.4,1972.6 841.7,1901.8 841.9,1966.3 842.4,1917.3 842.9,1978.7 843.3,1916.5 843.7,1969 844.1,1909.1 844.5,1969.6 844.9,1912.2 845.3,1986.4 845.7,1914.8 846.1,1979.4 846.5,1923.6 846.9,1985.4 847.1,1918.1 847.4,1995.4 847.8,1917 848.1,1986.3 848.5,1930.4 849,1978.3 849.5,1908.6 850,1978.8 850.4,1909 850.8,1987 851.3,1908.1 851.8,1977.5 852.2,1913.4 852.7,1990.5 853.2,1920.6 853.4,1975.4 854,1911.2 854.4,1984.9 854.7,1921 855.1,1984 855.4,1924.4 855.9,1999 856.3,1918.3 856.7,1970.1 857.1,1910.1 857.3,1991.7 857.8,1906.9 858.3,1990.1 858.7,1924.6 859.2,1984.3 859.6,1935.6 859.8,1982.1 860.1,1926.5 860.5,1977.2 860.8,1921.1 861.4,1987.7 861.7,1929.7 862.1,1988.6 862.4,1903.8 862.8,1981.9 863.1,1928.5 863.4,1975 863.8,1914.9 864.1,1991.2 864.3,1937.5 864.6,1978.4 865.1,1900.3 865.3,1970.5 865.5,1915.3 865.9,1973.2 866.2,1928 866.5,1995 866.7,1937.2 867.1,1979.3 867.5,1933.7 867.9,1994.3 868.1,1918.3 868.4,1993.3 868.9,1919.4 869.1,1994.7 869.6,1919.3 869.8,1982.1 870.1,1924.3 870.5,1989.9 870.7,1925.1 871.1,1998 871.4,1923.3 871.9,2010 872.3,1914.3 872.8,1995 873.3,1918.9 873.7,1988.8 874.1,1918.5 874.3,2014.3 874.6,1916.8 875,1991.2" fill="none" stroke="#008080" stroke-width="3.1" stroke-linejoin="round" />
<polyline points="167.2,1851.1 179.5,1849.6 186.2,1840 192.9,1842.2 198,1832.8 202.9,1838.4 207.4,1837.7 212.3,1848.9 216.7,1844 220.7,1851.8 224.1,1851.3 228.1,1854.7 231.4,1842.9 235.2,1849.6 238.6,1851.1 241.9,1848 247.5,1857.4 250.2,1854 254.2,1859.6 257.5,1855.1 260.4,1869.6 264.2,1849.6 267.6,1848 270.9,1841.8 274.3,1851.8 277.6,1856.2 279.8,1868.5 282.1,1860.7 283.2,1868.5 286.5,1857.4 291,1868.5 293.2,1881.9 296.5,1877.4 298.8,1883 302.1,1867.4 305.9,1855.1 308.8,1868.5 312.6,1889.7 316.6,1875.2 321.1,1853.4 324.4,1857.4 327.8,1859.6 330.4,1893 334.9,1868.5 338.5,1870.7 342.3,1887.5 347.8,1860.7 351.2,1879.7 355.6,1857.4 359,1873 362.3,1884.1 364.6,1864 365.5,1870.5 366.6,1895.3 368,1865.6 368.6,1890.9 369.6,1878.7 370.2,1893.9 370.8,1879.4 371.7,1894.5 373,1879 374.1,1895.8 375.1,1877.7 375.8,1890 377.2,1877.8 378,1889.1 379.4,1879.2 380,1887.1 381.1,1879.8 382.2,1884.5 383.1,1877.4 384.3,1887.8 385,1873.8 385.7,1889 387,1865.6 388,1889.5 389.1,1874.2 390.2,1895.8 391.6,1877.8 392.5,1889.7 393.1,1873.6 394.4,1886.6 395.4,1867.2 396.4,1890.6 397,1871.7 398.4,1901.8 399,1871 400.5,1888 401.4,1875.5 401.9,1892.1 403,1871.3 404.2,1894.8 405.1,1873.7 406.3,1888 407.4,1864.1 408.6,1892.6 409.8,1879.4 410.7,1898.6 411.4,1879.5 412.5,1899.2 413.6,1876.6 415,1899.6 415.8,1880.1 416.8,1883.6 417.6,1874.1 418.6,1882.8 420.1,1875.2 420.6,1885.4 421.6,1875.2 422.6,1887.2 423.9,1864.4 424.8,1890.8 425.6,1870.6 426.2,1889.2 427.2,1874.2 428.1,1904 428.8,1874.8 430.3,1888.7 431.5,1882.2 433,1905.1 433.8,1873.5 434.5,1899 435.6,1880.5 436.8,1903.3 438,1880.5 439.1,1893.5 439.8,1881.7 441,1890.4 442,1874.1 443,1905.5 443.6,1878.1 444.4,1896.4 445.4,1874.5 446.2,1893.3 446.8,1885.4 447.9,1906.9 448.8,1870.8 449.6,1899.2 451,1875.5 452.4,1906.6 453.8,1887.2 454.4,1898.9 455.2,1879.9 456.3,1900.5 457.2,1884.4 457.9,1919.2 458.7,1888.5 459.9,1910.6 461.3,1881.3 462,1918.9 462.6,1882.6 463.3,1908 464.1,1886.9 464.9,1910 466.1,1882.9 467,1902.1 468.2,1877.7 469.5,1920.8 470.6,1881.2 472,1905.2 473,1886.3 474.2,1903.1 475,1876.5 476.2,1906.8 477.5,1889.3 479,1904.5 479.9,1896.2 480.8,1921.1 481.9,1896.9 483.1,1924.7 484.4,1894.1 485.5,1913.8 486.4,1886.1 487,1912 488,1888.8 489.4,1900.8 490.7,1887.5 492.1,1899.4 492.7,1874.6 494.1,1905.4 495.3,1876.7 496.4,1915.8 497.4,1884.4 498,1900.3 499.1,1882.5 500.6,1906.2 501.1,1884.4 502,1905 502.6,1895.7 503.2,1916.6 504.1,1887.4 504.7,1905.5 505.5,1888.8 506.7,1909.4 507.9,1895 508.6,1921.8 509.8,1889.8 510.3,1906.7 510.9,1881.1 511.6,1914.9 512.8,1900 513.3,1920.4 514.5,1888.1 516,1918.9 516.6,1884.9 517.5,1918.4 518.3,1894.8 518.8,1908.3 519.7,1891.6 520.7,1930.1 522.2,1886 523.3,1910.2 524.3,1888 525.3,1931.5 526.3,1898 526.8,1931.9 528.3,1883.9 529.3,1913.3 530.5,1894.1 531.4,1918.9 532,1906.5 533.3,1925.3 534.1,1900.9 535.2,1933 536.5,1882.3 537.4,1913.2 538.2,1904.7 538.8,1918.7 540.1,1894.8 540.5,1933 540.9,1891.1 541.5,1936.9 542,1890.6 542.4,1935.8 542.9,1889.5 543.2,1944 543.6,1891.6 543.9,1927.4 544.4,1882.9 544.9,1934.5 545.1,1883.2 545.4,1936 545.7,1882.3 546.2,1935.7 546.5,1888.8 547.1,1941.7 547.3,1893 547.7,1935 548.2,1890.9 548.5,1935.6 548.8,1901.2 549.1,1933.7 549.6,1877.8 549.9,1931.7 550.3,1897.8 550.8,1933.4 551.2,1889.5 551.7,1930.8 551.9,1890.1 552.1,1953.8 552.6,1889.9 553,1936.9 553.5,1897.3 553.9,1930.9 554.3,1880.9 554.7,1937.1 555,1895.3 555.5,1934.4 555.9,1905.7 556.2,1935.5 556.7,1895.5 556.9,1925.2 557.2,1893.9 557.7,1930.1 558.2,1906.7 558.6,1935.8 558.8,1899 559.2,1937.8 559.5,1900.4 559.7,1933.8 560,1901 560.3,1926 560.8,1893.6 561.2,1939.5 561.5,1894.9 561.9,1933.8 562.2,1901.5 562.6,1925.7 563.1,1881.2 563.3,1940.2 563.8,1894.9 564.1,1935.6 564.5,1895 564.8,1938.7 565.3,1907.5 565.9,1935 566.2,1893.5 566.7,1941.1 567,1898.7 567.3,1938.7 567.7,1908.1 568.2,1937.4 568.7,1896.7 568.9,1954.2 569.4,1901.6 569.7,1937.1 570.3,1898.8 570.7,1939.5 571.1,1900.4 571.3,1933 571.6,1904.7 572.1,1933.2 572.6,1894.6 573,1936.1 573.5,1904.4 573.9,1945 574.4,1897 574.9,1940.8 575.4,1899.7 575.7,1935.4 576.2,1902.2 576.5,1941.3 576.8,1893.9 577.1,1941.6 577.4,1894.4 577.7,1938.2 578,1896.1 578.4,1937.8 578.8,1900.7 579.3,1939.6 579.8,1899.1 580.3,1942.4 580.8,1883.2 581.1,1940.7 581.3,1895.4 581.6,1936.6 581.9,1903.5 582.3,1929.4 582.7,1898.8 583,1952.2 583.3,1880.9 583.6,1927.6 583.9,1895 584.2,1938.3 584.5,1889.7 585,1942.4 585.4,1900.1 585.8,1929.3 586,1899.2 586.2,1937.3 586.6,1901 586.9,1937.5 587.5,1907.6 588,1938.1 588.3,1905 588.6,1933.4 588.9,1894.2 589.2,1936.8 589.6,1893.9 590,1935.4 590.3,1900.2 590.8,1941.4 591.1,1897.8 591.5,1936.9 591.8,1898 592.2,1944.3 592.6,1893.1 592.9,1943.8 593.3,1901.7 593.5,1936 594.1,1899.1 594.5,1940.1 594.8,1894.2 595.1,1952 595.6,1895.1 595.8,1940.7 596.2,1896.8 596.7,1953.7 596.9,1905.3 597.4,1938.1 597.9,1901.5 598.4,1942.3 598.9,1907.4 599.2,1941.7 599.7,1897.1 600.2,1943.8 600.4,1905.8 600.9,1938.5 601.3,1899.6 601.8,1949.1 602.3,1892.3 602.5,1929.9 602.9,1899.6 603.2,1938.7 603.8,1892.6 604,1941.8 604.4,1906 604.8,1937.7 605.1,1895.8 605.6,1945.9 606.1,1893.8 606.6,1937.9 606.9,1891.8 607.2,1934.5 607.7,1890.9 608,1939.7 608.5,1901.8 609,1941.1 609.3,1902.7 609.5,1928.5 610,1894.9 610.2,1937.7 610.8,1901.5 611.1,1940.5 611.3,1890.1 611.8,1943.2 612,1890.5 612.5,1932.8 613.1,1897 613.5,1933.1 613.9,1899 614.2,1950.9 614.5,1895.2 614.9,1945.1 615.3,1906.7 615.6,1943.4 615.9,1892.3 616.3,1932.7 616.8,1891.7 617.1,1937.9 617.4,1893.8 617.9,1945.2 618.2,1899.7 618.5,1932.2 618.8,1902 619.2,1935.2 619.8,1904.8 620.3,1940.5 620.9,1890.8 621.3,1947.6 621.6,1897.4 621.9,1946.2 622.4,1890.9 622.7,1936.7 623.3,1896.3 623.6,1945.4 623.8,1890 624.2,1929 624.7,1901 624.9,1937.6 625.4,1904.3 625.8,1936.1 626,1893.5 626.6,1942 626.9,1889.5 627.3,1933.6 627.7,1906 628.1,1945.2 628.6,1895 628.8,1946.3 629.3,1878.2 629.8,1935.6 630,1892.7 630.4,1933.7 630.8,1892.3 631.1,1946.8 631.6,1889.6 631.9,1938.7 632.4,1895.5 632.7,1931.3 633,1895.7 633.3,1941.6 633.7,1887.5 634,1938 634.2,1888.6 634.6,1941.8 635.1,1887.8 635.5,1935.8 635.9,1897.8 636.1,1947.1 636.6,1898 637,1937.9 637.5,1891.1 638,1944 638.4,1897.8 638.7,1933.4 639,1888.2 639.3,1930.8 639.8,1905.3 640,1934 640.3,1904.6 640.7,1946.4 641.1,1895.6 641.5,1941.6 642,1899.3 642.3,1934.1 642.8,1888.7 643.1,1943.6 643.6,1890 644,1928.8 644.2,1903.8 644.5,1953.3 644.7,1877.7 644.9,1937.3 645.4,1898.7 645.8,1930.7 646.1,1894 646.6,1942.8 647.1,1893.3 647.6,1940.4 647.9,1901.3 648.1,1947.6 648.5,1886.1 648.7,1946.5 649.1,1892.8 649.5,1943.3 649.9,1900.8 650.2,1942.6 650.4,1893.1 650.8,1933.1 651.3,1890.7 651.9,1953.2 652.2,1887.6 652.4,1948.5 653,1886.1 653.5,1956.1 653.9,1905 654.4,1945.7 654.7,1888.8 655.2,1941.6 655.6,1889.8 655.9,1938.7 656.3,1889.1 656.8,1945.2 657.1,1888.9 657.5,1930.3 658,1888.4 658.5,1943.7 658.9,1889.3 659.1,1945.4 659.7,1888 660.1,1942.3 660.5,1898.2 661,1931.5 661.2,1887.6 661.6,1940.6 661.8,1902.6 662.1,1941.8 662.4,1888.5 662.8,1940.4 663,1884 663.3,1945.6 663.7,1891.3 663.9,1937.1 664.3,1879.6 664.8,1936.7 665.2,1885.6 665.4,1957.6 665.8,1891 666,1943.2 666.3,1869.4 666.8,1949.4 667.2,1892.5 667.5,1946.9 668,1903 668.3,1947.6 668.5,1901.1 669,1946.4 669.4,1873.9 669.8,1958.1 670.3,1890.5 670.6,1954.3 671,1888.6 671.3,1948.3 671.5,1892.4 672,1948.6 672.3,1897.3 672.5,1947.8 672.8,1903.6 673.1,1941.7 673.3,1899.4 673.7,1948 674.1,1883.8 674.6,1948.6 675.1,1893.3 675.6,1940.1 676,1886.2 676.3,1944.2 676.7,1884.1 677.1,1949.8 677.5,1886.2 677.8,1945.6 678.2,1885.9 678.5,1946.7 678.7,1880.8 679,1941.4 679.4,1882.2 679.8,1942.4 680.3,1881.3 680.7,1945.3 681.1,1894.2 681.5,1941.9 682,1896.6 682.4,1932.1 682.7,1882.9 683,1952.2 683.4,1880.8 683.8,1936.7 684.2,1885.9 684.4,1940.9 684.8,1887.2 685.2,1946.3 685.5,1883.2 685.8,1941 686.2,1898.9 686.4,1958.5 687,1888.6 687.3,1931.6 687.5,1884.3 687.8,1927.9 688,1884.9 688.4,1932.9 688.7,1889.3 689.2,1932.4 689.6,1879.3 689.8,1945.7 690.3,1880.4 690.7,1932.3 691.2,1891.7 691.6,1927 692,1883.7 692.3,1944.2 692.6,1887.2 693.1,1937 693.4,1886.9 694,1958.4 694.3,1888.4 694.6,1936.7 694.8,1900.1 695.1,1946.3 695.6,1878.6 695.9,1931.8 696.4,1890.9 696.8,1950.3 697.3,1882.7 697.6,1943.1 697.8,1879.2 698,1948.6 698.3,1884.7 698.5,1944.8 698.7,1878 699.2,1943.2 699.4,1876.1 699.7,1938.6 700,1888.2 700.2,1940.3 700.7,1886.4 701.2,1939.6 701.5,1879.1 701.9,1940.5 702.3,1884.7 702.8,1927.4 703,1883.6 703.5,1925.1 703.8,1880.2 704.2,1933.7 704.4,1883.1 704.6,1934.4 705.1,1884.7 705.6,1924.9 705.8,1897.7 706.1,1938.4 706.6,1878.2 707.2,1943 707.5,1882.3 707.7,1944.5 708,1881.5 708.4,1939.8 708.9,1867.4 709.1,1943.1 709.5,1877.6 709.8,1951.1 710.2,1893.5 710.5,1929.2 710.7,1877.4 711.1,1949.5 711.5,1890.1 711.8,1929.9 712.1,1888.4 712.4,1938.1 712.9,1885.9 713.2,1938 713.6,1868.9 714.2,1939.9 714.6,1897.7 714.8,1942.7 715.1,1879 715.3,1942.5 715.5,1893.6 715.8,1928.9 716.2,1887.9 716.7,1942.1 717,1880.6 717.4,1938.9 717.8,1897.2 718.2,1929.2 718.6,1876.8 718.9,1942.3 719.1,1868.5 719.6,1930.2 720.1,1879.1 720.6,1944.6 721,1893.9 721.5,1940.8 722,1879 722.2,1933.8 722.7,1892.3 723,1939.8 723.4,1885.8 723.6,1939.5 724.1,1895.1 724.4,1939.2 724.8,1879.8 725.1,1940.4 725.3,1881.1 725.7,1956.2 726.1,1895.8 726.5,1939.6 726.9,1876.9 727.4,1935.3 727.8,1880.3 728.2,1948.3 728.4,1889.2 728.6,1944.1 729.2,1892.6 729.6,1936 730.1,1888.6 730.5,1949.6 730.8,1897.8 731.1,1938.6 731.4,1881.8 731.7,1946.7 732.3,1874.1 732.6,1934.1 733,1885 733.4,1929.5 733.8,1884 734.1,1938.4 734.3,1886.9 734.6,1946 735.2,1878.7 735.5,1940.7 735.9,1884.3 736.3,1939 736.8,1882.6 737.1,1927.1 737.5,1898.5 737.7,1943.6 738.2,1898.4 738.6,1946.7 739,1890.1 739.4,1950.9 739.8,1881.4 740.1,1938.3 740.7,1886.6 740.9,1951.4 741.3,1881.7 741.8,1936.5 742.2,1874.8 742.4,1929.7 742.8,1880.3 743.2,1927.7 743.6,1895 743.9,1943.2 744.4,1884 745,1947.2 745.5,1882.7 745.9,1939.7 746.2,1882.5 746.6,1937.3 747.1,1896.3 747.6,1945.2 748.1,1892.6 748.3,1947 748.8,1880.6 749.1,1951 749.4,1873 749.8,1944.2 750.2,1886 750.5,1946.3 750.8,1888 751.4,1954.7 751.6,1892.1 751.9,1935.6 752.3,1887.5 752.8,1943.8 753.1,1888.2 753.5,1952.2 753.8,1888.2 754,1950.1 754.4,1883.8 754.7,1930.5 755.2,1890.3 755.6,1949.6 756.1,1889.9 756.5,1947.4 756.9,1882.6 757.3,1937.7 757.7,1888.5 758.2,1945.9 758.5,1868.1 759,1943.3 759.3,1878 759.6,1951.3 760.1,1886.7 760.5,1936 761,1889.7 761.4,1948.1 761.6,1902.9 761.9,1947.1 762.5,1888.4 762.9,1951.6 763.3,1886.9 763.7,1958.6 764.2,1882.7 764.7,1948.4 765.2,1898.7 765.6,1952.2 765.9,1898.8 766.5,1955.1 766.8,1904.6 767.3,1939 767.8,1897.8 768,1942.6 768.2,1882.1 768.6,1961.2 769.1,1887.8 769.5,1953.7 769.9,1885 770.4,1953.9 770.8,1890.9 771.2,1953.2 771.5,1874.9 771.9,1951.2 772.2,1901.2 772.5,1947.3 772.8,1883.9 773.1,1950 773.4,1889.9 773.8,1947.8 774.2,1898.3 774.8,1957.2 775.2,1885 775.7,1945.7 776.1,1894.1 776.6,1944.6 776.9,1895.2 777.3,1956.7 777.6,1887.4 778,1957.8 778.5,1881.9 779,1958.3 779.5,1889.4 780,1956.9 780.4,1899 780.6,1955.4 780.9,1896.4 781.3,1948.1 781.5,1891 781.8,1952.6 782.2,1888.4 782.6,1945.3 783.2,1896.3 783.6,1966.9 784.1,1889.8 784.6,1961.7 784.9,1889 785.3,1941.1 785.6,1897.2 785.9,1946.2 786.4,1892.7 786.8,1944.8 787.2,1900.6 787.5,1961.1 787.9,1906.6 788.2,1959.8 788.6,1889.1 788.9,1957 789.3,1876 789.7,1956.5 789.9,1896.7 790.2,1953.5 790.5,1901.6 790.9,1961.9 791.3,1895.5 791.8,1957.3 792.1,1890.5 792.6,1949.4 792.8,1891.1 793.2,1957.3 793.6,1899 793.8,1958.8 794.1,1882.9 794.6,1958.8 795,1887.9 795.4,1953.3 795.8,1883.3 796.4,1958.1 796.6,1885 797.1,1962 797.6,1900.9 797.8,1945.8 798.1,1890.3 798.6,1962.5 798.8,1908.3 799.3,1954.6 799.7,1887 800.1,1978.3 800.5,1904.3 801,1965.3 801.4,1897.8 801.9,1957 802.3,1909.8 802.8,1945.3 803.4,1900.9 803.6,1964.7 804,1904.6 804.3,1956.7 804.6,1899.2 805.1,1960.4 805.5,1903.9 805.7,1974.7 806.2,1903.9 806.6,1959.7 807.1,1913.5 807.6,1964.5 808,1884.5 808.3,1973.8 808.5,1900.5 808.7,1957.8 809.1,1903.2 809.6,1957.1 809.8,1898.7 810.3,1965.2 810.6,1902.4 810.9,1959.6 811.1,1900.6 811.3,1966.2 811.5,1911.2 811.7,1963.5 812,1898.1 812.5,1961.2 812.7,1895.5 813,1957.7 813.3,1901.2 813.6,1968.5 814.1,1903.6 814.6,1960.6 815.1,1894.2 815.6,1964 816.1,1904.9 816.5,1954.1 816.8,1907.2 817.3,1952.6 817.6,1899.7 818.1,1962.8 818.6,1897.1 819.1,1963.1 819.6,1913.1 820.1,1952.5 820.5,1896.7 821,1950.6 821.6,1900.4 821.8,1963.1 822.1,1904.2 822.7,1972.2 822.9,1904.5 823.3,1952.2 823.8,1909 824.1,1972.8 824.6,1900.3 824.8,1965.3 825.1,1907.2 825.5,1976.4 825.9,1900.8 826.3,1985 826.7,1906.3 827.1,1972.9 827.6,1905.2 827.9,1972.8 828.2,1887 828.5,1983.4 828.7,1906.1 829.2,1977.7 829.6,1907.9 830.1,1969.9 830.4,1914.1 830.9,1984 831.1,1908.7 831.4,1968.6 831.9,1897.8 832.3,1983.6 832.6,1904.6 833.1,1989 833.3,1914.1 833.7,1969.8 834.1,1904.7 834.5,1976 835,1928 835.2,1974.6 835.7,1923.1 836.1,1979.3 836.4,1907.2 836.7,1971.5 837.1,1909.9 837.5,1980.3 837.9,1923.5 838.3,1988.2 838.8,1914.2 839.2,1976.8 839.5,1910.1 839.7,1974.2 840.1,1907.5 840.4,1970.5 840.6,1901.2 841.1,1983.4 841.7,1912.7 841.9,1983.9 842.4,1916.9 842.9,1981.1 843.1,1923.8 843.3,1976.6 843.8,1921.8 844.1,1984.9 844.6,1918.9 845,1978.1 845.3,1914.9 845.7,2001.5 846.1,1914 846.4,1988.1 846.7,1914 847.2,1978.7 847.5,1921 847.8,1982.9 848.2,1908.7 848.5,1994.1 849,1926 849.3,2002.9 849.7,1908.5 850.1,1986.3 850.4,1930 850.6,1983.8 851.1,1917.8 851.6,1974.3 852,1911.2 852.3,1987 852.6,1919.4 853,1986.7 853.3,1911.8 853.7,1990 854.1,1917.8 854.4,1980.7 854.6,1932 855,1989.3 855.3,1924.5 855.6,1969.8 856.1,1927.6 856.5,1980.6 856.9,1914.7 857.4,1988.7 857.8,1932 858.3,1982.5 858.6,1930.5 859,1968.8 859.2,1936.9 859.7,1986 860.2,1932.8 860.7,1977.7 860.9,1916.7 861.4,1972.5 861.9,1918.3 862.4,1985.5 862.9,1919.2 863.3,1979.3 863.7,1915.3 864,1996 864.5,1931.9 864.9,1995.9 865.4,1923.9 865.9,1988.6 866.4,1917.2 866.7,1992.1 866.9,1919.2 867.5,1978.9 867.8,1923.1 868,1978.4 868.3,1920.9 868.5,1990.9 869.1,1915.1 869.4,1986.9 869.9,1924.9 870.2,1993.7 870.5,1913.6 871,1999.1 871.4,1917.7 871.8,1979.3 872.2,1917.5 872.5,1997.3 873,1930.1 873.4,1982.3 873.9,1926.6 874.2,2004.8 874.6,1919.9" fill="none" stroke="#FF0080" stroke-width="3.1" stroke-linejoin="round" />
<rect x="165.8" y="1444.2" width="710.7" height="745.8" fill="none" stroke="#000" stroke-width="4.5"/>
<line x1="165.8" y1="2190.03" x2="181" y2="2190.03" stroke="#000" stroke-width="3.7"/>
<line x1="165.8" y1="2165.08" x2="173.5" y2="2165.08" stroke="#000" stroke-width="3.6"/>
<line x1="165.8" y1="2150.49" x2="173.5" y2="2150.49" stroke="#000" stroke-width="3.6"/>
<line x1="165.8" y1="2140.14" x2="173.5" y2="2140.14" stroke="#000" stroke-width="3.6"/>
<line x1="165.8" y1="2132.11" x2="173.5" y2="2132.11" stroke="#000" stroke-width="3.6"/>
<line x1="165.8" y1="2125.54" x2="173.5" y2="2125.54" stroke="#000" stroke-width="3.6"/>
<line x1="165.8" y1="2120" x2="173.5" y2="2120" stroke="#000" stroke-width="3.6"/>
<line x1="165.8" y1="2115.19" x2="173.5" y2="2115.19" stroke="#000" stroke-width="3.6"/>
<line x1="165.8" y1="2110.95" x2="173.5" y2="2110.95" stroke="#000" stroke-width="3.6"/>
<line x1="165.8" y1="2107.16" x2="181" y2="2107.16" stroke="#000" stroke-width="3.7"/>
<line x1="165.8" y1="2082.21" x2="173.5" y2="2082.21" stroke="#000" stroke-width="3.6"/>
<line x1="165.8" y1="2067.62" x2="173.5" y2="2067.62" stroke="#000" stroke-width="3.6"/>
<line x1="165.8" y1="2057.27" x2="173.5" y2="2057.27" stroke="#000" stroke-width="3.6"/>
<line x1="165.8" y1="2049.24" x2="173.5" y2="2049.24" stroke="#000" stroke-width="3.6"/>
<line x1="165.8" y1="2042.67" x2="173.5" y2="2042.67" stroke="#000" stroke-width="3.6"/>
<line x1="165.8" y1="2037.13" x2="173.5" y2="2037.13" stroke="#000" stroke-width="3.6"/>
<line x1="165.8" y1="2032.32" x2="173.5" y2="2032.32" stroke="#000" stroke-width="3.6"/>
<line x1="165.8" y1="2028.08" x2="173.5" y2="2028.08" stroke="#000" stroke-width="3.6"/>
<line x1="165.8" y1="2024.29" x2="181" y2="2024.29" stroke="#000" stroke-width="3.7"/>
<line x1="165.8" y1="1999.34" x2="173.5" y2="1999.34" stroke="#000" stroke-width="3.6"/>
<line x1="165.8" y1="1984.75" x2="173.5" y2="1984.75" stroke="#000" stroke-width="3.6"/>
<line x1="165.8" y1="1974.4" x2="173.5" y2="1974.4" stroke="#000" stroke-width="3.6"/>
<line x1="165.8" y1="1966.37" x2="173.5" y2="1966.37" stroke="#000" stroke-width="3.6"/>
<line x1="165.8" y1="1959.8" x2="173.5" y2="1959.8" stroke="#000" stroke-width="3.6"/>
<line x1="165.8" y1="1954.26" x2="173.5" y2="1954.26" stroke="#000" stroke-width="3.6"/>
<line x1="165.8" y1="1949.45" x2="173.5" y2="1949.45" stroke="#000" stroke-width="3.6"/>
<line x1="165.8" y1="1945.21" x2="173.5" y2="1945.21" stroke="#000" stroke-width="3.6"/>
<line x1="165.8" y1="1941.42" x2="181" y2="1941.42" stroke="#000" stroke-width="3.7"/>
<line x1="165.8" y1="1916.47" x2="173.5" y2="1916.47" stroke="#000" stroke-width="3.6"/>
<line x1="165.8" y1="1901.88" x2="173.5" y2="1901.88" stroke="#000" stroke-width="3.6"/>
<line x1="165.8" y1="1891.53" x2="173.5" y2="1891.53" stroke="#000" stroke-width="3.6"/>
<line x1="165.8" y1="1883.5" x2="173.5" y2="1883.5" stroke="#000" stroke-width="3.6"/>
<line x1="165.8" y1="1876.93" x2="173.5" y2="1876.93" stroke="#000" stroke-width="3.6"/>
<line x1="165.8" y1="1871.39" x2="173.5" y2="1871.39" stroke="#000" stroke-width="3.6"/>
<line x1="165.8" y1="1866.58" x2="173.5" y2="1866.58" stroke="#000" stroke-width="3.6"/>
<line x1="165.8" y1="1862.34" x2="173.5" y2="1862.34" stroke="#000" stroke-width="3.6"/>
<line x1="165.8" y1="1858.55" x2="181" y2="1858.55" stroke="#000" stroke-width="3.7"/>
<line x1="165.8" y1="1833.6" x2="173.5" y2="1833.6" stroke="#000" stroke-width="3.6"/>
<line x1="165.8" y1="1819.01" x2="173.5" y2="1819.01" stroke="#000" stroke-width="3.6"/>
<line x1="165.8" y1="1808.66" x2="173.5" y2="1808.66" stroke="#000" stroke-width="3.6"/>
<line x1="165.8" y1="1800.63" x2="173.5" y2="1800.63" stroke="#000" stroke-width="3.6"/>
<line x1="165.8" y1="1794.06" x2="173.5" y2="1794.06" stroke="#000" stroke-width="3.6"/>
<line x1="165.8" y1="1788.52" x2="173.5" y2="1788.52" stroke="#000" stroke-width="3.6"/>
<line x1="165.8" y1="1783.71" x2="173.5" y2="1783.71" stroke="#000" stroke-width="3.6"/>
<line x1="165.8" y1="1779.47" x2="173.5" y2="1779.47" stroke="#000" stroke-width="3.6"/>
<line x1="165.8" y1="1775.68" x2="181" y2="1775.68" stroke="#000" stroke-width="3.7"/>
<line x1="165.8" y1="1750.73" x2="173.5" y2="1750.73" stroke="#000" stroke-width="3.6"/>
<line x1="165.8" y1="1736.14" x2="173.5" y2="1736.14" stroke="#000" stroke-width="3.6"/>
<line x1="165.8" y1="1725.79" x2="173.5" y2="1725.79" stroke="#000" stroke-width="3.6"/>
<line x1="165.8" y1="1717.76" x2="173.5" y2="1717.76" stroke="#000" stroke-width="3.6"/>
<line x1="165.8" y1="1711.19" x2="173.5" y2="1711.19" stroke="#000" stroke-width="3.6"/>
<line x1="165.8" y1="1705.65" x2="173.5" y2="1705.65" stroke="#000" stroke-width="3.6"/>
<line x1="165.8" y1="1700.84" x2="173.5" y2="1700.84" stroke="#000" stroke-width="3.6"/>
<line x1="165.8" y1="1696.6" x2="173.5" y2="1696.6" stroke="#000" stroke-width="3.6"/>
<line x1="165.8" y1="1692.81" x2="181" y2="1692.81" stroke="#000" stroke-width="3.7"/>
<line x1="165.8" y1="1667.86" x2="173.5" y2="1667.86" stroke="#000" stroke-width="3.6"/>
<line x1="165.8" y1="1653.27" x2="173.5" y2="1653.27" stroke="#000" stroke-width="3.6"/>
<line x1="165.8" y1="1642.92" x2="173.5" y2="1642.92" stroke="#000" stroke-width="3.6"/>
<line x1="165.8" y1="1634.89" x2="173.5" y2="1634.89" stroke="#000" stroke-width="3.6"/>
<line x1="165.8" y1="1628.32" x2="173.5" y2="1628.32" stroke="#000" stroke-width="3.6"/>
<line x1="165.8" y1="1622.78" x2="173.5" y2="1622.78" stroke="#000" stroke-width="3.6"/>
<line x1="165.8" y1="1617.97" x2="173.5" y2="1617.97" stroke="#000" stroke-width="3.6"/>
<line x1="165.8" y1="1613.73" x2="173.5" y2="1613.73" stroke="#000" stroke-width="3.6"/>
<line x1="165.8" y1="1609.94" x2="181" y2="1609.94" stroke="#000" stroke-width="3.7"/>
<line x1="165.8" y1="1584.99" x2="173.5" y2="1584.99" stroke="#000" stroke-width="3.6"/>
<line x1="165.8" y1="1570.4" x2="173.5" y2="1570.4" stroke="#000" stroke-width="3.6"/>
<line x1="165.8" y1="1560.05" x2="173.5" y2="1560.05" stroke="#000" stroke-width="3.6"/>
<line x1="165.8" y1="1552.02" x2="173.5" y2="1552.02" stroke="#000" stroke-width="3.6"/>
<line x1="165.8" y1="1545.45" x2="173.5" y2="1545.45" stroke="#000" stroke-width="3.6"/>
<line x1="165.8" y1="1539.91" x2="173.5" y2="1539.91" stroke="#000" stroke-width="3.6"/>
<line x1="165.8" y1="1535.1" x2="173.5" y2="1535.1" stroke="#000" stroke-width="3.6"/>
<line x1="165.8" y1="1530.86" x2="173.5" y2="1530.86" stroke="#000" stroke-width="3.6"/>
<line x1="165.8" y1="1527.07" x2="181" y2="1527.07" stroke="#000" stroke-width="3.7"/>
<line x1="165.8" y1="1502.12" x2="173.5" y2="1502.12" stroke="#000" stroke-width="3.6"/>
<line x1="165.8" y1="1487.53" x2="173.5" y2="1487.53" stroke="#000" stroke-width="3.6"/>
<line x1="165.8" y1="1477.18" x2="173.5" y2="1477.18" stroke="#000" stroke-width="3.6"/>
<line x1="165.8" y1="1469.15" x2="173.5" y2="1469.15" stroke="#000" stroke-width="3.6"/>
<line x1="165.8" y1="1462.58" x2="173.5" y2="1462.58" stroke="#000" stroke-width="3.6"/>
<line x1="165.8" y1="1457.04" x2="173.5" y2="1457.04" stroke="#000" stroke-width="3.6"/>
<line x1="165.8" y1="1452.23" x2="173.5" y2="1452.23" stroke="#000" stroke-width="3.6"/>
<line x1="165.8" y1="1447.99" x2="173.5" y2="1447.99" stroke="#000" stroke-width="3.6"/>
<line x1="165.8" y1="1444.2" x2="181" y2="1444.2" stroke="#000" stroke-width="3.7"/>
<text x="154" y="1457.1" font-size="36" text-anchor="end" fill="#000" >100000</text>
<text x="154" y="1539.97" font-size="36" text-anchor="end" fill="#000" >10000</text>
<text x="154" y="1622.84" font-size="36" text-anchor="end" fill="#000" >1000</text>
<text x="154" y="1705.71" font-size="36" text-anchor="end" fill="#000" >100</text>
<text x="154" y="1788.58" font-size="36" text-anchor="end" fill="#000" >10</text>
<text x="154" y="1871.45" font-size="36" text-anchor="end" fill="#000" >1</text>
<text x="154" y="1954.32" font-size="36" text-anchor="end" fill="#000" >0.1</text>
<text x="154" y="2037.19" font-size="36" text-anchor="end" fill="#000" >0.01</text>
<text x="154" y="2120.06" font-size="36" text-anchor="end" fill="#000" >0.001</text>
<text x="154" y="2202.93" font-size="36" text-anchor="end" fill="#000" >0.0001</text>
<line x1="220.3" y1="2175.5" x2="220.3" y2="2190" stroke="#000" stroke-width="3.7"/>
<line x1="402.4" y1="2175.5" x2="402.4" y2="2190" stroke="#000" stroke-width="3.7"/>
<line x1="584.5" y1="2175.5" x2="584.5" y2="2190" stroke="#000" stroke-width="3.7"/>
<line x1="766.6" y1="2175.5" x2="766.6" y2="2190" stroke="#000" stroke-width="3.7"/>
<line x1="179.9" y1="2182.5" x2="179.9" y2="2190" stroke="#000" stroke-width="3.6"/>
<line x1="192.09" y1="2182.5" x2="192.09" y2="2190" stroke="#000" stroke-width="3.6"/>
<line x1="202.65" y1="2182.5" x2="202.65" y2="2190" stroke="#000" stroke-width="3.6"/>
<line x1="211.97" y1="2182.5" x2="211.97" y2="2190" stroke="#000" stroke-width="3.6"/>
<line x1="275.12" y1="2182.5" x2="275.12" y2="2190" stroke="#000" stroke-width="3.6"/>
<line x1="307.18" y1="2182.5" x2="307.18" y2="2190" stroke="#000" stroke-width="3.6"/>
<line x1="329.94" y1="2182.5" x2="329.94" y2="2190" stroke="#000" stroke-width="3.6"/>
<line x1="347.58" y1="2182.5" x2="347.58" y2="2190" stroke="#000" stroke-width="3.6"/>
<line x1="362" y1="2182.5" x2="362" y2="2190" stroke="#000" stroke-width="3.6"/>
<line x1="374.19" y1="2182.5" x2="374.19" y2="2190" stroke="#000" stroke-width="3.6"/>
<line x1="384.75" y1="2182.5" x2="384.75" y2="2190" stroke="#000" stroke-width="3.6"/>
<line x1="394.07" y1="2182.5" x2="394.07" y2="2190" stroke="#000" stroke-width="3.6"/>
<line x1="457.22" y1="2182.5" x2="457.22" y2="2190" stroke="#000" stroke-width="3.6"/>
<line x1="489.28" y1="2182.5" x2="489.28" y2="2190" stroke="#000" stroke-width="3.6"/>
<line x1="512.04" y1="2182.5" x2="512.04" y2="2190" stroke="#000" stroke-width="3.6"/>
<line x1="529.68" y1="2182.5" x2="529.68" y2="2190" stroke="#000" stroke-width="3.6"/>
<line x1="544.1" y1="2182.5" x2="544.1" y2="2190" stroke="#000" stroke-width="3.6"/>
<line x1="556.29" y1="2182.5" x2="556.29" y2="2190" stroke="#000" stroke-width="3.6"/>
<line x1="566.85" y1="2182.5" x2="566.85" y2="2190" stroke="#000" stroke-width="3.6"/>
<line x1="576.17" y1="2182.5" x2="576.17" y2="2190" stroke="#000" stroke-width="3.6"/>
<line x1="639.32" y1="2182.5" x2="639.32" y2="2190" stroke="#000" stroke-width="3.6"/>
<line x1="671.38" y1="2182.5" x2="671.38" y2="2190" stroke="#000" stroke-width="3.6"/>
<line x1="694.14" y1="2182.5" x2="694.14" y2="2190" stroke="#000" stroke-width="3.6"/>
<line x1="711.78" y1="2182.5" x2="711.78" y2="2190" stroke="#000" stroke-width="3.6"/>
<line x1="726.2" y1="2182.5" x2="726.2" y2="2190" stroke="#000" stroke-width="3.6"/>
<line x1="738.39" y1="2182.5" x2="738.39" y2="2190" stroke="#000" stroke-width="3.6"/>
<line x1="748.95" y1="2182.5" x2="748.95" y2="2190" stroke="#000" stroke-width="3.6"/>
<line x1="758.27" y1="2182.5" x2="758.27" y2="2190" stroke="#000" stroke-width="3.6"/>
<line x1="821.42" y1="2182.5" x2="821.42" y2="2190" stroke="#000" stroke-width="3.6"/>
<line x1="853.48" y1="2182.5" x2="853.48" y2="2190" stroke="#000" stroke-width="3.6"/>
<text x="220.3" y="2239.4" font-size="36" text-anchor="middle" fill="#000" >0.1</text>
<text x="402.4" y="2239.4" font-size="36" text-anchor="middle" fill="#000" >1</text>
<text x="584.5" y="2239.4" font-size="36" text-anchor="middle" fill="#000" >10</text>
<text x="766.6" y="2239.4" font-size="36" text-anchor="middle" fill="#000" >100</text>
<text x="297.2" y="69.6" font-size="33" fill="#FF0080"><tspan font-style="italic">V</tspan><tspan font-size="24" dy="7">G</tspan><tspan dy="-7"> = +1.20 V</tspan></text>
<text x="681.4" y="422.9" font-size="33" fill="#0A5A80"><tspan font-style="italic">V</tspan><tspan font-size="24" dy="7">G</tspan><tspan dy="-7"> = -1.05 V</tspan></text>
<text x="188.3" y="530.3" font-size="32" fill="#000"><tspan font-style="italic">V</tspan><tspan font-size="24" dy="6">b</tspan><tspan dy="-6">&#160; = 0.5 V</tspan></text>
<text x="487.6" y="641.5" font-size="36"><tspan font-style="italic">t</tspan> (s)</text>
<text transform="translate(51.8,293.4) rotate(-90)" x="0" y="0" font-size="36" text-anchor="middle"><tspan font-style="italic">I</tspan><tspan font-size="27" dy="9">ion</tspan><tspan dy="-9"> (nA)</tspan></text>
<text x="674.2" y="789.6" font-size="33" fill="#FF0080"><tspan font-style="italic">V</tspan><tspan font-size="24" dy="7">G</tspan><tspan dy="-7"> = +1.20 V</tspan></text>
<polyline points="528.8,933.7 628.4,780.4 668.5,780.4" fill="none" stroke="#FF0080" stroke-width="3.6"/>
<text x="541" y="1161.5" font-size="33" fill="#0A5A80"><tspan font-style="italic">V</tspan><tspan font-size="24" dy="7">G</tspan><tspan dy="-7"> = -1.05 V</tspan></text>
<text x="192.4" y="1234.7" font-size="32" fill="#000"><tspan font-style="italic">V</tspan><tspan font-size="24" dy="6">b</tspan><tspan dy="-6">&#160; = 0.5 V</tspan></text>
<text x="490.5" y="1344.8" font-size="36"><tspan font-style="italic">t</tspan> (s)</text>
<text transform="translate(51.8,996.6) rotate(-90)" x="0" y="0" font-size="36" text-anchor="middle"><tspan font-style="italic">I</tspan><tspan font-size="27" dy="9">ion</tspan><tspan dy="-9"> (nA)</tspan></text>
<text x="459" y="1634.6" font-size="33" fill="#0A5A80"><tspan font-style="italic">V</tspan><tspan font-size="24" dy="7">G</tspan><tspan dy="-7"> = -1.05 V</tspan></text>
<text x="458.8" y="2007.6" font-size="33" fill="#FF0080"><tspan font-style="italic">V</tspan><tspan font-size="24" dy="7">G</tspan><tspan dy="-7"> = +1.20 V</tspan></text>
<text x="192.4" y="2160.3" font-size="32" fill="#000"><tspan font-style="italic">V</tspan><tspan font-size="24" dy="6">b</tspan><tspan dy="-6">&#160; = 0.5 V</tspan></text>
<text x="473.9" y="2293.9" font-size="36"><tspan font-style="italic">f</tspan> (kHz)</text>
<text transform="translate(52.2,1818) rotate(-90)" x="0" y="0" font-size="36" text-anchor="middle"><tspan font-style="italic">N</tspan><tspan font-size="27" dy="9">ion</tspan><tspan dy="-9"> (pA</tspan><tspan font-size="27" dy="-10">2</tspan><tspan dy="10">/Hz)</tspan></text>
</svg></body></html>
